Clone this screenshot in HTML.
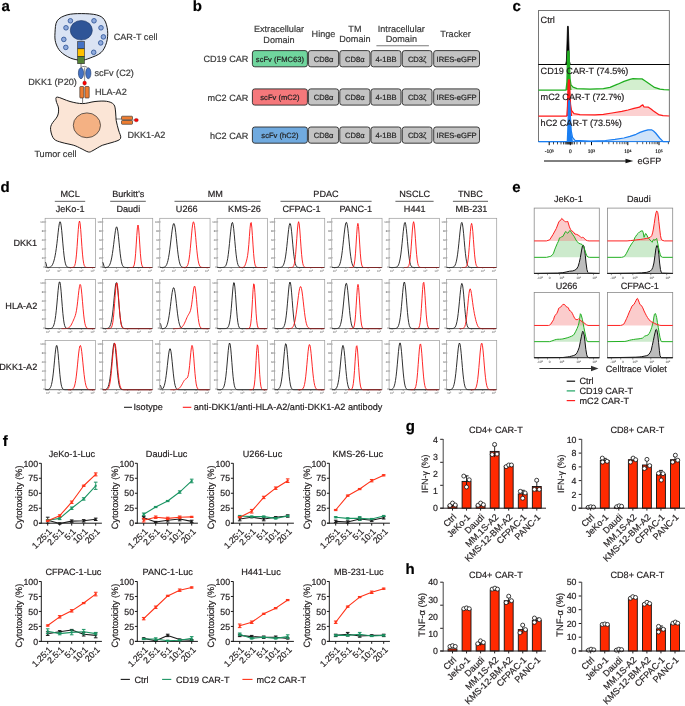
<!DOCTYPE html>
<html><head><meta charset="utf-8"><style>
html,body{margin:0;padding:0;background:#fff;}
svg{display:block;font-family:"Liberation Sans",sans-serif;text-rendering:geometricPrecision;filter:blur(0.3px);}
text{stroke-width:0.2px;}
</style></head><body>
<svg width="685" height="706" viewBox="0 0 685 706">
<rect width="685" height="706" fill="#fff"/>
<text x="1.45" y="10.75" font-size="15" text-anchor="start" fill="#000" stroke="#000" font-weight="bold">a</text>
<text x="192.8" y="10.8" font-size="15" text-anchor="start" fill="#000" stroke="#000" font-weight="bold">b</text>
<text x="512.6" y="10.9" font-size="15" text-anchor="start" fill="#000" stroke="#000" font-weight="bold">c</text>
<text x="0.6" y="192.1" font-size="15" text-anchor="start" fill="#000" stroke="#000" font-weight="bold">d</text>
<text x="512.3" y="192.4" font-size="15" text-anchor="start" fill="#000" stroke="#000" font-weight="bold">e</text>
<text x="2.65" y="446.2" font-size="15" text-anchor="start" fill="#000" stroke="#000" font-weight="bold">f</text>
<text x="405.8" y="431" font-size="15" text-anchor="start" fill="#000" stroke="#000" font-weight="bold">g</text>
<text x="405.6" y="574.4" font-size="15" text-anchor="start" fill="#000" stroke="#000" font-weight="bold">h</text>
<path d="M55,32.8 C55.25,29.15 55.18,23.78 57.2,20.8 C59.22,17.82 63.08,16.1 67.1,14.9 C71.12,13.7 76.38,13.6 81.3,13.6 C86.22,13.6 92.77,13.88 96.6,14.9 C100.43,15.92 102.47,17.07 104.3,19.7 C106.13,22.33 107.23,26.87 107.6,30.7 C107.97,34.53 107.6,39.05 106.5,42.7 C105.4,46.35 103.73,50.05 101,52.6 C98.27,55.15 93.38,56.73 90.1,58 C86.82,59.27 84.58,60.2 81.3,60.2 C78.02,60.2 73.87,59.45 70.4,58 C66.93,56.55 62.95,54.05 60.5,51.5 C58.05,48.95 56.62,45.82 55.7,42.7 C54.78,39.58 54.75,36.45 55,32.8Z" fill="#dae3f3" stroke="#1a1a1a" stroke-width="1"/>
<ellipse cx="81.3" cy="30.3" rx="11" ry="9.8" fill="#2f5597" stroke="#1f3864" stroke-width="0.6"/>
<circle cx="70.4" cy="20.8" r="2.3" fill="#8faadc" stroke="#2f5597" stroke-width="0.85"/>
<circle cx="66" cy="27.8" r="2.3" fill="#8faadc" stroke="#2f5597" stroke-width="0.85"/>
<circle cx="63.8" cy="39.4" r="2.3" fill="#8faadc" stroke="#2f5597" stroke-width="0.85"/>
<circle cx="65.8" cy="47.4" r="2.3" fill="#8faadc" stroke="#2f5597" stroke-width="0.85"/>
<circle cx="94" cy="20.8" r="2.3" fill="#8faadc" stroke="#2f5597" stroke-width="0.85"/>
<circle cx="101" cy="27.8" r="2.3" fill="#8faadc" stroke="#2f5597" stroke-width="0.85"/>
<circle cx="103.4" cy="36.9" r="2.3" fill="#8faadc" stroke="#2f5597" stroke-width="0.85"/>
<circle cx="100.7" cy="42.9" r="2.3" fill="#8faadc" stroke="#2f5597" stroke-width="0.85"/>
<circle cx="93.7" cy="52.3" r="2.3" fill="#8faadc" stroke="#2f5597" stroke-width="0.85"/>
<rect x="77.7" y="41.6" width="6.6" height="7.2" fill="#4472c4" stroke="#262626" stroke-width="0.6"/>
<rect x="77.7" y="48.8" width="6.6" height="7.5" fill="#ffc000" stroke="#262626" stroke-width="0.6"/>
<rect x="77.7" y="56.3" width="6.6" height="7.4" fill="#548235" stroke="#262626" stroke-width="0.6"/>
<path d="M81,63.7 L81,67.5" stroke="#262626" stroke-width="0.6" fill="none"/>
<path d="M81,67.5 C83,66 86,66 87.5,67.8" stroke="#262626" stroke-width="0.6" fill="none"/>
<ellipse cx="81" cy="73.2" rx="2.6" ry="5.5" fill="#4472c4" stroke="#1f3864" stroke-width="0.6"/>
<ellipse cx="88.3" cy="73.2" rx="2.6" ry="5.5" fill="#4472c4" stroke="#1f3864" stroke-width="0.6"/>
<path d="M84.6,67.5 L84.6,81" stroke="#262626" stroke-width="0.5" fill="none"/>
<ellipse cx="84.6" cy="83.1" rx="1.8" ry="2.1" fill="#ff0000" stroke="#7f0000" stroke-width="0.4"/>
<rect x="79.8" y="86.5" width="4" height="11.5" rx="0.8" fill="#ed7d31" stroke="#262626" stroke-width="0.6"/>
<rect x="84.9" y="86.5" width="4.3" height="11.5" rx="0.8" fill="#ed7d31" stroke="#262626" stroke-width="0.6"/>
<path d="M82.6,98 L82.6,103.6" stroke="#262626" stroke-width="0.6"/>
<path d="M57.4,97.1 C59.7,97.18 65.8,100.42 70,101.5 C74.2,102.58 78.43,103.6 82.6,103.6 C86.77,103.6 91,101.88 95,101.5 C99,101.12 103.47,100.8 106.6,101.3 C109.73,101.8 112.3,102.72 113.8,104.5 C115.3,106.28 115.2,109.33 115.6,112 C116,114.67 115.72,117.5 116.2,120.5 C116.68,123.5 117.78,126.98 118.5,130 C119.22,133.02 121.58,136.52 120.5,138.6 C119.42,140.68 115.03,141.38 112,142.5 C108.97,143.62 105.47,143.97 102.3,145.3 C99.13,146.63 95.3,149.38 93,150.5 C90.7,151.62 90.5,152.33 88.5,152 C86.5,151.67 83.45,149.62 81,148.5 C78.55,147.38 76.97,146.3 73.8,145.3 C70.63,144.3 65.28,143.53 62,142.5 C58.72,141.47 55.97,141.02 54.1,139.1 C52.23,137.18 51.23,133.43 50.8,131 C50.37,128.57 50.38,127 51.5,124.5 C52.62,122 56.33,118.75 57.5,116 C58.67,113.25 58.72,110.5 58.5,108 C58.28,105.5 56.38,102.82 56.2,101 C56.02,99.18 55.1,97.02 57.4,97.1Z" fill="#fbe5d6" stroke="#1a1a1a" stroke-width="1"/>
<ellipse cx="86.9" cy="125.3" rx="13.6" ry="12.4" fill="#f4b183" stroke="#262626" stroke-width="0.7"/>
<path d="M115.8,119 L121.5,119" stroke="#262626" stroke-width="0.6"/>
<rect x="121.5" y="116.2" width="11" height="3.6" rx="0.8" fill="#ed7d31" stroke="#262626" stroke-width="0.6"/>
<rect x="121.5" y="120.5" width="11" height="3.8" rx="0.8" fill="#ed7d31" stroke="#262626" stroke-width="0.6"/>
<path d="M132.5,120 L134.5,120" stroke="#262626" stroke-width="0.5"/>
<ellipse cx="136.3" cy="120.1" rx="2" ry="1.7" fill="#ff0000" stroke="#7f0000" stroke-width="0.4"/>
<text x="113.7" y="39.9" font-size="9.1" text-anchor="start" fill="#3c3c3c" stroke="#3c3c3c">CAR-T cell</text>
<text x="94.4" y="76.2" font-size="9.1" text-anchor="start" fill="#3c3c3c" stroke="#3c3c3c">scFv (C2)</text>
<text x="28.3" y="85" font-size="9.1" text-anchor="start" fill="#3c3c3c" stroke="#3c3c3c">DKK1 (P20)</text>
<text x="94.9" y="94.6" font-size="9.1" text-anchor="start" fill="#3c3c3c" stroke="#3c3c3c">HLA-A2</text>
<text x="127.4" y="138" font-size="9.1" text-anchor="start" fill="#3c3c3c" stroke="#3c3c3c">DKK1-A2</text>
<text x="34.4" y="157" font-size="9.1" text-anchor="start" fill="#3c3c3c" stroke="#3c3c3c">Tumor cell</text>
<text x="279" y="31.7" font-size="9.1" text-anchor="middle" fill="#3a3a3a" stroke="#3a3a3a">Extracellular</text>
<text x="279" y="42.5" font-size="9.1" text-anchor="middle" fill="#3a3a3a" stroke="#3a3a3a">Domain</text>
<text x="354.9" y="31.5" font-size="9.1" text-anchor="middle" fill="#3a3a3a" stroke="#3a3a3a">TM</text>
<text x="354.9" y="42.4" font-size="9.1" text-anchor="middle" fill="#3a3a3a" stroke="#3a3a3a">Domain</text>
<text x="401.3" y="31.5" font-size="9.1" text-anchor="middle" fill="#3a3a3a" stroke="#3a3a3a">Intracellular</text>
<text x="401.3" y="42.4" font-size="9.1" text-anchor="middle" fill="#3a3a3a" stroke="#3a3a3a">Domain</text>
<text x="323.5" y="37.3" font-size="9.1" text-anchor="middle" fill="#3a3a3a" stroke="#3a3a3a">Hinge</text>
<text x="455.6" y="36.5" font-size="9.1" text-anchor="middle" fill="#3a3a3a" stroke="#3a3a3a">Tracker</text>
<line x1="376.4" y1="45.8" x2="428.9" y2="45.8" stroke="#7a7a7a" stroke-width="1.1"/>
<text x="248.4" y="62.2" font-size="9.1" text-anchor="end" fill="#3a3a3a" stroke="#3a3a3a">CD19 CAR</text>
<rect x="252.4" y="50.6" width="55" height="16.2" rx="2.4" fill="#70d69e" stroke="#2a2a2a" stroke-width="0.9"/>
<text x="279.9" y="61.5" font-size="7.6" text-anchor="middle" fill="#222" stroke="#222">scFv (FMC63)</text>
<rect x="308.4" y="50.6" width="30.2" height="16.2" rx="2.4" fill="#c3c3c3" stroke="#2a2a2a" stroke-width="0.9"/>
<text x="323.5" y="61.5" font-size="7.6" text-anchor="middle" fill="#222" stroke="#222">CD8&#945;</text>
<rect x="339.8" y="50.6" width="30.2" height="16.2" rx="2.4" fill="#c3c3c3" stroke="#2a2a2a" stroke-width="0.9"/>
<text x="354.9" y="61.5" font-size="7.6" text-anchor="middle" fill="#222" stroke="#222">CD8&#945;</text>
<rect x="371" y="50.6" width="30" height="16.2" rx="2.4" fill="#c3c3c3" stroke="#2a2a2a" stroke-width="0.9"/>
<text x="386" y="61.5" font-size="7.6" text-anchor="middle" fill="#222" stroke="#222">4-1BB</text>
<rect x="402.3" y="50.6" width="29.7" height="16.2" rx="2.4" fill="#c3c3c3" stroke="#2a2a2a" stroke-width="0.9"/>
<text x="417.15" y="61.5" font-size="7.6" text-anchor="middle" fill="#222" stroke="#222">CD3&#950;</text>
<rect x="433.7" y="50.6" width="45.8" height="16.2" rx="2.4" fill="#c3c3c3" stroke="#2a2a2a" stroke-width="0.9"/>
<text x="456.6" y="61.5" font-size="7.6" text-anchor="middle" fill="#222" stroke="#222">IRES-eGFP</text>
<text x="248.4" y="100.5" font-size="9.1" text-anchor="end" fill="#3a3a3a" stroke="#3a3a3a">mC2 CAR</text>
<rect x="252.4" y="88.9" width="55" height="16.2" rx="2.4" fill="#f5787b" stroke="#2a2a2a" stroke-width="0.9"/>
<text x="279.9" y="99.8" font-size="7.6" text-anchor="middle" fill="#222" stroke="#222">scFv (mC2)</text>
<rect x="308.4" y="88.9" width="30.2" height="16.2" rx="2.4" fill="#c3c3c3" stroke="#2a2a2a" stroke-width="0.9"/>
<text x="323.5" y="99.8" font-size="7.6" text-anchor="middle" fill="#222" stroke="#222">CD8&#945;</text>
<rect x="339.8" y="88.9" width="30.2" height="16.2" rx="2.4" fill="#c3c3c3" stroke="#2a2a2a" stroke-width="0.9"/>
<text x="354.9" y="99.8" font-size="7.6" text-anchor="middle" fill="#222" stroke="#222">CD8&#945;</text>
<rect x="371" y="88.9" width="30" height="16.2" rx="2.4" fill="#c3c3c3" stroke="#2a2a2a" stroke-width="0.9"/>
<text x="386" y="99.8" font-size="7.6" text-anchor="middle" fill="#222" stroke="#222">4-1BB</text>
<rect x="402.3" y="88.9" width="29.7" height="16.2" rx="2.4" fill="#c3c3c3" stroke="#2a2a2a" stroke-width="0.9"/>
<text x="417.15" y="99.8" font-size="7.6" text-anchor="middle" fill="#222" stroke="#222">CD3&#950;</text>
<rect x="433.7" y="88.9" width="45.8" height="16.2" rx="2.4" fill="#c3c3c3" stroke="#2a2a2a" stroke-width="0.9"/>
<text x="456.6" y="99.8" font-size="7.6" text-anchor="middle" fill="#222" stroke="#222">IRES-eGFP</text>
<text x="248.4" y="138.6" font-size="9.1" text-anchor="end" fill="#3a3a3a" stroke="#3a3a3a">hC2 CAR</text>
<rect x="252.4" y="127" width="55" height="16.2" rx="2.4" fill="#70aadf" stroke="#2a2a2a" stroke-width="0.9"/>
<text x="279.9" y="137.9" font-size="7.6" text-anchor="middle" fill="#222" stroke="#222">scFv (hC2)</text>
<rect x="308.4" y="127" width="30.2" height="16.2" rx="2.4" fill="#c3c3c3" stroke="#2a2a2a" stroke-width="0.9"/>
<text x="323.5" y="137.9" font-size="7.6" text-anchor="middle" fill="#222" stroke="#222">CD8&#945;</text>
<rect x="339.8" y="127" width="30.2" height="16.2" rx="2.4" fill="#c3c3c3" stroke="#2a2a2a" stroke-width="0.9"/>
<text x="354.9" y="137.9" font-size="7.6" text-anchor="middle" fill="#222" stroke="#222">CD8&#945;</text>
<rect x="371" y="127" width="30" height="16.2" rx="2.4" fill="#c3c3c3" stroke="#2a2a2a" stroke-width="0.9"/>
<text x="386" y="137.9" font-size="7.6" text-anchor="middle" fill="#222" stroke="#222">4-1BB</text>
<rect x="402.3" y="127" width="29.7" height="16.2" rx="2.4" fill="#c3c3c3" stroke="#2a2a2a" stroke-width="0.9"/>
<text x="417.15" y="137.9" font-size="7.6" text-anchor="middle" fill="#222" stroke="#222">CD3&#950;</text>
<rect x="433.7" y="127" width="45.8" height="16.2" rx="2.4" fill="#c3c3c3" stroke="#2a2a2a" stroke-width="0.9"/>
<text x="456.6" y="137.9" font-size="7.6" text-anchor="middle" fill="#222" stroke="#222">IRES-eGFP</text>
<rect x="538.5" y="10.6" width="130.8" height="131" fill="none" stroke="#555" stroke-width="0.8"/>
<line x1="538.5" y1="64.5" x2="669.3" y2="64.5" stroke="#444" stroke-width="0.9"/>
<polygon points="538.5,64.5 538.5,64.5 565.6,64.5 566.4,61 567.1,40 567.5,26.3 568.3,26.3 568.8,42 569.4,61 570.3,64.5 669.3,64.5 669.3,64.5" stroke="#000" stroke-width="0.8" fill="#000" stroke-linejoin="round"/>
<polygon points="538.5,90.1 538.5,90.1 566,90.1 566.9,82 567.5,58 567.9,51 568.9,51 569.4,62 570.1,79 571,84.8 573,87.2 577,88.6 590,89.1 603.4,88.6 610,87.3 617.7,84.2 624,81.4 630,79.4 633,78.7 638,78.8 642,78.9 644.5,80.5 647.4,82.4 651,85 654.5,87.4 660,89.2 664,89.7 669.3,89.9 669.3,90.1" stroke="none" stroke-width="0" fill="#d3efcf" stroke-linejoin="round"/>
<polygon points="566.2,90.1 566.2,90.1 566.9,82 567.5,58 567.9,51 568.9,51 569.4,62 570.1,79 571,86 571.5,90.1 571.5,90.1" stroke="none" stroke-width="0" fill="#1fae1f" stroke-linejoin="round"/>
<polyline points="538.5,90.1 566,90.1 566.9,82 567.5,58 567.9,51 568.9,51 569.4,62 570.1,79 571,84.8 573,87.2 577,88.6 590,89.1 603.4,88.6 610,87.3 617.7,84.2 624,81.4 630,79.4 633,78.7 638,78.8 642,78.9 644.5,80.5 647.4,82.4 651,85 654.5,87.4 660,89.2 664,89.7 669.3,89.9" stroke="#1fae1f" stroke-width="1.25" fill="none" stroke-linejoin="round"/>
<polygon points="538.5,116 538.5,116 566.8,116 567.5,106 568.1,84 568.5,79.8 569.4,79.8 569.9,90 570.5,104 571.5,110.5 574,113.6 580,114.7 595,114.9 603.4,114.3 612,113 621.8,111.4 628,110 634,108.4 639.5,107.2 641.5,105.6 642.8,104.8 644,107 648.4,107.2 651,109 653.5,111 658.6,114.6 663,115.7 669.3,116 669.3,116" stroke="none" stroke-width="0" fill="#fcd0d0" stroke-linejoin="round"/>
<polygon points="567,116 567,116 567.5,106 568.1,84 568.5,79.8 569.4,79.8 569.9,90 570.5,104 571.5,110.5 572.2,116 572.2,116" stroke="none" stroke-width="0" fill="#ff1a1a" stroke-linejoin="round"/>
<polyline points="538.5,116 566.8,116 567.5,106 568.1,84 568.5,79.8 569.4,79.8 569.9,90 570.5,104 571.5,110.5 574,113.6 580,114.7 595,114.9 603.4,114.3 612,113 621.8,111.4 628,110 634,108.4 639.5,107.2 641.5,105.6 642.8,104.8 644,107 648.4,107.2 651,109 653.5,111 658.6,114.6 663,115.7 669.3,116" stroke="#ff1a1a" stroke-width="1.25" fill="none" stroke-linejoin="round"/>
<polygon points="538.5,141.6 538.5,141.6 567.3,141.6 567.9,128 568.6,103 569.1,100.2 569.8,102.5 570.4,117 571.2,130.5 572.5,137.3 575,140.4 590,141.2 605.5,140.5 615,139.4 623.9,138 630,136.4 636.1,134.3 640,132.4 644.3,130.9 648,129.8 651.5,129.8 653.5,131 655.6,133 659.6,138 663.2,141.6 669.3,141.6 669.3,141.6" stroke="none" stroke-width="0" fill="#cfe3f9" stroke-linejoin="round"/>
<polygon points="567.5,141.6 567.5,141.6 567.9,128 568.6,103 569.1,100.2 569.8,102.5 570.4,117 571.2,130.5 572,137 573,141.6 573,141.6" stroke="none" stroke-width="0" fill="#1a7ef2" stroke-linejoin="round"/>
<polyline points="538.5,141.6 567.3,141.6 567.9,128 568.6,103 569.1,100.2 569.8,102.5 570.4,117 571.2,130.5 572.5,137.3 575,140.4 590,141.2 605.5,140.5 615,139.4 623.9,138 630,136.4 636.1,134.3 640,132.4 644.3,130.9 648,129.8 651.5,129.8 653.5,131 655.6,133 659.6,138 663.2,141.6 669.3,141.6" stroke="#1a7ef2" stroke-width="1.25" fill="none" stroke-linejoin="round"/>
<line x1="538.5" y1="141.6" x2="669.3" y2="141.6" stroke="#1a7ef2" stroke-width="1.0"/>
<line x1="549.2" y1="142" x2="549.2" y2="145.2" stroke="#000" stroke-width="1.0"/>
<line x1="570.3" y1="142" x2="570.3" y2="145.2" stroke="#000" stroke-width="1.0"/>
<line x1="591.5" y1="142" x2="591.5" y2="145.2" stroke="#000" stroke-width="1.0"/>
<line x1="627.8" y1="142" x2="627.8" y2="145.2" stroke="#000" stroke-width="1.0"/>
<line x1="659" y1="142" x2="659" y2="145.2" stroke="#000" stroke-width="1.0"/>
<line x1="602.43" y1="142" x2="602.43" y2="144.2" stroke="#111" stroke-width="0.7"/>
<line x1="637.19" y1="142" x2="637.19" y2="144.2" stroke="#111" stroke-width="0.7"/>
<line x1="608.82" y1="142" x2="608.82" y2="144.2" stroke="#111" stroke-width="0.7"/>
<line x1="642.69" y1="142" x2="642.69" y2="144.2" stroke="#111" stroke-width="0.7"/>
<line x1="613.35" y1="142" x2="613.35" y2="144.2" stroke="#111" stroke-width="0.7"/>
<line x1="646.58" y1="142" x2="646.58" y2="144.2" stroke="#111" stroke-width="0.7"/>
<line x1="616.87" y1="142" x2="616.87" y2="144.2" stroke="#111" stroke-width="0.7"/>
<line x1="649.61" y1="142" x2="649.61" y2="144.2" stroke="#111" stroke-width="0.7"/>
<line x1="619.75" y1="142" x2="619.75" y2="144.2" stroke="#111" stroke-width="0.7"/>
<line x1="652.08" y1="142" x2="652.08" y2="144.2" stroke="#111" stroke-width="0.7"/>
<line x1="622.18" y1="142" x2="622.18" y2="144.2" stroke="#111" stroke-width="0.7"/>
<line x1="654.17" y1="142" x2="654.17" y2="144.2" stroke="#111" stroke-width="0.7"/>
<line x1="624.28" y1="142" x2="624.28" y2="144.2" stroke="#111" stroke-width="0.7"/>
<line x1="655.98" y1="142" x2="655.98" y2="144.2" stroke="#111" stroke-width="0.7"/>
<line x1="626.14" y1="142" x2="626.14" y2="144.2" stroke="#111" stroke-width="0.7"/>
<line x1="657.57" y1="142" x2="657.57" y2="144.2" stroke="#111" stroke-width="0.7"/>
<line x1="668.39" y1="142" x2="668.39" y2="144.2" stroke="#111" stroke-width="0.7"/>
<line x1="553.5" y1="142" x2="553.5" y2="144.4" stroke="#000" stroke-width="0.7"/>
<line x1="557.5" y1="142" x2="557.5" y2="144.4" stroke="#000" stroke-width="0.7"/>
<line x1="561" y1="142" x2="561" y2="144.4" stroke="#000" stroke-width="0.7"/>
<line x1="563.5" y1="142" x2="563.5" y2="144.4" stroke="#000" stroke-width="0.7"/>
<line x1="565.2" y1="142" x2="565.2" y2="144.4" stroke="#000" stroke-width="0.7"/>
<line x1="566.2" y1="142" x2="566.2" y2="144.4" stroke="#000" stroke-width="0.7"/>
<line x1="567" y1="142" x2="567" y2="144.4" stroke="#000" stroke-width="0.7"/>
<line x1="567.7" y1="142" x2="567.7" y2="144.4" stroke="#000" stroke-width="0.7"/>
<line x1="568.4" y1="142" x2="568.4" y2="144.4" stroke="#000" stroke-width="0.7"/>
<line x1="569.1" y1="142" x2="569.1" y2="144.4" stroke="#000" stroke-width="0.7"/>
<line x1="569.7" y1="142" x2="569.7" y2="144.4" stroke="#000" stroke-width="0.7"/>
<line x1="571" y1="142" x2="571" y2="144.4" stroke="#000" stroke-width="0.7"/>
<line x1="571.8" y1="142" x2="571.8" y2="144.4" stroke="#000" stroke-width="0.7"/>
<line x1="572.8" y1="142" x2="572.8" y2="144.4" stroke="#000" stroke-width="0.7"/>
<line x1="574.5" y1="142" x2="574.5" y2="144.4" stroke="#000" stroke-width="0.7"/>
<line x1="577" y1="142" x2="577" y2="144.4" stroke="#000" stroke-width="0.7"/>
<line x1="580.5" y1="142" x2="580.5" y2="144.4" stroke="#000" stroke-width="0.7"/>
<line x1="585" y1="142" x2="585" y2="144.4" stroke="#000" stroke-width="0.7"/>
<text x="549.2" y="153.4" font-size="5.4" text-anchor="middle" fill="#222" stroke="#222" font-family="Liberation Serif, serif">-10<tspan dy="-1.5" font-size="3.8">3</tspan></text>
<text x="570.3" y="153.4" font-size="5.4" text-anchor="middle" fill="#222" stroke="#222" font-family="Liberation Serif, serif">0</text>
<text x="591.5" y="153.4" font-size="5.4" text-anchor="middle" fill="#222" stroke="#222" font-family="Liberation Serif, serif">10<tspan dy="-1.5" font-size="3.8">3</tspan></text>
<text x="627.8" y="153.4" font-size="5.4" text-anchor="middle" fill="#222" stroke="#222" font-family="Liberation Serif, serif">10<tspan dy="-1.5" font-size="3.8">4</tspan></text>
<text x="659" y="153.4" font-size="5.4" text-anchor="middle" fill="#222" stroke="#222" font-family="Liberation Serif, serif">10<tspan dy="-1.5" font-size="3.8">5</tspan></text>
<text x="540.6" y="22.6" font-size="9.1" text-anchor="start" fill="#231f20" stroke="#231f20">Ctrl</text>
<text x="540.6" y="74.2" font-size="9.1" text-anchor="start" fill="#231f20" stroke="#231f20">CD19 CAR-T (74.5%)</text>
<text x="540.6" y="100.4" font-size="9.1" text-anchor="start" fill="#231f20" stroke="#231f20">mC2 CAR-T (72.7%)</text>
<text x="540.6" y="126.4" font-size="9.1" text-anchor="start" fill="#231f20" stroke="#231f20">hC2 CAR-T (73.5%)</text>
<line x1="544" y1="161" x2="627.5" y2="161" stroke="#000" stroke-width="1.0"/>
<path d="M625.5,158.8 L633.3,161 L625.5,163.2 Z" fill="#111"/>
<text x="637.5" y="164" font-size="9.1" text-anchor="start" fill="#231f20" stroke="#231f20">eGFP</text>
<text x="70.1" y="197.2" font-size="9.1" text-anchor="middle" fill="#231f20" stroke="#231f20">MCL</text>
<line x1="54.8" y1="201.4" x2="85.2" y2="201.4" stroke="#7d7d7d" stroke-width="1.2"/>
<text x="128.3" y="197.2" font-size="9.1" text-anchor="middle" fill="#231f20" stroke="#231f20">Burkitt&#8217;s</text>
<line x1="110.2" y1="201.4" x2="145.8" y2="201.4" stroke="#7d7d7d" stroke-width="1.2"/>
<text x="215.3" y="197.2" font-size="9.1" text-anchor="middle" fill="#231f20" stroke="#231f20">MM</text>
<line x1="174.5" y1="201.4" x2="260.6" y2="201.4" stroke="#7d7d7d" stroke-width="1.2"/>
<text x="326" y="197.2" font-size="9.1" text-anchor="middle" fill="#231f20" stroke="#231f20">PDAC</text>
<line x1="280.5" y1="201.4" x2="371.6" y2="201.4" stroke="#7d7d7d" stroke-width="1.2"/>
<text x="414.7" y="197.2" font-size="9.1" text-anchor="middle" fill="#231f20" stroke="#231f20">NSCLC</text>
<line x1="395.4" y1="201.4" x2="433.6" y2="201.4" stroke="#7d7d7d" stroke-width="1.2"/>
<text x="470.4" y="197.2" font-size="9.1" text-anchor="middle" fill="#231f20" stroke="#231f20">TNBC</text>
<line x1="452.9" y1="201.4" x2="488" y2="201.4" stroke="#7d7d7d" stroke-width="1.2"/>
<text x="70.1" y="211.7" font-size="9.1" text-anchor="middle" fill="#231f20" stroke="#231f20">JeKo-1</text>
<text x="128.3" y="211.7" font-size="9.1" text-anchor="middle" fill="#231f20" stroke="#231f20">Daudi</text>
<text x="186.7" y="211.7" font-size="9.1" text-anchor="middle" fill="#231f20" stroke="#231f20">U266</text>
<text x="244.5" y="211.7" font-size="9.1" text-anchor="middle" fill="#231f20" stroke="#231f20">KMS-26</text>
<text x="301.5" y="211.7" font-size="9.1" text-anchor="middle" fill="#231f20" stroke="#231f20">CFPAC-1</text>
<text x="355.8" y="211.7" font-size="9.1" text-anchor="middle" fill="#231f20" stroke="#231f20">PANC-1</text>
<text x="414.7" y="211.7" font-size="9.1" text-anchor="middle" fill="#231f20" stroke="#231f20">H441</text>
<text x="471.5" y="211.7" font-size="9.1" text-anchor="middle" fill="#231f20" stroke="#231f20">MB-231</text>
<text x="37.2" y="245.9" font-size="9.1" text-anchor="end" fill="#231f20" stroke="#231f20">DKK1</text>
<text x="37.2" y="308.6" font-size="9.1" text-anchor="end" fill="#231f20" stroke="#231f20">HLA-A2</text>
<text x="37.2" y="369.6" font-size="9.1" text-anchor="end" fill="#231f20" stroke="#231f20">DKK1-A2</text>
<rect x="45.1" y="218.3" width="50.3" height="49.2" fill="none" stroke="#9a9a9a" stroke-width="0.7"/>
<line x1="45.1" y1="266.7" x2="46.2" y2="266.7" stroke="#666" stroke-width="0.45"/>
<text x="44.7" y="267.6" font-size="2.7" text-anchor="end" fill="#777" stroke="#777" style="stroke-width:0.05px">0</text>
<line x1="45.1" y1="257.75" x2="46.2" y2="257.75" stroke="#666" stroke-width="0.45"/>
<text x="44.7" y="258.65" font-size="2.7" text-anchor="end" fill="#777" stroke="#777" style="stroke-width:0.05px">20</text>
<line x1="45.1" y1="248.8" x2="46.2" y2="248.8" stroke="#666" stroke-width="0.45"/>
<text x="44.7" y="249.7" font-size="2.7" text-anchor="end" fill="#777" stroke="#777" style="stroke-width:0.05px">40</text>
<line x1="45.1" y1="239.85" x2="46.2" y2="239.85" stroke="#666" stroke-width="0.45"/>
<text x="44.7" y="240.75" font-size="2.7" text-anchor="end" fill="#777" stroke="#777" style="stroke-width:0.05px">60</text>
<line x1="45.1" y1="230.9" x2="46.2" y2="230.9" stroke="#666" stroke-width="0.45"/>
<text x="44.7" y="231.8" font-size="2.7" text-anchor="end" fill="#777" stroke="#777" style="stroke-width:0.05px">80</text>
<line x1="45.1" y1="221.95" x2="46.2" y2="221.95" stroke="#666" stroke-width="0.45"/>
<text x="44.7" y="222.85" font-size="2.7" text-anchor="end" fill="#777" stroke="#777" style="stroke-width:0.05px">100</text>
<line x1="48.1" y1="267.5" x2="48.1" y2="268.8" stroke="#666" stroke-width="0.45"/>
<text x="48.1" y="272.1" font-size="2.7" text-anchor="middle" fill="#777" stroke="#777" style="stroke-width:0.05px">10<tspan dy="-1" font-size="2">1</tspan></text>
<line x1="59.2" y1="267.5" x2="59.2" y2="268.8" stroke="#666" stroke-width="0.45"/>
<text x="59.2" y="272.1" font-size="2.7" text-anchor="middle" fill="#777" stroke="#777" style="stroke-width:0.05px">10<tspan dy="-1" font-size="2">2</tspan></text>
<line x1="70.3" y1="267.5" x2="70.3" y2="268.8" stroke="#666" stroke-width="0.45"/>
<text x="70.3" y="272.1" font-size="2.7" text-anchor="middle" fill="#777" stroke="#777" style="stroke-width:0.05px">10<tspan dy="-1" font-size="2">3</tspan></text>
<line x1="81.4" y1="267.5" x2="81.4" y2="268.8" stroke="#666" stroke-width="0.45"/>
<text x="81.4" y="272.1" font-size="2.7" text-anchor="middle" fill="#777" stroke="#777" style="stroke-width:0.05px">10<tspan dy="-1" font-size="2">4</tspan></text>
<line x1="92.5" y1="267.5" x2="92.5" y2="268.8" stroke="#666" stroke-width="0.45"/>
<text x="92.5" y="272.1" font-size="2.7" text-anchor="middle" fill="#777" stroke="#777" style="stroke-width:0.05px">10<tspan dy="-1" font-size="2">5</tspan></text>
<polyline points="45.5,262.15 46.1,263.66 46.7,266.48 47.3,267.39 47.9,267.47 48.5,267.43 49.1,267.36 49.7,267.24 50.3,267.02 50.9,266.66 51.5,266.12 52.1,265.32 52.7,264.22 53.3,262.76 53.9,260.91 54.5,258.62 55.1,255.82 55.7,252.44 56.3,248.38 56.9,243.63 57.5,238.32 58.1,232.79 58.7,227.66 59.3,223.71 59.9,221.7 60.5,222.16 61.1,225.18 61.7,230.34 62.3,236.89 62.9,243.86 63.5,250.4 64.1,255.93 64.7,260.18 65.3,263.16 65.9,265.1 66.5,266.26 67.1,266.9 67.7,267.23 68.3,267.39 68.9,267.45 69.5,267.48 70.1,267.49 70.7,267.5 71.3,267.5 71.9,267.5 72.5,267.5 73.1,267.5 73.7,267.5 74.3,267.5 74.9,267.5 75.5,267.5 76.1,267.5 76.7,267.5 77.3,267.5 77.9,267.5 78.5,267.5 79.1,267.5 79.7,267.5 80.3,267.5 80.9,267.5 81.5,267.5 82.1,267.5 82.7,267.5 83.3,267.5 83.9,267.5 84.5,267.5 85.1,267.5 85.7,267.5 86.3,267.5 86.9,267.5 87.5,267.5 88.1,267.5 88.7,267.5 89.3,267.5 89.9,267.5 90.5,267.5 91.1,267.5 91.7,267.5 92.3,267.5 92.9,267.5 93.5,267.5 94.1,267.5 94.7,267.5" stroke="#1a1a1a" stroke-width="0.9" fill="none" stroke-linejoin="round"/>
<polyline points="69.9,267.5 70.5,267.5 71.1,267.5 71.7,267.49 72.3,267.46 72.9,267.39 73.5,267.18 74.1,266.68 74.7,265.59 75.3,263.46 75.9,259.78 76.5,254.13 77.1,246.56 77.7,237.81 78.3,229.41 78.9,223.26 79.5,221 80.1,223.26 80.7,229.41 81.3,237.81 81.9,246.56 82.5,254.13 83.1,259.78 83.7,263.46 84.3,265.59 84.9,266.68 85.5,267.18 86.1,267.39 86.7,267.46 87.3,267.49 87.9,267.5 88.5,267.5 89.1,267.5 89.7,267.5 90.3,267.5 90.9,267.5 91.5,267.5 92.1,267.5 92.7,267.5 93.3,267.5 93.9,267.5 94.5,267.5" stroke="#ff1010" stroke-width="0.9" fill="none" stroke-linejoin="round"/>
<line x1="45.1" y1="267.5" x2="95.4" y2="267.5" stroke="#333" stroke-width="0.5"/>
<rect x="102.43" y="218.3" width="50.3" height="49.2" fill="none" stroke="#9a9a9a" stroke-width="0.7"/>
<line x1="102.43" y1="266.7" x2="103.53" y2="266.7" stroke="#666" stroke-width="0.45"/>
<text x="102.03" y="267.6" font-size="2.7" text-anchor="end" fill="#777" stroke="#777" style="stroke-width:0.05px">0</text>
<line x1="102.43" y1="257.75" x2="103.53" y2="257.75" stroke="#666" stroke-width="0.45"/>
<text x="102.03" y="258.65" font-size="2.7" text-anchor="end" fill="#777" stroke="#777" style="stroke-width:0.05px">20</text>
<line x1="102.43" y1="248.8" x2="103.53" y2="248.8" stroke="#666" stroke-width="0.45"/>
<text x="102.03" y="249.7" font-size="2.7" text-anchor="end" fill="#777" stroke="#777" style="stroke-width:0.05px">40</text>
<line x1="102.43" y1="239.85" x2="103.53" y2="239.85" stroke="#666" stroke-width="0.45"/>
<text x="102.03" y="240.75" font-size="2.7" text-anchor="end" fill="#777" stroke="#777" style="stroke-width:0.05px">60</text>
<line x1="102.43" y1="230.9" x2="103.53" y2="230.9" stroke="#666" stroke-width="0.45"/>
<text x="102.03" y="231.8" font-size="2.7" text-anchor="end" fill="#777" stroke="#777" style="stroke-width:0.05px">80</text>
<line x1="102.43" y1="221.95" x2="103.53" y2="221.95" stroke="#666" stroke-width="0.45"/>
<text x="102.03" y="222.85" font-size="2.7" text-anchor="end" fill="#777" stroke="#777" style="stroke-width:0.05px">100</text>
<line x1="105.43" y1="267.5" x2="105.43" y2="268.8" stroke="#666" stroke-width="0.45"/>
<text x="105.43" y="272.1" font-size="2.7" text-anchor="middle" fill="#777" stroke="#777" style="stroke-width:0.05px">10<tspan dy="-1" font-size="2">1</tspan></text>
<line x1="116.53" y1="267.5" x2="116.53" y2="268.8" stroke="#666" stroke-width="0.45"/>
<text x="116.53" y="272.1" font-size="2.7" text-anchor="middle" fill="#777" stroke="#777" style="stroke-width:0.05px">10<tspan dy="-1" font-size="2">2</tspan></text>
<line x1="127.63" y1="267.5" x2="127.63" y2="268.8" stroke="#666" stroke-width="0.45"/>
<text x="127.63" y="272.1" font-size="2.7" text-anchor="middle" fill="#777" stroke="#777" style="stroke-width:0.05px">10<tspan dy="-1" font-size="2">3</tspan></text>
<line x1="138.73" y1="267.5" x2="138.73" y2="268.8" stroke="#666" stroke-width="0.45"/>
<text x="138.73" y="272.1" font-size="2.7" text-anchor="middle" fill="#777" stroke="#777" style="stroke-width:0.05px">10<tspan dy="-1" font-size="2">4</tspan></text>
<line x1="149.83" y1="267.5" x2="149.83" y2="268.8" stroke="#666" stroke-width="0.45"/>
<text x="149.83" y="272.1" font-size="2.7" text-anchor="middle" fill="#777" stroke="#777" style="stroke-width:0.05px">10<tspan dy="-1" font-size="2">5</tspan></text>
<polyline points="102.83,262.21 103.43,263.97 104.03,266.37 104.63,267.32 105.23,267.47 105.83,267.46 106.43,267.4 107.03,267.3 107.63,267.1 108.23,266.76 108.83,266.2 109.43,265.32 110.03,264.06 110.63,262.3 111.23,259.99 111.83,257.08 112.43,253.53 113.03,249.36 113.63,244.68 114.23,239.71 114.83,234.86 115.43,230.67 116.03,227.8 116.63,226.8 117.23,227.99 117.83,231.3 118.43,236.28 119.03,242.21 119.63,248.28 120.23,253.82 120.83,258.39 121.43,261.82 122.03,264.19 122.63,265.69 123.23,266.58 123.83,267.06 124.43,267.3 125.03,267.42 125.63,267.47 126.23,267.49 126.83,267.5 127.43,267.5 128.03,267.5 128.63,267.5 129.23,267.5 129.83,267.5 130.43,267.5 131.03,267.5 131.63,267.5 132.23,267.5 132.83,267.5 133.43,267.5 134.03,267.5 134.63,267.5 135.23,267.5 135.83,267.5 136.43,267.5 137.03,267.5 137.63,267.5 138.23,267.5 138.83,267.5 139.43,267.5 140.03,267.5 140.63,267.5 141.23,267.5 141.83,267.5 142.43,267.5 143.03,267.5 143.63,267.5 144.23,267.5 144.83,267.5 145.43,267.5 146.03,267.5 146.63,267.5 147.23,267.5 147.83,267.5 148.43,267.5 149.03,267.5 149.63,267.5 150.23,267.5 150.83,267.5 151.43,267.5 152.03,267.5" stroke="#1a1a1a" stroke-width="0.9" fill="none" stroke-linejoin="round"/>
<polyline points="129.6,267.5 130.2,267.5 130.8,267.5 131.4,267.49 132,267.46 132.6,267.36 133.2,267.03 133.8,266.14 134.4,264.12 135,260.17 135.6,253.7 136.2,244.93 136.8,235.42 137.4,227.89 138,225 138.6,227.89 139.2,235.42 139.8,244.93 140.4,253.7 141,260.17 141.6,264.12 142.2,266.14 142.8,267.03 143.4,267.36 144,267.46 144.6,267.49 145.2,267.5 145.8,267.5 146.4,267.5 147,267.5 147.6,267.5 148.2,267.5 148.8,267.5 149.4,267.5 150,267.5 150.6,267.5 151.2,267.5 151.8,267.5" stroke="#ff1010" stroke-width="0.9" fill="none" stroke-linejoin="round"/>
<line x1="102.43" y1="267.5" x2="152.73" y2="267.5" stroke="#333" stroke-width="0.5"/>
<rect x="159.76" y="218.3" width="50.3" height="49.2" fill="none" stroke="#9a9a9a" stroke-width="0.7"/>
<line x1="159.76" y1="266.7" x2="160.86" y2="266.7" stroke="#666" stroke-width="0.45"/>
<text x="159.36" y="267.6" font-size="2.7" text-anchor="end" fill="#777" stroke="#777" style="stroke-width:0.05px">0</text>
<line x1="159.76" y1="257.75" x2="160.86" y2="257.75" stroke="#666" stroke-width="0.45"/>
<text x="159.36" y="258.65" font-size="2.7" text-anchor="end" fill="#777" stroke="#777" style="stroke-width:0.05px">20</text>
<line x1="159.76" y1="248.8" x2="160.86" y2="248.8" stroke="#666" stroke-width="0.45"/>
<text x="159.36" y="249.7" font-size="2.7" text-anchor="end" fill="#777" stroke="#777" style="stroke-width:0.05px">40</text>
<line x1="159.76" y1="239.85" x2="160.86" y2="239.85" stroke="#666" stroke-width="0.45"/>
<text x="159.36" y="240.75" font-size="2.7" text-anchor="end" fill="#777" stroke="#777" style="stroke-width:0.05px">60</text>
<line x1="159.76" y1="230.9" x2="160.86" y2="230.9" stroke="#666" stroke-width="0.45"/>
<text x="159.36" y="231.8" font-size="2.7" text-anchor="end" fill="#777" stroke="#777" style="stroke-width:0.05px">80</text>
<line x1="159.76" y1="221.95" x2="160.86" y2="221.95" stroke="#666" stroke-width="0.45"/>
<text x="159.36" y="222.85" font-size="2.7" text-anchor="end" fill="#777" stroke="#777" style="stroke-width:0.05px">100</text>
<line x1="162.76" y1="267.5" x2="162.76" y2="268.8" stroke="#666" stroke-width="0.45"/>
<text x="162.76" y="272.1" font-size="2.7" text-anchor="middle" fill="#777" stroke="#777" style="stroke-width:0.05px">10<tspan dy="-1" font-size="2">1</tspan></text>
<line x1="173.86" y1="267.5" x2="173.86" y2="268.8" stroke="#666" stroke-width="0.45"/>
<text x="173.86" y="272.1" font-size="2.7" text-anchor="middle" fill="#777" stroke="#777" style="stroke-width:0.05px">10<tspan dy="-1" font-size="2">2</tspan></text>
<line x1="184.96" y1="267.5" x2="184.96" y2="268.8" stroke="#666" stroke-width="0.45"/>
<text x="184.96" y="272.1" font-size="2.7" text-anchor="middle" fill="#777" stroke="#777" style="stroke-width:0.05px">10<tspan dy="-1" font-size="2">3</tspan></text>
<line x1="196.06" y1="267.5" x2="196.06" y2="268.8" stroke="#666" stroke-width="0.45"/>
<text x="196.06" y="272.1" font-size="2.7" text-anchor="middle" fill="#777" stroke="#777" style="stroke-width:0.05px">10<tspan dy="-1" font-size="2">4</tspan></text>
<line x1="207.16" y1="267.5" x2="207.16" y2="268.8" stroke="#666" stroke-width="0.45"/>
<text x="207.16" y="272.1" font-size="2.7" text-anchor="middle" fill="#777" stroke="#777" style="stroke-width:0.05px">10<tspan dy="-1" font-size="2">5</tspan></text>
<polyline points="160.16,267.5 160.76,267.5 161.36,267.49 161.96,267.48 162.56,267.46 163.16,267.41 163.76,267.31 164.36,267.14 164.96,266.83 165.56,266.33 166.16,265.54 166.76,264.36 167.36,262.7 167.96,260.47 168.56,257.58 169.16,254.02 169.76,249.8 170.36,245.03 170.96,239.93 171.56,234.81 172.16,230.11 172.76,226.34 173.36,223.98 173.96,223.4 174.56,224.77 175.16,227.98 175.76,232.67 176.36,238.28 176.96,244.19 177.56,249.84 178.16,254.79 178.76,258.81 179.36,261.87 179.96,264.04 180.56,265.48 181.16,266.38 181.76,266.91 182.36,267.21 182.96,267.36 183.56,267.44 184.16,267.47 184.76,267.49 185.36,267.5 185.96,267.5 186.56,267.5 187.16,267.5 187.76,267.5 188.36,267.5 188.96,267.5 189.56,267.5 190.16,267.5 190.76,267.5 191.36,267.5 191.96,267.5 192.56,267.5 193.16,267.5 193.76,267.5 194.36,267.5 194.96,267.5 195.56,267.5 196.16,267.5 196.76,267.5 197.36,267.5 197.96,267.5 198.56,267.5 199.16,267.5 199.76,267.5 200.36,267.5 200.96,267.5 201.56,267.5 202.16,267.5 202.76,267.5 203.36,267.5 203.96,267.5 204.56,267.5 205.16,267.5 205.76,267.5 206.36,267.5 206.96,267.5 207.56,267.5 208.16,267.5 208.76,267.5 209.36,267.5" stroke="#1a1a1a" stroke-width="0.9" fill="none" stroke-linejoin="round"/>
<polyline points="181.9,267.5 182.5,267.5 183.1,267.5 183.7,267.49 184.3,267.47 184.9,267.43 185.5,267.32 186.1,267.11 186.7,266.67 187.3,265.87 187.9,264.49 188.5,262.27 189.1,258.97 189.7,254.42 190.3,248.67 190.9,242.03 191.5,235.14 192.1,228.87 192.7,224.18 193.3,221.86 193.9,222.33 194.5,225.51 195.1,230.83 195.7,237.41 196.3,244.31 196.9,250.71 197.5,256.08 198.1,260.2 198.7,263.12 199.3,265.03 199.9,266.19 200.5,266.85 201.1,267.2 201.7,267.37 202.3,267.44 202.9,267.48 203.5,267.49 204.1,267.5 204.7,267.5 205.3,267.5 205.9,267.5 206.5,267.5 207.1,267.5 207.7,267.5 208.3,267.5 208.9,267.5 209.5,267.5" stroke="#ff1010" stroke-width="0.9" fill="none" stroke-linejoin="round"/>
<line x1="159.76" y1="267.5" x2="210.06" y2="267.5" stroke="#333" stroke-width="0.5"/>
<rect x="217.09" y="218.3" width="50.3" height="49.2" fill="none" stroke="#9a9a9a" stroke-width="0.7"/>
<line x1="217.09" y1="266.7" x2="218.19" y2="266.7" stroke="#666" stroke-width="0.45"/>
<text x="216.69" y="267.6" font-size="2.7" text-anchor="end" fill="#777" stroke="#777" style="stroke-width:0.05px">0</text>
<line x1="217.09" y1="257.75" x2="218.19" y2="257.75" stroke="#666" stroke-width="0.45"/>
<text x="216.69" y="258.65" font-size="2.7" text-anchor="end" fill="#777" stroke="#777" style="stroke-width:0.05px">20</text>
<line x1="217.09" y1="248.8" x2="218.19" y2="248.8" stroke="#666" stroke-width="0.45"/>
<text x="216.69" y="249.7" font-size="2.7" text-anchor="end" fill="#777" stroke="#777" style="stroke-width:0.05px">40</text>
<line x1="217.09" y1="239.85" x2="218.19" y2="239.85" stroke="#666" stroke-width="0.45"/>
<text x="216.69" y="240.75" font-size="2.7" text-anchor="end" fill="#777" stroke="#777" style="stroke-width:0.05px">60</text>
<line x1="217.09" y1="230.9" x2="218.19" y2="230.9" stroke="#666" stroke-width="0.45"/>
<text x="216.69" y="231.8" font-size="2.7" text-anchor="end" fill="#777" stroke="#777" style="stroke-width:0.05px">80</text>
<line x1="217.09" y1="221.95" x2="218.19" y2="221.95" stroke="#666" stroke-width="0.45"/>
<text x="216.69" y="222.85" font-size="2.7" text-anchor="end" fill="#777" stroke="#777" style="stroke-width:0.05px">100</text>
<line x1="220.09" y1="267.5" x2="220.09" y2="268.8" stroke="#666" stroke-width="0.45"/>
<text x="220.09" y="272.1" font-size="2.7" text-anchor="middle" fill="#777" stroke="#777" style="stroke-width:0.05px">10<tspan dy="-1" font-size="2">1</tspan></text>
<line x1="231.19" y1="267.5" x2="231.19" y2="268.8" stroke="#666" stroke-width="0.45"/>
<text x="231.19" y="272.1" font-size="2.7" text-anchor="middle" fill="#777" stroke="#777" style="stroke-width:0.05px">10<tspan dy="-1" font-size="2">2</tspan></text>
<line x1="242.29" y1="267.5" x2="242.29" y2="268.8" stroke="#666" stroke-width="0.45"/>
<text x="242.29" y="272.1" font-size="2.7" text-anchor="middle" fill="#777" stroke="#777" style="stroke-width:0.05px">10<tspan dy="-1" font-size="2">3</tspan></text>
<line x1="253.39" y1="267.5" x2="253.39" y2="268.8" stroke="#666" stroke-width="0.45"/>
<text x="253.39" y="272.1" font-size="2.7" text-anchor="middle" fill="#777" stroke="#777" style="stroke-width:0.05px">10<tspan dy="-1" font-size="2">4</tspan></text>
<line x1="264.49" y1="267.5" x2="264.49" y2="268.8" stroke="#666" stroke-width="0.45"/>
<text x="264.49" y="272.1" font-size="2.7" text-anchor="middle" fill="#777" stroke="#777" style="stroke-width:0.05px">10<tspan dy="-1" font-size="2">5</tspan></text>
<polyline points="217.49,267.5 218.09,267.5 218.69,267.5 219.29,267.5 219.89,267.5 220.49,267.5 221.09,267.5 221.69,267.49 222.29,267.48 222.89,267.44 223.49,267.36 224.09,267.2 224.69,266.89 225.29,266.33 225.89,265.39 226.49,263.9 227.09,261.68 227.69,258.57 228.29,254.47 228.89,249.38 229.49,243.49 230.09,237.21 230.69,231.19 231.29,226.21 231.89,223.08 232.49,222.4 233.09,224.37 233.69,228.73 234.29,234.78 234.89,241.62 235.49,248.33 236.09,254.2 236.69,258.88 237.29,262.27 237.89,264.53 238.49,265.93 239.09,266.72 239.69,267.14 240.29,267.34 240.89,267.44 241.49,267.48 242.09,267.49 242.69,267.5 243.29,267.5 243.89,267.5 244.49,267.5 245.09,267.5 245.69,267.5 246.29,267.5 246.89,267.5 247.49,267.5 248.09,267.5 248.69,267.5 249.29,267.5 249.89,267.5 250.49,267.5 251.09,267.5 251.69,267.5 252.29,267.5 252.89,267.5 253.49,267.5 254.09,267.5 254.69,267.5 255.29,267.5 255.89,267.5 256.49,267.5 257.09,267.5 257.69,267.5 258.29,267.5 258.89,267.5 259.49,267.5 260.09,267.5 260.69,267.5 261.29,267.5 261.89,267.5 262.49,267.5 263.09,267.5 263.69,267.5 264.29,267.5 264.89,267.5 265.49,267.5 266.09,267.5 266.69,267.5" stroke="#1a1a1a" stroke-width="0.9" fill="none" stroke-linejoin="round"/>
<polyline points="239.2,267.5 239.8,267.5 240.4,267.5 241,267.5 241.6,267.49 242.2,267.48 242.8,267.42 243.4,267.26 244,266.87 244.6,266.13 245.2,264.9 245.8,263.2 246.4,261.14 247,258.72 247.6,255.61 248.2,251.08 248.8,244.58 249.4,236.49 250,228.51 250.6,223.17 251.2,222.54 251.8,227.07 252.4,235.36 253,244.92 253.6,253.5 254.2,259.83 254.8,263.79 255.4,265.92 256,266.9 256.6,267.3 257.2,267.44 257.8,267.48 258.4,267.5 259,267.5 259.6,267.5 260.2,267.5 260.8,267.5 261.4,267.5 262,267.5 262.6,267.5 263.2,267.5 263.8,267.5 264.4,267.5 265,267.5 265.6,267.5 266.2,267.5 266.8,267.5" stroke="#ff1010" stroke-width="0.9" fill="none" stroke-linejoin="round"/>
<line x1="217.09" y1="267.5" x2="267.39" y2="267.5" stroke="#333" stroke-width="0.5"/>
<rect x="274.42" y="218.3" width="50.3" height="49.2" fill="none" stroke="#9a9a9a" stroke-width="0.7"/>
<line x1="274.42" y1="266.7" x2="275.52" y2="266.7" stroke="#666" stroke-width="0.45"/>
<text x="274.02" y="267.6" font-size="2.7" text-anchor="end" fill="#777" stroke="#777" style="stroke-width:0.05px">0</text>
<line x1="274.42" y1="257.75" x2="275.52" y2="257.75" stroke="#666" stroke-width="0.45"/>
<text x="274.02" y="258.65" font-size="2.7" text-anchor="end" fill="#777" stroke="#777" style="stroke-width:0.05px">20</text>
<line x1="274.42" y1="248.8" x2="275.52" y2="248.8" stroke="#666" stroke-width="0.45"/>
<text x="274.02" y="249.7" font-size="2.7" text-anchor="end" fill="#777" stroke="#777" style="stroke-width:0.05px">40</text>
<line x1="274.42" y1="239.85" x2="275.52" y2="239.85" stroke="#666" stroke-width="0.45"/>
<text x="274.02" y="240.75" font-size="2.7" text-anchor="end" fill="#777" stroke="#777" style="stroke-width:0.05px">60</text>
<line x1="274.42" y1="230.9" x2="275.52" y2="230.9" stroke="#666" stroke-width="0.45"/>
<text x="274.02" y="231.8" font-size="2.7" text-anchor="end" fill="#777" stroke="#777" style="stroke-width:0.05px">80</text>
<line x1="274.42" y1="221.95" x2="275.52" y2="221.95" stroke="#666" stroke-width="0.45"/>
<text x="274.02" y="222.85" font-size="2.7" text-anchor="end" fill="#777" stroke="#777" style="stroke-width:0.05px">100</text>
<line x1="277.42" y1="267.5" x2="277.42" y2="268.8" stroke="#666" stroke-width="0.45"/>
<text x="277.42" y="272.1" font-size="2.7" text-anchor="middle" fill="#777" stroke="#777" style="stroke-width:0.05px">10<tspan dy="-1" font-size="2">1</tspan></text>
<line x1="288.52" y1="267.5" x2="288.52" y2="268.8" stroke="#666" stroke-width="0.45"/>
<text x="288.52" y="272.1" font-size="2.7" text-anchor="middle" fill="#777" stroke="#777" style="stroke-width:0.05px">10<tspan dy="-1" font-size="2">2</tspan></text>
<line x1="299.62" y1="267.5" x2="299.62" y2="268.8" stroke="#666" stroke-width="0.45"/>
<text x="299.62" y="272.1" font-size="2.7" text-anchor="middle" fill="#777" stroke="#777" style="stroke-width:0.05px">10<tspan dy="-1" font-size="2">3</tspan></text>
<line x1="310.72" y1="267.5" x2="310.72" y2="268.8" stroke="#666" stroke-width="0.45"/>
<text x="310.72" y="272.1" font-size="2.7" text-anchor="middle" fill="#777" stroke="#777" style="stroke-width:0.05px">10<tspan dy="-1" font-size="2">4</tspan></text>
<line x1="321.82" y1="267.5" x2="321.82" y2="268.8" stroke="#666" stroke-width="0.45"/>
<text x="321.82" y="272.1" font-size="2.7" text-anchor="middle" fill="#777" stroke="#777" style="stroke-width:0.05px">10<tspan dy="-1" font-size="2">5</tspan></text>
<polyline points="274.82,267.5 275.42,267.5 276.02,267.5 276.62,267.5 277.22,267.5 277.82,267.5 278.42,267.5 279.02,267.49 279.62,267.47 280.22,267.42 280.82,267.34 281.42,267.16 282.02,266.85 282.62,266.31 283.22,265.43 283.82,264.11 284.42,262.19 285.02,259.55 285.62,256.08 286.22,251.72 286.82,246.55 287.42,240.79 288.02,234.9 288.62,229.53 289.22,225.45 289.82,223.4 290.42,223.82 291.02,226.76 291.62,231.78 292.22,238.12 292.82,244.85 293.42,251.14 294.02,256.45 294.62,260.52 295.22,263.37 295.82,265.22 296.42,266.32 297.02,266.93 297.62,267.24 298.22,267.39 298.82,267.46 299.42,267.48 300.02,267.49 300.62,267.5 301.22,267.5 301.82,267.5 302.42,267.5 303.02,267.5 303.62,267.5 304.22,267.5 304.82,267.5 305.42,267.5 306.02,267.5 306.62,267.5 307.22,267.5 307.82,267.5 308.42,267.5 309.02,267.5 309.62,267.5 310.22,267.5 310.82,267.5 311.42,267.5 312.02,267.5 312.62,267.5 313.22,267.5 313.82,267.5 314.42,267.5 315.02,267.5 315.62,267.5 316.22,267.5 316.82,267.5 317.42,267.5 318.02,267.5 318.62,267.5 319.22,267.5 319.82,267.5 320.42,267.5 321.02,267.5 321.62,267.5 322.22,267.5 322.82,267.5 323.42,267.5 324.02,267.5" stroke="#1a1a1a" stroke-width="0.9" fill="none" stroke-linejoin="round"/>
<polyline points="289,267.5 289.6,267.5 290.2,267.5 290.8,267.49 291.4,267.47 292,267.39 292.6,267.19 293.2,266.69 293.8,265.62 294.4,263.52 295,259.89 295.6,254.33 296.2,246.88 296.8,238.26 297.4,229.98 298,223.93 298.6,221.7 299.2,223.93 299.8,229.98 300.4,238.26 301,246.88 301.6,254.33 302.2,259.89 302.8,263.52 303.4,265.62 304,266.69 304.6,267.19 305.2,267.39 305.8,267.47 306.4,267.49 307,267.5 307.6,267.5 308.2,267.5 308.8,267.5 309.4,267.5 310,267.5 310.6,267.5 311.2,267.5 311.8,267.5 312.4,267.5 313,267.5 313.6,267.5 314.2,267.5 314.8,267.5 315.4,267.5 316,267.5 316.6,267.5 317.2,267.5 317.8,267.5 318.4,267.5 319,267.5 319.6,267.5 320.2,267.5 320.8,267.5 321.4,267.5 322,267.5 322.6,267.5 323.2,267.5 323.8,267.5" stroke="#ff1010" stroke-width="0.9" fill="none" stroke-linejoin="round"/>
<line x1="274.42" y1="267.5" x2="324.72" y2="267.5" stroke="#333" stroke-width="0.5"/>
<rect x="331.75" y="218.3" width="50.3" height="49.2" fill="none" stroke="#9a9a9a" stroke-width="0.7"/>
<line x1="331.75" y1="266.7" x2="332.85" y2="266.7" stroke="#666" stroke-width="0.45"/>
<text x="331.35" y="267.6" font-size="2.7" text-anchor="end" fill="#777" stroke="#777" style="stroke-width:0.05px">0</text>
<line x1="331.75" y1="257.75" x2="332.85" y2="257.75" stroke="#666" stroke-width="0.45"/>
<text x="331.35" y="258.65" font-size="2.7" text-anchor="end" fill="#777" stroke="#777" style="stroke-width:0.05px">20</text>
<line x1="331.75" y1="248.8" x2="332.85" y2="248.8" stroke="#666" stroke-width="0.45"/>
<text x="331.35" y="249.7" font-size="2.7" text-anchor="end" fill="#777" stroke="#777" style="stroke-width:0.05px">40</text>
<line x1="331.75" y1="239.85" x2="332.85" y2="239.85" stroke="#666" stroke-width="0.45"/>
<text x="331.35" y="240.75" font-size="2.7" text-anchor="end" fill="#777" stroke="#777" style="stroke-width:0.05px">60</text>
<line x1="331.75" y1="230.9" x2="332.85" y2="230.9" stroke="#666" stroke-width="0.45"/>
<text x="331.35" y="231.8" font-size="2.7" text-anchor="end" fill="#777" stroke="#777" style="stroke-width:0.05px">80</text>
<line x1="331.75" y1="221.95" x2="332.85" y2="221.95" stroke="#666" stroke-width="0.45"/>
<text x="331.35" y="222.85" font-size="2.7" text-anchor="end" fill="#777" stroke="#777" style="stroke-width:0.05px">100</text>
<line x1="334.75" y1="267.5" x2="334.75" y2="268.8" stroke="#666" stroke-width="0.45"/>
<text x="334.75" y="272.1" font-size="2.7" text-anchor="middle" fill="#777" stroke="#777" style="stroke-width:0.05px">10<tspan dy="-1" font-size="2">1</tspan></text>
<line x1="345.85" y1="267.5" x2="345.85" y2="268.8" stroke="#666" stroke-width="0.45"/>
<text x="345.85" y="272.1" font-size="2.7" text-anchor="middle" fill="#777" stroke="#777" style="stroke-width:0.05px">10<tspan dy="-1" font-size="2">2</tspan></text>
<line x1="356.95" y1="267.5" x2="356.95" y2="268.8" stroke="#666" stroke-width="0.45"/>
<text x="356.95" y="272.1" font-size="2.7" text-anchor="middle" fill="#777" stroke="#777" style="stroke-width:0.05px">10<tspan dy="-1" font-size="2">3</tspan></text>
<line x1="368.05" y1="267.5" x2="368.05" y2="268.8" stroke="#666" stroke-width="0.45"/>
<text x="368.05" y="272.1" font-size="2.7" text-anchor="middle" fill="#777" stroke="#777" style="stroke-width:0.05px">10<tspan dy="-1" font-size="2">4</tspan></text>
<line x1="379.15" y1="267.5" x2="379.15" y2="268.8" stroke="#666" stroke-width="0.45"/>
<text x="379.15" y="272.1" font-size="2.7" text-anchor="middle" fill="#777" stroke="#777" style="stroke-width:0.05px">10<tspan dy="-1" font-size="2">5</tspan></text>
<polyline points="332.15,267.5 332.75,267.5 333.35,267.5 333.95,267.5 334.55,267.5 335.15,267.49 335.75,267.48 336.35,267.44 336.95,267.36 337.55,267.19 338.15,266.87 338.75,266.3 339.35,265.36 339.95,263.89 340.55,261.77 341.15,258.86 341.75,255.12 342.35,250.58 342.95,245.38 343.55,239.77 344.15,234.15 344.75,229.05 345.35,225.04 345.95,222.69 346.55,222.4 347.15,224.31 347.75,228.23 348.35,233.64 348.95,239.85 349.55,246.15 350.15,251.91 350.75,256.74 351.35,260.49 351.95,263.18 352.55,264.99 353.15,266.12 353.75,266.79 354.35,267.15 354.95,267.34 355.55,267.43 356.15,267.47 356.75,267.49 357.35,267.5 357.95,267.5 358.55,267.5 359.15,267.5 359.75,267.5 360.35,267.5 360.95,267.5 361.55,267.5 362.15,267.5 362.75,267.5 363.35,267.5 363.95,267.5 364.55,267.5 365.15,267.5 365.75,267.5 366.35,267.5 366.95,267.5 367.55,267.5 368.15,267.5 368.75,267.5 369.35,267.5 369.95,267.5 370.55,267.5 371.15,267.5 371.75,267.5 372.35,267.5 372.95,267.5 373.55,267.5 374.15,267.5 374.75,267.5 375.35,267.5 375.95,267.5 376.55,267.5 377.15,267.5 377.75,267.5 378.35,267.5 378.95,267.5 379.55,267.5 380.15,267.5 380.75,267.5 381.35,267.5" stroke="#1a1a1a" stroke-width="0.9" fill="none" stroke-linejoin="round"/>
<polyline points="349.5,267.5 350.1,267.5 350.7,267.5 351.3,267.49 351.9,267.46 352.5,267.35 353.1,267.01 353.7,266.09 354.3,263.99 354.9,259.9 355.5,253.18 356.1,244.08 356.7,234.21 357.3,226.39 357.9,223.4 358.5,226.39 359.1,234.21 359.7,244.08 360.3,253.18 360.9,259.9 361.5,263.99 362.1,266.09 362.7,267.01 363.3,267.35 363.9,267.46 364.5,267.49 365.1,267.5 365.7,267.5 366.3,267.5 366.9,267.5 367.5,267.5 368.1,267.5 368.7,267.5 369.3,267.5 369.9,267.5 370.5,267.5 371.1,267.5 371.7,267.5 372.3,267.5 372.9,267.5 373.5,267.5 374.1,267.5 374.7,267.5 375.3,267.5 375.9,267.5 376.5,267.5 377.1,267.5 377.7,267.5 378.3,267.5 378.9,267.5 379.5,267.5 380.1,267.5 380.7,267.5 381.3,267.5" stroke="#ff1010" stroke-width="0.9" fill="none" stroke-linejoin="round"/>
<line x1="331.75" y1="267.5" x2="382.05" y2="267.5" stroke="#333" stroke-width="0.5"/>
<rect x="389.08" y="218.3" width="50.3" height="49.2" fill="none" stroke="#9a9a9a" stroke-width="0.7"/>
<line x1="389.08" y1="266.7" x2="390.18" y2="266.7" stroke="#666" stroke-width="0.45"/>
<text x="388.68" y="267.6" font-size="2.7" text-anchor="end" fill="#777" stroke="#777" style="stroke-width:0.05px">0</text>
<line x1="389.08" y1="257.75" x2="390.18" y2="257.75" stroke="#666" stroke-width="0.45"/>
<text x="388.68" y="258.65" font-size="2.7" text-anchor="end" fill="#777" stroke="#777" style="stroke-width:0.05px">20</text>
<line x1="389.08" y1="248.8" x2="390.18" y2="248.8" stroke="#666" stroke-width="0.45"/>
<text x="388.68" y="249.7" font-size="2.7" text-anchor="end" fill="#777" stroke="#777" style="stroke-width:0.05px">40</text>
<line x1="389.08" y1="239.85" x2="390.18" y2="239.85" stroke="#666" stroke-width="0.45"/>
<text x="388.68" y="240.75" font-size="2.7" text-anchor="end" fill="#777" stroke="#777" style="stroke-width:0.05px">60</text>
<line x1="389.08" y1="230.9" x2="390.18" y2="230.9" stroke="#666" stroke-width="0.45"/>
<text x="388.68" y="231.8" font-size="2.7" text-anchor="end" fill="#777" stroke="#777" style="stroke-width:0.05px">80</text>
<line x1="389.08" y1="221.95" x2="390.18" y2="221.95" stroke="#666" stroke-width="0.45"/>
<text x="388.68" y="222.85" font-size="2.7" text-anchor="end" fill="#777" stroke="#777" style="stroke-width:0.05px">100</text>
<line x1="392.08" y1="267.5" x2="392.08" y2="268.8" stroke="#666" stroke-width="0.45"/>
<text x="392.08" y="272.1" font-size="2.7" text-anchor="middle" fill="#777" stroke="#777" style="stroke-width:0.05px">10<tspan dy="-1" font-size="2">1</tspan></text>
<line x1="403.18" y1="267.5" x2="403.18" y2="268.8" stroke="#666" stroke-width="0.45"/>
<text x="403.18" y="272.1" font-size="2.7" text-anchor="middle" fill="#777" stroke="#777" style="stroke-width:0.05px">10<tspan dy="-1" font-size="2">2</tspan></text>
<line x1="414.28" y1="267.5" x2="414.28" y2="268.8" stroke="#666" stroke-width="0.45"/>
<text x="414.28" y="272.1" font-size="2.7" text-anchor="middle" fill="#777" stroke="#777" style="stroke-width:0.05px">10<tspan dy="-1" font-size="2">3</tspan></text>
<line x1="425.38" y1="267.5" x2="425.38" y2="268.8" stroke="#666" stroke-width="0.45"/>
<text x="425.38" y="272.1" font-size="2.7" text-anchor="middle" fill="#777" stroke="#777" style="stroke-width:0.05px">10<tspan dy="-1" font-size="2">4</tspan></text>
<line x1="436.48" y1="267.5" x2="436.48" y2="268.8" stroke="#666" stroke-width="0.45"/>
<text x="436.48" y="272.1" font-size="2.7" text-anchor="middle" fill="#777" stroke="#777" style="stroke-width:0.05px">10<tspan dy="-1" font-size="2">5</tspan></text>
<polyline points="389.48,267.5 390.08,267.5 390.68,267.5 391.28,267.5 391.88,267.5 392.48,267.5 393.08,267.5 393.68,267.49 394.28,267.48 394.88,267.45 395.48,267.39 396.08,267.27 396.68,267.04 397.28,266.64 397.88,265.97 398.48,264.91 399.08,263.34 399.68,261.09 400.28,258.03 400.88,254.06 401.48,249.15 402.08,243.45 402.68,237.33 403.28,231.38 403.88,226.39 404.48,223.19 405.08,222.4 405.68,224.27 406.28,228.55 406.88,234.57 407.48,241.41 408.08,248.14 408.68,254.06 409.28,258.77 409.88,262.2 410.48,264.49 411.08,265.9 411.68,266.71 412.28,267.13 412.88,267.34 413.48,267.44 414.08,267.48 414.68,267.49 415.28,267.5 415.88,267.5 416.48,267.5 417.08,267.5 417.68,267.5 418.28,267.5 418.88,267.5 419.48,267.5 420.08,267.5 420.68,267.5 421.28,267.5 421.88,267.5 422.48,267.5 423.08,267.5 423.68,267.5 424.28,267.5 424.88,267.5 425.48,267.5 426.08,267.5 426.68,267.5 427.28,267.5 427.88,267.5 428.48,267.5 429.08,267.5 429.68,267.5 430.28,267.5 430.88,267.5 431.48,267.5 432.08,267.5 432.68,267.5 433.28,267.5 433.88,267.5 434.48,267.5 435.08,267.5 435.68,267.5 436.28,267.5 436.88,267.5 437.48,267.5 438.08,267.5 438.68,267.5" stroke="#1a1a1a" stroke-width="0.9" fill="none" stroke-linejoin="round"/>
<polyline points="404,267.5 404.6,267.5 405.2,267.5 405.8,267.49 406.4,267.47 407,267.39 407.6,267.19 408.2,266.69 408.8,265.62 409.4,263.52 410,259.89 410.6,254.33 411.2,246.88 411.8,238.26 412.4,229.98 413,223.93 413.6,221.7 414.2,223.93 414.8,229.98 415.4,238.26 416,246.88 416.6,254.33 417.2,259.89 417.8,263.52 418.4,265.62 419,266.69 419.6,267.19 420.2,267.39 420.8,267.47 421.4,267.49 422,267.5 422.6,267.5 423.2,267.5 423.8,267.5 424.4,267.5 425,267.5 425.6,267.5 426.2,267.5 426.8,267.5 427.4,267.5 428,267.5 428.6,267.5 429.2,267.5 429.8,267.5 430.4,267.5 431,267.5 431.6,267.5 432.2,267.5 432.8,267.5 433.4,267.5 434,267.5 434.6,267.5 435.2,267.5 435.8,267.5 436.4,267.5 437,267.5 437.6,267.5 438.2,267.5 438.8,267.5" stroke="#ff1010" stroke-width="0.9" fill="none" stroke-linejoin="round"/>
<line x1="389.08" y1="267.5" x2="439.38" y2="267.5" stroke="#333" stroke-width="0.5"/>
<rect x="446.41" y="218.3" width="50.3" height="49.2" fill="none" stroke="#9a9a9a" stroke-width="0.7"/>
<line x1="446.41" y1="266.7" x2="447.51" y2="266.7" stroke="#666" stroke-width="0.45"/>
<text x="446.01" y="267.6" font-size="2.7" text-anchor="end" fill="#777" stroke="#777" style="stroke-width:0.05px">0</text>
<line x1="446.41" y1="257.75" x2="447.51" y2="257.75" stroke="#666" stroke-width="0.45"/>
<text x="446.01" y="258.65" font-size="2.7" text-anchor="end" fill="#777" stroke="#777" style="stroke-width:0.05px">20</text>
<line x1="446.41" y1="248.8" x2="447.51" y2="248.8" stroke="#666" stroke-width="0.45"/>
<text x="446.01" y="249.7" font-size="2.7" text-anchor="end" fill="#777" stroke="#777" style="stroke-width:0.05px">40</text>
<line x1="446.41" y1="239.85" x2="447.51" y2="239.85" stroke="#666" stroke-width="0.45"/>
<text x="446.01" y="240.75" font-size="2.7" text-anchor="end" fill="#777" stroke="#777" style="stroke-width:0.05px">60</text>
<line x1="446.41" y1="230.9" x2="447.51" y2="230.9" stroke="#666" stroke-width="0.45"/>
<text x="446.01" y="231.8" font-size="2.7" text-anchor="end" fill="#777" stroke="#777" style="stroke-width:0.05px">80</text>
<line x1="446.41" y1="221.95" x2="447.51" y2="221.95" stroke="#666" stroke-width="0.45"/>
<text x="446.01" y="222.85" font-size="2.7" text-anchor="end" fill="#777" stroke="#777" style="stroke-width:0.05px">100</text>
<line x1="449.41" y1="267.5" x2="449.41" y2="268.8" stroke="#666" stroke-width="0.45"/>
<text x="449.41" y="272.1" font-size="2.7" text-anchor="middle" fill="#777" stroke="#777" style="stroke-width:0.05px">10<tspan dy="-1" font-size="2">1</tspan></text>
<line x1="460.51" y1="267.5" x2="460.51" y2="268.8" stroke="#666" stroke-width="0.45"/>
<text x="460.51" y="272.1" font-size="2.7" text-anchor="middle" fill="#777" stroke="#777" style="stroke-width:0.05px">10<tspan dy="-1" font-size="2">2</tspan></text>
<line x1="471.61" y1="267.5" x2="471.61" y2="268.8" stroke="#666" stroke-width="0.45"/>
<text x="471.61" y="272.1" font-size="2.7" text-anchor="middle" fill="#777" stroke="#777" style="stroke-width:0.05px">10<tspan dy="-1" font-size="2">3</tspan></text>
<line x1="482.71" y1="267.5" x2="482.71" y2="268.8" stroke="#666" stroke-width="0.45"/>
<text x="482.71" y="272.1" font-size="2.7" text-anchor="middle" fill="#777" stroke="#777" style="stroke-width:0.05px">10<tspan dy="-1" font-size="2">4</tspan></text>
<line x1="493.81" y1="267.5" x2="493.81" y2="268.8" stroke="#666" stroke-width="0.45"/>
<text x="493.81" y="272.1" font-size="2.7" text-anchor="middle" fill="#777" stroke="#777" style="stroke-width:0.05px">10<tspan dy="-1" font-size="2">5</tspan></text>
<polyline points="446.81,267.5 447.41,267.5 448.01,267.5 448.61,267.5 449.21,267.5 449.81,267.5 450.41,267.49 451.01,267.49 451.61,267.46 452.21,267.41 452.81,267.3 453.41,267.09 454.01,266.7 454.61,266.03 455.21,264.98 455.81,263.39 456.41,261.13 457.01,258.09 457.61,254.17 458.21,249.38 458.81,243.83 459.41,237.84 460.01,231.96 460.61,226.91 461.21,223.5 461.81,222.4 462.41,223.91 463.01,227.88 463.61,233.7 464.21,240.47 464.81,247.26 465.41,253.32 466.01,258.21 466.61,261.81 467.21,264.24 467.81,265.76 468.41,266.63 469.01,267.09 469.61,267.32 470.21,267.43 470.81,267.47 471.41,267.49 472.01,267.5 472.61,267.5 473.21,267.5 473.81,267.5 474.41,267.5 475.01,267.5 475.61,267.5 476.21,267.5 476.81,267.5 477.41,267.5 478.01,267.5 478.61,267.5 479.21,267.5 479.81,267.5 480.41,267.5 481.01,267.5 481.61,267.5 482.21,267.5 482.81,267.5 483.41,267.5 484.01,267.5 484.61,267.5 485.21,267.5 485.81,267.5 486.41,267.5 487.01,267.5 487.61,267.5 488.21,267.5 488.81,267.5 489.41,267.5 490.01,267.5 490.61,267.5 491.21,267.5 491.81,267.5 492.41,267.5 493.01,267.5 493.61,267.5 494.21,267.5 494.81,267.5 495.41,267.5 496.01,267.5" stroke="#1a1a1a" stroke-width="0.9" fill="none" stroke-linejoin="round"/>
<polyline points="462,267.5 462.6,267.5 463.2,267.5 463.8,267.49 464.4,267.47 465,267.39 465.6,267.2 466.2,266.72 466.8,265.69 467.4,263.67 468,260.17 468.6,254.82 469.2,247.64 469.8,239.35 470.4,231.37 471,225.54 471.6,223.4 472.2,225.54 472.8,231.37 473.4,239.35 474,247.64 474.6,254.82 475.2,260.17 475.8,263.67 476.4,265.69 477,266.72 477.6,267.2 478.2,267.39 478.8,267.47 479.4,267.49 480,267.5 480.6,267.5 481.2,267.5 481.8,267.5 482.4,267.5 483,267.5 483.6,267.5 484.2,267.5 484.8,267.5 485.4,267.5 486,267.5 486.6,267.5 487.2,267.5 487.8,267.5 488.4,267.5 489,267.5 489.6,267.5 490.2,267.5 490.8,267.5 491.4,267.5 492,267.5 492.6,267.5 493.2,267.5 493.8,267.5 494.4,267.5 495,267.5 495.6,267.5 496.2,267.5" stroke="#ff1010" stroke-width="0.9" fill="none" stroke-linejoin="round"/>
<line x1="446.41" y1="267.5" x2="496.71" y2="267.5" stroke="#333" stroke-width="0.5"/>
<rect x="45.1" y="279.4" width="50.3" height="49.2" fill="none" stroke="#9a9a9a" stroke-width="0.7"/>
<line x1="45.1" y1="327.8" x2="46.2" y2="327.8" stroke="#666" stroke-width="0.45"/>
<text x="44.7" y="328.7" font-size="2.7" text-anchor="end" fill="#777" stroke="#777" style="stroke-width:0.05px">0</text>
<line x1="45.1" y1="318.85" x2="46.2" y2="318.85" stroke="#666" stroke-width="0.45"/>
<text x="44.7" y="319.75" font-size="2.7" text-anchor="end" fill="#777" stroke="#777" style="stroke-width:0.05px">20</text>
<line x1="45.1" y1="309.9" x2="46.2" y2="309.9" stroke="#666" stroke-width="0.45"/>
<text x="44.7" y="310.8" font-size="2.7" text-anchor="end" fill="#777" stroke="#777" style="stroke-width:0.05px">40</text>
<line x1="45.1" y1="300.95" x2="46.2" y2="300.95" stroke="#666" stroke-width="0.45"/>
<text x="44.7" y="301.85" font-size="2.7" text-anchor="end" fill="#777" stroke="#777" style="stroke-width:0.05px">60</text>
<line x1="45.1" y1="292" x2="46.2" y2="292" stroke="#666" stroke-width="0.45"/>
<text x="44.7" y="292.9" font-size="2.7" text-anchor="end" fill="#777" stroke="#777" style="stroke-width:0.05px">80</text>
<line x1="45.1" y1="283.05" x2="46.2" y2="283.05" stroke="#666" stroke-width="0.45"/>
<text x="44.7" y="283.95" font-size="2.7" text-anchor="end" fill="#777" stroke="#777" style="stroke-width:0.05px">100</text>
<line x1="48.1" y1="328.6" x2="48.1" y2="329.9" stroke="#666" stroke-width="0.45"/>
<text x="48.1" y="333.2" font-size="2.7" text-anchor="middle" fill="#777" stroke="#777" style="stroke-width:0.05px">10<tspan dy="-1" font-size="2">1</tspan></text>
<line x1="59.2" y1="328.6" x2="59.2" y2="329.9" stroke="#666" stroke-width="0.45"/>
<text x="59.2" y="333.2" font-size="2.7" text-anchor="middle" fill="#777" stroke="#777" style="stroke-width:0.05px">10<tspan dy="-1" font-size="2">2</tspan></text>
<line x1="70.3" y1="328.6" x2="70.3" y2="329.9" stroke="#666" stroke-width="0.45"/>
<text x="70.3" y="333.2" font-size="2.7" text-anchor="middle" fill="#777" stroke="#777" style="stroke-width:0.05px">10<tspan dy="-1" font-size="2">3</tspan></text>
<line x1="81.4" y1="328.6" x2="81.4" y2="329.9" stroke="#666" stroke-width="0.45"/>
<text x="81.4" y="333.2" font-size="2.7" text-anchor="middle" fill="#777" stroke="#777" style="stroke-width:0.05px">10<tspan dy="-1" font-size="2">4</tspan></text>
<line x1="92.5" y1="328.6" x2="92.5" y2="329.9" stroke="#666" stroke-width="0.45"/>
<text x="92.5" y="333.2" font-size="2.7" text-anchor="middle" fill="#777" stroke="#777" style="stroke-width:0.05px">10<tspan dy="-1" font-size="2">5</tspan></text>
<polyline points="45.5,328.6 46.1,328.6 46.7,328.6 47.3,328.6 47.9,328.6 48.5,328.6 49.1,328.59 49.7,328.57 50.3,328.54 50.9,328.45 51.5,328.27 52.1,327.93 52.7,327.33 53.3,326.35 53.9,324.83 54.5,322.62 55.1,319.54 55.7,315.44 56.3,310.24 56.9,304.04 57.5,297.23 58.1,290.57 58.7,285.12 59.3,282 59.9,282 60.5,285.28 61.1,291.26 61.7,298.81 62.3,306.64 62.9,313.65 63.5,319.21 64.1,323.16 64.7,325.69 65.3,327.17 65.9,327.95 66.5,328.33 67.1,328.5 67.7,328.56 68.3,328.59 68.9,328.6 69.5,328.6 70.1,328.6 70.7,328.6 71.3,328.6 71.9,328.6 72.5,328.6 73.1,328.6 73.7,328.6 74.3,328.6 74.9,328.6 75.5,328.6 76.1,328.6 76.7,328.6 77.3,328.6 77.9,328.6 78.5,328.6 79.1,328.6 79.7,328.6 80.3,328.6 80.9,328.6 81.5,328.6 82.1,328.6 82.7,328.6 83.3,328.6 83.9,328.6 84.5,328.6 85.1,328.6 85.7,328.6 86.3,328.6 86.9,328.6 87.5,328.6 88.1,328.6 88.7,328.6 89.3,328.6 89.9,328.6 90.5,328.6 91.1,328.6 91.7,328.6 92.3,328.6 92.9,328.6 93.5,328.6 94.1,328.6 94.7,328.6" stroke="#1a1a1a" stroke-width="0.9" fill="none" stroke-linejoin="round"/>
<polyline points="61.5,328.6 62.1,328.6 62.7,328.6 63.3,328.6 63.9,328.59 64.5,328.59 65.1,328.57 65.7,328.55 66.3,328.51 66.9,328.43 67.5,328.31 68.1,328.11 68.7,327.81 69.3,327.38 69.9,326.8 70.5,326.03 71.1,325.08 71.7,323.96 72.3,322.72 72.9,321.4 73.5,320.05 74.1,318.67 74.7,317.21 75.3,315.5 75.9,313.28 76.5,310.25 77.1,306.22 77.7,301.23 78.3,295.68 78.9,290.36 79.5,286.28 80.1,284.4 80.7,285.29 81.3,288.93 81.9,294.73 82.5,301.67 83.1,308.69 83.7,314.91 84.3,319.86 84.9,323.41 85.5,325.74 86.1,327.14 86.7,327.9 87.3,328.29 87.9,328.47 88.5,328.55 89.1,328.58 89.7,328.59 90.3,328.6 90.9,328.6 91.5,328.6 92.1,328.6 92.7,328.6 93.3,328.6 93.9,328.6 94.5,328.6" stroke="#ff1010" stroke-width="0.9" fill="none" stroke-linejoin="round"/>
<line x1="45.1" y1="328.6" x2="95.4" y2="328.6" stroke="#333" stroke-width="0.5"/>
<rect x="102.43" y="279.4" width="50.3" height="49.2" fill="none" stroke="#9a9a9a" stroke-width="0.7"/>
<line x1="102.43" y1="327.8" x2="103.53" y2="327.8" stroke="#666" stroke-width="0.45"/>
<text x="102.03" y="328.7" font-size="2.7" text-anchor="end" fill="#777" stroke="#777" style="stroke-width:0.05px">0</text>
<line x1="102.43" y1="318.85" x2="103.53" y2="318.85" stroke="#666" stroke-width="0.45"/>
<text x="102.03" y="319.75" font-size="2.7" text-anchor="end" fill="#777" stroke="#777" style="stroke-width:0.05px">20</text>
<line x1="102.43" y1="309.9" x2="103.53" y2="309.9" stroke="#666" stroke-width="0.45"/>
<text x="102.03" y="310.8" font-size="2.7" text-anchor="end" fill="#777" stroke="#777" style="stroke-width:0.05px">40</text>
<line x1="102.43" y1="300.95" x2="103.53" y2="300.95" stroke="#666" stroke-width="0.45"/>
<text x="102.03" y="301.85" font-size="2.7" text-anchor="end" fill="#777" stroke="#777" style="stroke-width:0.05px">60</text>
<line x1="102.43" y1="292" x2="103.53" y2="292" stroke="#666" stroke-width="0.45"/>
<text x="102.03" y="292.9" font-size="2.7" text-anchor="end" fill="#777" stroke="#777" style="stroke-width:0.05px">80</text>
<line x1="102.43" y1="283.05" x2="103.53" y2="283.05" stroke="#666" stroke-width="0.45"/>
<text x="102.03" y="283.95" font-size="2.7" text-anchor="end" fill="#777" stroke="#777" style="stroke-width:0.05px">100</text>
<line x1="105.43" y1="328.6" x2="105.43" y2="329.9" stroke="#666" stroke-width="0.45"/>
<text x="105.43" y="333.2" font-size="2.7" text-anchor="middle" fill="#777" stroke="#777" style="stroke-width:0.05px">10<tspan dy="-1" font-size="2">1</tspan></text>
<line x1="116.53" y1="328.6" x2="116.53" y2="329.9" stroke="#666" stroke-width="0.45"/>
<text x="116.53" y="333.2" font-size="2.7" text-anchor="middle" fill="#777" stroke="#777" style="stroke-width:0.05px">10<tspan dy="-1" font-size="2">2</tspan></text>
<line x1="127.63" y1="328.6" x2="127.63" y2="329.9" stroke="#666" stroke-width="0.45"/>
<text x="127.63" y="333.2" font-size="2.7" text-anchor="middle" fill="#777" stroke="#777" style="stroke-width:0.05px">10<tspan dy="-1" font-size="2">3</tspan></text>
<line x1="138.73" y1="328.6" x2="138.73" y2="329.9" stroke="#666" stroke-width="0.45"/>
<text x="138.73" y="333.2" font-size="2.7" text-anchor="middle" fill="#777" stroke="#777" style="stroke-width:0.05px">10<tspan dy="-1" font-size="2">4</tspan></text>
<line x1="149.83" y1="328.6" x2="149.83" y2="329.9" stroke="#666" stroke-width="0.45"/>
<text x="149.83" y="333.2" font-size="2.7" text-anchor="middle" fill="#777" stroke="#777" style="stroke-width:0.05px">10<tspan dy="-1" font-size="2">5</tspan></text>
<polyline points="102.83,328.6 103.43,328.6 104.03,328.6 104.63,328.6 105.23,328.59 105.83,328.59 106.43,328.56 107.03,328.51 107.63,328.4 108.23,328.19 108.83,327.8 109.43,327.14 110.03,326.09 110.63,324.5 111.23,322.22 111.83,319.08 112.43,314.96 113.03,309.83 113.63,303.82 114.23,297.34 114.83,291.08 115.43,285.97 116.03,282.95 116.63,282.7 117.23,285.41 117.83,290.64 118.43,297.5 119.03,304.88 119.63,311.77 120.23,317.5 120.83,321.79 121.43,324.72 122.03,326.55 122.63,327.59 123.23,328.14 123.83,328.41 124.43,328.52 125.03,328.57 125.63,328.59 126.23,328.6 126.83,328.6 127.43,328.6 128.03,328.6 128.63,328.6 129.23,328.6 129.83,328.6 130.43,328.6 131.03,328.6 131.63,328.6 132.23,328.6 132.83,328.6 133.43,328.6 134.03,328.6 134.63,328.6 135.23,328.6 135.83,328.6 136.43,328.6 137.03,328.6 137.63,328.6 138.23,328.6 138.83,328.6 139.43,328.6 140.03,328.6 140.63,328.6 141.23,328.6 141.83,328.6 142.43,328.6 143.03,328.6 143.63,328.6 144.23,328.6 144.83,328.6 145.43,328.6 146.03,328.6 146.63,328.6 147.23,328.6 147.83,328.6 148.43,328.6 149.03,328.6 149.63,328.6 150.23,328.6 150.83,328.6 151.43,328.6 152.03,328.6" stroke="#1a1a1a" stroke-width="0.9" fill="none" stroke-linejoin="round"/>
<polyline points="106.8,328.6 107.4,328.6 108,328.6 108.6,328.59 109.2,328.57 109.8,328.5 110.4,328.33 111,327.92 111.6,327.04 112.2,325.34 112.8,322.39 113.4,317.78 114,311.37 114.6,303.54 115.2,295.27 115.8,288.09 116.4,283.61 117,282.93 117.6,286.23 118.2,292.67 118.8,300.76 119.4,308.88 120,315.84 120.6,321.05 121.2,324.52 121.8,326.58 122.4,327.69 123,328.22 123.6,328.46 124.2,328.55 124.8,328.58 125.4,328.6 126,328.6 126.6,328.6 127.2,328.6 127.8,328.6 128.4,328.6 129,328.6 129.6,328.6 130.2,328.6 130.8,328.6 131.4,328.6 132,328.6 132.6,328.6 133.2,328.6 133.8,328.6 134.4,328.6 135,328.6 135.6,328.6 136.2,328.6 136.8,328.6 137.4,328.6 138,328.6 138.6,328.6 139.2,328.6 139.8,328.6 140.4,328.6 141,328.6 141.6,328.6 142.2,328.6 142.8,328.6 143.4,328.6 144,328.6 144.6,328.6 145.2,328.6 145.8,328.6 146.4,328.6 147,328.6 147.6,328.6 148.2,328.6 148.8,328.6 149.4,328.6 150,328.6 150.6,328.6 151.2,328.6 151.8,328.6" stroke="#ff1010" stroke-width="0.9" fill="none" stroke-linejoin="round"/>
<line x1="102.43" y1="328.6" x2="152.73" y2="328.6" stroke="#333" stroke-width="0.5"/>
<rect x="159.76" y="279.4" width="50.3" height="49.2" fill="none" stroke="#9a9a9a" stroke-width="0.7"/>
<line x1="159.76" y1="327.8" x2="160.86" y2="327.8" stroke="#666" stroke-width="0.45"/>
<text x="159.36" y="328.7" font-size="2.7" text-anchor="end" fill="#777" stroke="#777" style="stroke-width:0.05px">0</text>
<line x1="159.76" y1="318.85" x2="160.86" y2="318.85" stroke="#666" stroke-width="0.45"/>
<text x="159.36" y="319.75" font-size="2.7" text-anchor="end" fill="#777" stroke="#777" style="stroke-width:0.05px">20</text>
<line x1="159.76" y1="309.9" x2="160.86" y2="309.9" stroke="#666" stroke-width="0.45"/>
<text x="159.36" y="310.8" font-size="2.7" text-anchor="end" fill="#777" stroke="#777" style="stroke-width:0.05px">40</text>
<line x1="159.76" y1="300.95" x2="160.86" y2="300.95" stroke="#666" stroke-width="0.45"/>
<text x="159.36" y="301.85" font-size="2.7" text-anchor="end" fill="#777" stroke="#777" style="stroke-width:0.05px">60</text>
<line x1="159.76" y1="292" x2="160.86" y2="292" stroke="#666" stroke-width="0.45"/>
<text x="159.36" y="292.9" font-size="2.7" text-anchor="end" fill="#777" stroke="#777" style="stroke-width:0.05px">80</text>
<line x1="159.76" y1="283.05" x2="160.86" y2="283.05" stroke="#666" stroke-width="0.45"/>
<text x="159.36" y="283.95" font-size="2.7" text-anchor="end" fill="#777" stroke="#777" style="stroke-width:0.05px">100</text>
<line x1="162.76" y1="328.6" x2="162.76" y2="329.9" stroke="#666" stroke-width="0.45"/>
<text x="162.76" y="333.2" font-size="2.7" text-anchor="middle" fill="#777" stroke="#777" style="stroke-width:0.05px">10<tspan dy="-1" font-size="2">1</tspan></text>
<line x1="173.86" y1="328.6" x2="173.86" y2="329.9" stroke="#666" stroke-width="0.45"/>
<text x="173.86" y="333.2" font-size="2.7" text-anchor="middle" fill="#777" stroke="#777" style="stroke-width:0.05px">10<tspan dy="-1" font-size="2">2</tspan></text>
<line x1="184.96" y1="328.6" x2="184.96" y2="329.9" stroke="#666" stroke-width="0.45"/>
<text x="184.96" y="333.2" font-size="2.7" text-anchor="middle" fill="#777" stroke="#777" style="stroke-width:0.05px">10<tspan dy="-1" font-size="2">3</tspan></text>
<line x1="196.06" y1="328.6" x2="196.06" y2="329.9" stroke="#666" stroke-width="0.45"/>
<text x="196.06" y="333.2" font-size="2.7" text-anchor="middle" fill="#777" stroke="#777" style="stroke-width:0.05px">10<tspan dy="-1" font-size="2">4</tspan></text>
<line x1="207.16" y1="328.6" x2="207.16" y2="329.9" stroke="#666" stroke-width="0.45"/>
<text x="207.16" y="333.2" font-size="2.7" text-anchor="middle" fill="#777" stroke="#777" style="stroke-width:0.05px">10<tspan dy="-1" font-size="2">5</tspan></text>
<polyline points="160.16,323.27 160.76,324.51 161.36,327.45 161.96,328.47 162.56,328.57 163.16,328.54 163.76,328.47 164.36,328.34 164.96,328.09 165.56,327.65 166.16,326.94 166.76,325.84 167.36,324.23 167.96,322.01 168.56,319.11 169.16,315.5 169.76,311.26 170.36,306.53 170.96,301.59 171.56,296.8 172.16,292.6 172.76,289.46 173.36,287.8 173.96,287.89 174.56,289.79 175.16,293.29 175.76,298 176.36,303.36 176.96,308.81 177.56,313.85 178.16,318.17 178.76,321.59 179.36,324.14 179.96,325.9 180.56,327.05 181.16,327.76 181.76,328.17 182.36,328.39 182.96,328.5 183.56,328.56 184.16,328.58 184.76,328.59 185.36,328.6 185.96,328.6 186.56,328.6 187.16,328.6 187.76,328.6 188.36,328.6 188.96,328.6 189.56,328.6 190.16,328.6 190.76,328.6 191.36,328.6 191.96,328.6 192.56,328.6 193.16,328.6 193.76,328.6 194.36,328.6 194.96,328.6 195.56,328.6 196.16,328.6 196.76,328.6 197.36,328.6 197.96,328.6 198.56,328.6 199.16,328.6 199.76,328.6 200.36,328.6 200.96,328.6 201.56,328.6 202.16,328.6 202.76,328.6 203.36,328.6 203.96,328.6 204.56,328.6 205.16,328.6 205.76,328.6 206.36,328.6 206.96,328.6 207.56,328.6 208.16,328.6 208.76,328.6 209.36,328.6" stroke="#1a1a1a" stroke-width="0.9" fill="none" stroke-linejoin="round"/>
<polyline points="173.1,328.6 173.7,328.6 174.3,328.6 174.9,328.6 175.5,328.59 176.1,328.59 176.7,328.57 177.3,328.55 177.9,328.52 178.5,328.47 179.1,328.38 179.7,328.25 180.3,328.06 180.9,327.78 181.5,327.4 182.1,326.89 182.7,326.22 183.3,325.39 183.9,324.38 184.5,323.21 185.1,321.9 185.7,320.5 186.3,319.06 186.9,317.67 187.5,316.39 188.1,315.26 188.7,314.25 189.3,313.26 189.9,312.08 190.5,310.38 191.1,307.83 191.7,304.23 192.3,299.66 192.9,294.6 193.5,289.96 194.1,286.82 194.7,286.1 195.3,288.23 195.9,292.94 196.5,299.4 197.1,306.46 197.7,313.07 198.3,318.52 198.9,322.55 199.5,325.23 200.1,326.86 200.7,327.76 201.3,328.22 201.9,328.44 202.5,328.53 203.1,328.57 203.7,328.59 204.3,328.6 204.9,328.6 205.5,328.6 206.1,328.6 206.7,328.6 207.3,328.6 207.9,328.6 208.5,328.6 209.1,328.6" stroke="#ff1010" stroke-width="0.9" fill="none" stroke-linejoin="round"/>
<line x1="159.76" y1="328.6" x2="210.06" y2="328.6" stroke="#333" stroke-width="0.5"/>
<rect x="217.09" y="279.4" width="50.3" height="49.2" fill="none" stroke="#9a9a9a" stroke-width="0.7"/>
<line x1="217.09" y1="327.8" x2="218.19" y2="327.8" stroke="#666" stroke-width="0.45"/>
<text x="216.69" y="328.7" font-size="2.7" text-anchor="end" fill="#777" stroke="#777" style="stroke-width:0.05px">0</text>
<line x1="217.09" y1="318.85" x2="218.19" y2="318.85" stroke="#666" stroke-width="0.45"/>
<text x="216.69" y="319.75" font-size="2.7" text-anchor="end" fill="#777" stroke="#777" style="stroke-width:0.05px">20</text>
<line x1="217.09" y1="309.9" x2="218.19" y2="309.9" stroke="#666" stroke-width="0.45"/>
<text x="216.69" y="310.8" font-size="2.7" text-anchor="end" fill="#777" stroke="#777" style="stroke-width:0.05px">40</text>
<line x1="217.09" y1="300.95" x2="218.19" y2="300.95" stroke="#666" stroke-width="0.45"/>
<text x="216.69" y="301.85" font-size="2.7" text-anchor="end" fill="#777" stroke="#777" style="stroke-width:0.05px">60</text>
<line x1="217.09" y1="292" x2="218.19" y2="292" stroke="#666" stroke-width="0.45"/>
<text x="216.69" y="292.9" font-size="2.7" text-anchor="end" fill="#777" stroke="#777" style="stroke-width:0.05px">80</text>
<line x1="217.09" y1="283.05" x2="218.19" y2="283.05" stroke="#666" stroke-width="0.45"/>
<text x="216.69" y="283.95" font-size="2.7" text-anchor="end" fill="#777" stroke="#777" style="stroke-width:0.05px">100</text>
<line x1="220.09" y1="328.6" x2="220.09" y2="329.9" stroke="#666" stroke-width="0.45"/>
<text x="220.09" y="333.2" font-size="2.7" text-anchor="middle" fill="#777" stroke="#777" style="stroke-width:0.05px">10<tspan dy="-1" font-size="2">1</tspan></text>
<line x1="231.19" y1="328.6" x2="231.19" y2="329.9" stroke="#666" stroke-width="0.45"/>
<text x="231.19" y="333.2" font-size="2.7" text-anchor="middle" fill="#777" stroke="#777" style="stroke-width:0.05px">10<tspan dy="-1" font-size="2">2</tspan></text>
<line x1="242.29" y1="328.6" x2="242.29" y2="329.9" stroke="#666" stroke-width="0.45"/>
<text x="242.29" y="333.2" font-size="2.7" text-anchor="middle" fill="#777" stroke="#777" style="stroke-width:0.05px">10<tspan dy="-1" font-size="2">3</tspan></text>
<line x1="253.39" y1="328.6" x2="253.39" y2="329.9" stroke="#666" stroke-width="0.45"/>
<text x="253.39" y="333.2" font-size="2.7" text-anchor="middle" fill="#777" stroke="#777" style="stroke-width:0.05px">10<tspan dy="-1" font-size="2">4</tspan></text>
<line x1="264.49" y1="328.6" x2="264.49" y2="329.9" stroke="#666" stroke-width="0.45"/>
<text x="264.49" y="333.2" font-size="2.7" text-anchor="middle" fill="#777" stroke="#777" style="stroke-width:0.05px">10<tspan dy="-1" font-size="2">5</tspan></text>
<polyline points="217.49,328.6 218.09,328.6 218.69,328.6 219.29,328.6 219.89,328.6 220.49,328.6 221.09,328.6 221.69,328.6 222.29,328.6 222.89,328.6 223.49,328.6 224.09,328.6 224.69,328.59 225.29,328.56 225.89,328.5 226.49,328.37 227.09,328.1 227.69,327.61 228.29,326.74 228.89,325.31 229.49,323.04 230.09,319.61 230.69,314.75 231.29,308.36 231.89,300.79 232.49,292.99 233.09,286.42 233.69,282.7 234.29,282.91 234.89,287.14 235.49,294.38 236.09,302.95 236.69,311.16 237.29,317.85 237.89,322.6 238.49,325.56 239.09,327.21 239.69,328.02 240.29,328.38 240.89,328.53 241.49,328.58 242.09,328.59 242.69,328.6 243.29,328.6 243.89,328.6 244.49,328.6 245.09,328.6 245.69,328.6 246.29,328.6 246.89,328.6 247.49,328.6 248.09,328.6 248.69,328.6 249.29,328.6 249.89,328.6 250.49,328.6 251.09,328.6 251.69,328.6 252.29,328.6 252.89,328.6 253.49,328.6 254.09,328.6 254.69,328.6 255.29,328.6 255.89,328.6 256.49,328.6 257.09,328.6 257.69,328.6 258.29,328.6 258.89,328.6 259.49,328.6 260.09,328.6 260.69,328.6 261.29,328.6 261.89,328.6 262.49,328.6 263.09,328.6 263.69,328.6 264.29,328.6 264.89,328.6 265.49,328.6 266.09,328.6 266.69,328.6" stroke="#1a1a1a" stroke-width="0.9" fill="none" stroke-linejoin="round"/>
<polyline points="245.9,328.6 246.5,328.6 247.1,328.6 247.7,328.59 248.3,328.56 248.9,328.43 249.5,327.99 250.1,326.77 250.7,323.96 251.3,318.54 251.9,310.02 252.5,299.36 253.1,289.39 253.7,283.8 254.3,284.98 254.9,292.41 255.5,303.01 256.1,313.18 256.7,320.68 257.3,325.14 257.9,327.31 258.5,328.19 259.1,328.49 259.7,328.57 260.3,328.59 260.9,328.6 261.5,328.6 262.1,328.6 262.7,328.6 263.3,328.6 263.9,328.6 264.5,328.6 265.1,328.6 265.7,328.6 266.3,328.6 266.9,328.6" stroke="#ff1010" stroke-width="0.9" fill="none" stroke-linejoin="round"/>
<line x1="217.09" y1="328.6" x2="267.39" y2="328.6" stroke="#333" stroke-width="0.5"/>
<rect x="274.42" y="279.4" width="50.3" height="49.2" fill="none" stroke="#9a9a9a" stroke-width="0.7"/>
<line x1="274.42" y1="327.8" x2="275.52" y2="327.8" stroke="#666" stroke-width="0.45"/>
<text x="274.02" y="328.7" font-size="2.7" text-anchor="end" fill="#777" stroke="#777" style="stroke-width:0.05px">0</text>
<line x1="274.42" y1="318.85" x2="275.52" y2="318.85" stroke="#666" stroke-width="0.45"/>
<text x="274.02" y="319.75" font-size="2.7" text-anchor="end" fill="#777" stroke="#777" style="stroke-width:0.05px">20</text>
<line x1="274.42" y1="309.9" x2="275.52" y2="309.9" stroke="#666" stroke-width="0.45"/>
<text x="274.02" y="310.8" font-size="2.7" text-anchor="end" fill="#777" stroke="#777" style="stroke-width:0.05px">40</text>
<line x1="274.42" y1="300.95" x2="275.52" y2="300.95" stroke="#666" stroke-width="0.45"/>
<text x="274.02" y="301.85" font-size="2.7" text-anchor="end" fill="#777" stroke="#777" style="stroke-width:0.05px">60</text>
<line x1="274.42" y1="292" x2="275.52" y2="292" stroke="#666" stroke-width="0.45"/>
<text x="274.02" y="292.9" font-size="2.7" text-anchor="end" fill="#777" stroke="#777" style="stroke-width:0.05px">80</text>
<line x1="274.42" y1="283.05" x2="275.52" y2="283.05" stroke="#666" stroke-width="0.45"/>
<text x="274.02" y="283.95" font-size="2.7" text-anchor="end" fill="#777" stroke="#777" style="stroke-width:0.05px">100</text>
<line x1="277.42" y1="328.6" x2="277.42" y2="329.9" stroke="#666" stroke-width="0.45"/>
<text x="277.42" y="333.2" font-size="2.7" text-anchor="middle" fill="#777" stroke="#777" style="stroke-width:0.05px">10<tspan dy="-1" font-size="2">1</tspan></text>
<line x1="288.52" y1="328.6" x2="288.52" y2="329.9" stroke="#666" stroke-width="0.45"/>
<text x="288.52" y="333.2" font-size="2.7" text-anchor="middle" fill="#777" stroke="#777" style="stroke-width:0.05px">10<tspan dy="-1" font-size="2">2</tspan></text>
<line x1="299.62" y1="328.6" x2="299.62" y2="329.9" stroke="#666" stroke-width="0.45"/>
<text x="299.62" y="333.2" font-size="2.7" text-anchor="middle" fill="#777" stroke="#777" style="stroke-width:0.05px">10<tspan dy="-1" font-size="2">3</tspan></text>
<line x1="310.72" y1="328.6" x2="310.72" y2="329.9" stroke="#666" stroke-width="0.45"/>
<text x="310.72" y="333.2" font-size="2.7" text-anchor="middle" fill="#777" stroke="#777" style="stroke-width:0.05px">10<tspan dy="-1" font-size="2">4</tspan></text>
<line x1="321.82" y1="328.6" x2="321.82" y2="329.9" stroke="#666" stroke-width="0.45"/>
<text x="321.82" y="333.2" font-size="2.7" text-anchor="middle" fill="#777" stroke="#777" style="stroke-width:0.05px">10<tspan dy="-1" font-size="2">5</tspan></text>
<polyline points="274.82,328.6 275.42,328.6 276.02,328.6 276.62,328.6 277.22,328.6 277.82,328.6 278.42,328.6 279.02,328.6 279.62,328.59 280.22,328.58 280.82,328.56 281.42,328.49 282.02,328.36 282.62,328.09 283.22,327.6 283.82,326.75 284.42,325.37 285.02,323.24 285.62,320.14 286.22,315.88 286.82,310.39 287.42,303.82 288.02,296.71 288.62,289.94 289.22,284.67 289.82,282 290.42,282.6 291.02,286.46 291.62,292.84 292.22,300.53 292.82,308.25 293.42,314.98 294.02,320.18 294.62,323.8 295.22,326.08 295.82,327.38 296.42,328.05 297.02,328.38 297.62,328.51 298.22,328.57 298.82,328.59 299.42,328.6 300.02,328.6 300.62,328.6 301.22,328.6 301.82,328.6 302.42,328.6 303.02,328.6 303.62,328.6 304.22,328.6 304.82,328.6 305.42,328.6 306.02,328.6 306.62,328.6 307.22,328.6 307.82,328.6 308.42,328.6 309.02,328.6 309.62,328.6 310.22,328.6 310.82,328.6 311.42,328.6 312.02,328.6 312.62,328.6 313.22,328.6 313.82,328.6 314.42,328.6 315.02,328.6 315.62,328.6 316.22,328.6 316.82,328.6 317.42,328.6 318.02,328.6 318.62,328.6 319.22,328.6 319.82,328.6 320.42,328.6 321.02,328.6 321.62,328.6 322.22,328.6 322.82,328.6 323.42,328.6 324.02,328.6" stroke="#1a1a1a" stroke-width="0.9" fill="none" stroke-linejoin="round"/>
<polyline points="285.9,328.6 286.5,328.6 287.1,328.6 287.7,328.6 288.3,328.59 288.9,328.59 289.5,328.57 290.1,328.52 290.7,328.43 291.3,328.26 291.9,327.96 292.5,327.44 293.1,326.61 293.7,325.35 294.3,323.56 294.9,321.14 295.5,318.04 296.1,314.26 296.7,309.89 297.3,305.1 297.9,300.16 298.5,295.44 299.1,291.34 299.7,288.3 300.3,286.7 300.9,286.79 301.5,288.62 302.1,292.01 302.7,296.6 303.3,301.87 303.9,307.31 304.5,312.43 305.1,316.9 305.7,320.53 306.3,323.3 306.9,325.29 307.5,326.63 308.1,327.48 308.7,328 309.3,328.29 309.9,328.45 310.5,328.53 311.1,328.57 311.7,328.59 312.3,328.59 312.9,328.6 313.5,328.6 314.1,328.6 314.7,328.6 315.3,328.6 315.9,328.6 316.5,328.6 317.1,328.6 317.7,328.6 318.3,328.6 318.9,328.6 319.5,328.6 320.1,328.6 320.7,328.6 321.3,328.6 321.9,328.6 322.5,328.6 323.1,328.6 323.7,328.6 324.3,328.6" stroke="#ff1010" stroke-width="0.9" fill="none" stroke-linejoin="round"/>
<line x1="274.42" y1="328.6" x2="324.72" y2="328.6" stroke="#333" stroke-width="0.5"/>
<rect x="331.75" y="279.4" width="50.3" height="49.2" fill="none" stroke="#9a9a9a" stroke-width="0.7"/>
<line x1="331.75" y1="327.8" x2="332.85" y2="327.8" stroke="#666" stroke-width="0.45"/>
<text x="331.35" y="328.7" font-size="2.7" text-anchor="end" fill="#777" stroke="#777" style="stroke-width:0.05px">0</text>
<line x1="331.75" y1="318.85" x2="332.85" y2="318.85" stroke="#666" stroke-width="0.45"/>
<text x="331.35" y="319.75" font-size="2.7" text-anchor="end" fill="#777" stroke="#777" style="stroke-width:0.05px">20</text>
<line x1="331.75" y1="309.9" x2="332.85" y2="309.9" stroke="#666" stroke-width="0.45"/>
<text x="331.35" y="310.8" font-size="2.7" text-anchor="end" fill="#777" stroke="#777" style="stroke-width:0.05px">40</text>
<line x1="331.75" y1="300.95" x2="332.85" y2="300.95" stroke="#666" stroke-width="0.45"/>
<text x="331.35" y="301.85" font-size="2.7" text-anchor="end" fill="#777" stroke="#777" style="stroke-width:0.05px">60</text>
<line x1="331.75" y1="292" x2="332.85" y2="292" stroke="#666" stroke-width="0.45"/>
<text x="331.35" y="292.9" font-size="2.7" text-anchor="end" fill="#777" stroke="#777" style="stroke-width:0.05px">80</text>
<line x1="331.75" y1="283.05" x2="332.85" y2="283.05" stroke="#666" stroke-width="0.45"/>
<text x="331.35" y="283.95" font-size="2.7" text-anchor="end" fill="#777" stroke="#777" style="stroke-width:0.05px">100</text>
<line x1="334.75" y1="328.6" x2="334.75" y2="329.9" stroke="#666" stroke-width="0.45"/>
<text x="334.75" y="333.2" font-size="2.7" text-anchor="middle" fill="#777" stroke="#777" style="stroke-width:0.05px">10<tspan dy="-1" font-size="2">1</tspan></text>
<line x1="345.85" y1="328.6" x2="345.85" y2="329.9" stroke="#666" stroke-width="0.45"/>
<text x="345.85" y="333.2" font-size="2.7" text-anchor="middle" fill="#777" stroke="#777" style="stroke-width:0.05px">10<tspan dy="-1" font-size="2">2</tspan></text>
<line x1="356.95" y1="328.6" x2="356.95" y2="329.9" stroke="#666" stroke-width="0.45"/>
<text x="356.95" y="333.2" font-size="2.7" text-anchor="middle" fill="#777" stroke="#777" style="stroke-width:0.05px">10<tspan dy="-1" font-size="2">3</tspan></text>
<line x1="368.05" y1="328.6" x2="368.05" y2="329.9" stroke="#666" stroke-width="0.45"/>
<text x="368.05" y="333.2" font-size="2.7" text-anchor="middle" fill="#777" stroke="#777" style="stroke-width:0.05px">10<tspan dy="-1" font-size="2">4</tspan></text>
<line x1="379.15" y1="328.6" x2="379.15" y2="329.9" stroke="#666" stroke-width="0.45"/>
<text x="379.15" y="333.2" font-size="2.7" text-anchor="middle" fill="#777" stroke="#777" style="stroke-width:0.05px">10<tspan dy="-1" font-size="2">5</tspan></text>
<polyline points="332.15,328.6 332.75,328.6 333.35,328.6 333.95,328.6 334.55,328.6 335.15,328.6 335.75,328.59 336.35,328.57 336.95,328.53 337.55,328.44 338.15,328.25 338.75,327.88 339.35,327.22 339.95,326.12 340.55,324.43 341.15,321.97 341.75,318.6 342.35,314.26 342.95,309 343.55,303.04 344.15,296.8 344.75,290.95 345.35,286.28 345.95,283.58 346.55,283.4 347.15,285.89 347.75,290.68 348.35,297.04 348.95,303.99 349.55,310.64 350.15,316.34 350.75,320.78 351.35,323.94 351.95,326 352.55,327.25 353.15,327.94 353.75,328.3 354.35,328.47 354.95,328.55 355.55,328.58 356.15,328.59 356.75,328.6 357.35,328.6 357.95,328.6 358.55,328.6 359.15,328.6 359.75,328.6 360.35,328.6 360.95,328.6 361.55,328.6 362.15,328.6 362.75,328.6 363.35,328.6 363.95,328.6 364.55,328.6 365.15,328.6 365.75,328.6 366.35,328.6 366.95,328.6 367.55,328.6 368.15,328.6 368.75,328.6 369.35,328.6 369.95,328.6 370.55,328.6 371.15,328.6 371.75,328.6 372.35,328.6 372.95,328.6 373.55,328.6 374.15,328.6 374.75,328.6 375.35,328.6 375.95,328.6 376.55,328.6 377.15,328.6 377.75,328.6 378.35,328.6 378.95,328.6 379.55,328.6 380.15,328.6 380.75,328.6 381.35,328.6" stroke="#1a1a1a" stroke-width="0.9" fill="none" stroke-linejoin="round"/>
<polyline points="349.6,328.6 350.2,328.6 350.8,328.6 351.4,328.59 352,328.56 352.6,328.45 353.2,328.11 353.8,327.19 354.4,325.08 355,320.98 355.6,314.25 356.2,305.13 356.8,295.24 357.4,287.4 358,284.4 358.6,287.4 359.2,295.24 359.8,305.13 360.4,314.25 361,320.98 361.6,325.08 362.2,327.19 362.8,328.11 363.4,328.45 364,328.56 364.6,328.59 365.2,328.6 365.8,328.6 366.4,328.6 367,328.6 367.6,328.6 368.2,328.6 368.8,328.6 369.4,328.6 370,328.6 370.6,328.6 371.2,328.6 371.8,328.6 372.4,328.6 373,328.6 373.6,328.6 374.2,328.6 374.8,328.6 375.4,328.6 376,328.6 376.6,328.6 377.2,328.6 377.8,328.6 378.4,328.6 379,328.6 379.6,328.6 380.2,328.6 380.8,328.6 381.4,328.6" stroke="#ff1010" stroke-width="0.9" fill="none" stroke-linejoin="round"/>
<line x1="331.75" y1="328.6" x2="382.05" y2="328.6" stroke="#333" stroke-width="0.5"/>
<rect x="389.08" y="279.4" width="50.3" height="49.2" fill="none" stroke="#9a9a9a" stroke-width="0.7"/>
<line x1="389.08" y1="327.8" x2="390.18" y2="327.8" stroke="#666" stroke-width="0.45"/>
<text x="388.68" y="328.7" font-size="2.7" text-anchor="end" fill="#777" stroke="#777" style="stroke-width:0.05px">0</text>
<line x1="389.08" y1="318.85" x2="390.18" y2="318.85" stroke="#666" stroke-width="0.45"/>
<text x="388.68" y="319.75" font-size="2.7" text-anchor="end" fill="#777" stroke="#777" style="stroke-width:0.05px">20</text>
<line x1="389.08" y1="309.9" x2="390.18" y2="309.9" stroke="#666" stroke-width="0.45"/>
<text x="388.68" y="310.8" font-size="2.7" text-anchor="end" fill="#777" stroke="#777" style="stroke-width:0.05px">40</text>
<line x1="389.08" y1="300.95" x2="390.18" y2="300.95" stroke="#666" stroke-width="0.45"/>
<text x="388.68" y="301.85" font-size="2.7" text-anchor="end" fill="#777" stroke="#777" style="stroke-width:0.05px">60</text>
<line x1="389.08" y1="292" x2="390.18" y2="292" stroke="#666" stroke-width="0.45"/>
<text x="388.68" y="292.9" font-size="2.7" text-anchor="end" fill="#777" stroke="#777" style="stroke-width:0.05px">80</text>
<line x1="389.08" y1="283.05" x2="390.18" y2="283.05" stroke="#666" stroke-width="0.45"/>
<text x="388.68" y="283.95" font-size="2.7" text-anchor="end" fill="#777" stroke="#777" style="stroke-width:0.05px">100</text>
<line x1="392.08" y1="328.6" x2="392.08" y2="329.9" stroke="#666" stroke-width="0.45"/>
<text x="392.08" y="333.2" font-size="2.7" text-anchor="middle" fill="#777" stroke="#777" style="stroke-width:0.05px">10<tspan dy="-1" font-size="2">1</tspan></text>
<line x1="403.18" y1="328.6" x2="403.18" y2="329.9" stroke="#666" stroke-width="0.45"/>
<text x="403.18" y="333.2" font-size="2.7" text-anchor="middle" fill="#777" stroke="#777" style="stroke-width:0.05px">10<tspan dy="-1" font-size="2">2</tspan></text>
<line x1="414.28" y1="328.6" x2="414.28" y2="329.9" stroke="#666" stroke-width="0.45"/>
<text x="414.28" y="333.2" font-size="2.7" text-anchor="middle" fill="#777" stroke="#777" style="stroke-width:0.05px">10<tspan dy="-1" font-size="2">3</tspan></text>
<line x1="425.38" y1="328.6" x2="425.38" y2="329.9" stroke="#666" stroke-width="0.45"/>
<text x="425.38" y="333.2" font-size="2.7" text-anchor="middle" fill="#777" stroke="#777" style="stroke-width:0.05px">10<tspan dy="-1" font-size="2">4</tspan></text>
<line x1="436.48" y1="328.6" x2="436.48" y2="329.9" stroke="#666" stroke-width="0.45"/>
<text x="436.48" y="333.2" font-size="2.7" text-anchor="middle" fill="#777" stroke="#777" style="stroke-width:0.05px">10<tspan dy="-1" font-size="2">5</tspan></text>
<polyline points="389.48,328.6 390.08,328.6 390.68,328.6 391.28,328.6 391.88,328.6 392.48,328.6 393.08,328.6 393.68,328.59 394.28,328.58 394.88,328.56 395.48,328.5 396.08,328.38 396.68,328.13 397.28,327.68 397.88,326.92 398.48,325.68 399.08,323.81 399.68,321.09 400.28,317.33 400.88,312.4 401.48,306.35 402.08,299.5 402.68,292.57 403.28,286.61 403.88,282.79 404.48,282 405.08,284.55 405.68,290.01 406.28,297.31 406.88,305.16 407.48,312.39 408.08,318.25 408.68,322.51 409.28,325.29 409.88,326.94 410.48,327.84 411.08,328.27 411.68,328.47 412.28,328.55 412.88,328.58 413.48,328.6 414.08,328.6 414.68,328.6 415.28,328.6 415.88,328.6 416.48,328.6 417.08,328.6 417.68,328.6 418.28,328.6 418.88,328.6 419.48,328.6 420.08,328.6 420.68,328.6 421.28,328.6 421.88,328.6 422.48,328.6 423.08,328.6 423.68,328.6 424.28,328.6 424.88,328.6 425.48,328.6 426.08,328.6 426.68,328.6 427.28,328.6 427.88,328.6 428.48,328.6 429.08,328.6 429.68,328.6 430.28,328.6 430.88,328.6 431.48,328.6 432.08,328.6 432.68,328.6 433.28,328.6 433.88,328.6 434.48,328.6 435.08,328.6 435.68,328.6 436.28,328.6 436.88,328.6 437.48,328.6 438.08,328.6 438.68,328.6" stroke="#1a1a1a" stroke-width="0.9" fill="none" stroke-linejoin="round"/>
<polyline points="414.8,328.6 415.4,328.6 416,328.6 416.6,328.59 417.2,328.56 417.8,328.46 418.4,328.17 419,327.4 419.6,325.67 420.2,322.29 420.8,316.6 421.4,308.43 422,298.68 422.6,289.4 423.2,283.27 423.8,282.32 424.4,286.88 425,295.4 425.6,305.27 426.2,314.13 426.8,320.68 427.4,324.77 428,326.96 428.6,327.98 429.2,328.39 429.8,328.54 430.4,328.58 431,328.6 431.6,328.6 432.2,328.6 432.8,328.6 433.4,328.6 434,328.6 434.6,328.6 435.2,328.6 435.8,328.6 436.4,328.6 437,328.6 437.6,328.6 438.2,328.6 438.8,328.6" stroke="#ff1010" stroke-width="0.9" fill="none" stroke-linejoin="round"/>
<line x1="389.08" y1="328.6" x2="439.38" y2="328.6" stroke="#333" stroke-width="0.5"/>
<rect x="446.41" y="279.4" width="50.3" height="49.2" fill="none" stroke="#9a9a9a" stroke-width="0.7"/>
<line x1="446.41" y1="327.8" x2="447.51" y2="327.8" stroke="#666" stroke-width="0.45"/>
<text x="446.01" y="328.7" font-size="2.7" text-anchor="end" fill="#777" stroke="#777" style="stroke-width:0.05px">0</text>
<line x1="446.41" y1="318.85" x2="447.51" y2="318.85" stroke="#666" stroke-width="0.45"/>
<text x="446.01" y="319.75" font-size="2.7" text-anchor="end" fill="#777" stroke="#777" style="stroke-width:0.05px">20</text>
<line x1="446.41" y1="309.9" x2="447.51" y2="309.9" stroke="#666" stroke-width="0.45"/>
<text x="446.01" y="310.8" font-size="2.7" text-anchor="end" fill="#777" stroke="#777" style="stroke-width:0.05px">40</text>
<line x1="446.41" y1="300.95" x2="447.51" y2="300.95" stroke="#666" stroke-width="0.45"/>
<text x="446.01" y="301.85" font-size="2.7" text-anchor="end" fill="#777" stroke="#777" style="stroke-width:0.05px">60</text>
<line x1="446.41" y1="292" x2="447.51" y2="292" stroke="#666" stroke-width="0.45"/>
<text x="446.01" y="292.9" font-size="2.7" text-anchor="end" fill="#777" stroke="#777" style="stroke-width:0.05px">80</text>
<line x1="446.41" y1="283.05" x2="447.51" y2="283.05" stroke="#666" stroke-width="0.45"/>
<text x="446.01" y="283.95" font-size="2.7" text-anchor="end" fill="#777" stroke="#777" style="stroke-width:0.05px">100</text>
<line x1="449.41" y1="328.6" x2="449.41" y2="329.9" stroke="#666" stroke-width="0.45"/>
<text x="449.41" y="333.2" font-size="2.7" text-anchor="middle" fill="#777" stroke="#777" style="stroke-width:0.05px">10<tspan dy="-1" font-size="2">1</tspan></text>
<line x1="460.51" y1="328.6" x2="460.51" y2="329.9" stroke="#666" stroke-width="0.45"/>
<text x="460.51" y="333.2" font-size="2.7" text-anchor="middle" fill="#777" stroke="#777" style="stroke-width:0.05px">10<tspan dy="-1" font-size="2">2</tspan></text>
<line x1="471.61" y1="328.6" x2="471.61" y2="329.9" stroke="#666" stroke-width="0.45"/>
<text x="471.61" y="333.2" font-size="2.7" text-anchor="middle" fill="#777" stroke="#777" style="stroke-width:0.05px">10<tspan dy="-1" font-size="2">3</tspan></text>
<line x1="482.71" y1="328.6" x2="482.71" y2="329.9" stroke="#666" stroke-width="0.45"/>
<text x="482.71" y="333.2" font-size="2.7" text-anchor="middle" fill="#777" stroke="#777" style="stroke-width:0.05px">10<tspan dy="-1" font-size="2">4</tspan></text>
<line x1="493.81" y1="328.6" x2="493.81" y2="329.9" stroke="#666" stroke-width="0.45"/>
<text x="493.81" y="333.2" font-size="2.7" text-anchor="middle" fill="#777" stroke="#777" style="stroke-width:0.05px">10<tspan dy="-1" font-size="2">5</tspan></text>
<polyline points="446.81,328.6 447.41,328.6 448.01,328.6 448.61,328.6 449.21,328.6 449.81,328.6 450.41,328.6 451.01,328.6 451.61,328.59 452.21,328.56 452.81,328.51 453.41,328.39 454.01,328.16 454.61,327.72 455.21,326.98 455.81,325.79 456.41,323.99 457.01,321.41 457.61,317.93 458.21,313.44 458.81,307.98 459.41,301.79 460.01,295.39 460.61,289.58 461.21,285.29 461.81,283.4 462.41,284.39 463.01,288.18 463.61,294.14 464.21,301.24 464.81,308.39 465.41,314.72 466.01,319.74 466.61,323.35 467.21,325.71 467.81,327.12 468.41,327.9 469.01,328.29 469.61,328.47 470.21,328.55 470.81,328.58 471.41,328.59 472.01,328.6 472.61,328.6 473.21,328.6 473.81,328.6 474.41,328.6 475.01,328.6 475.61,328.6 476.21,328.6 476.81,328.6 477.41,328.6 478.01,328.6 478.61,328.6 479.21,328.6 479.81,328.6 480.41,328.6 481.01,328.6 481.61,328.6 482.21,328.6 482.81,328.6 483.41,328.6 484.01,328.6 484.61,328.6 485.21,328.6 485.81,328.6 486.41,328.6 487.01,328.6 487.61,328.6 488.21,328.6 488.81,328.6 489.41,328.6 490.01,328.6 490.61,328.6 491.21,328.6 491.81,328.6 492.41,328.6 493.01,328.6 493.61,328.6 494.21,328.6 494.81,328.6 495.41,328.6 496.01,328.6" stroke="#1a1a1a" stroke-width="0.9" fill="none" stroke-linejoin="round"/>
<polyline points="459.4,328.6 460,328.6 460.6,328.6 461.2,328.59 461.8,328.57 462.4,328.53 463,328.41 463.6,328.14 464.2,327.58 464.8,326.49 465.4,324.6 466,321.58 466.6,317.26 467.2,311.67 467.8,305.25 468.4,298.8 469,293.36 469.6,289.84 470.2,288.8 470.8,290.19 471.4,293.45 472,297.75 472.6,302.31 473.2,306.59 473.8,310.38 474.4,313.7 475,316.65 475.6,319.28 476.2,321.61 476.8,323.6 477.4,325.21 478,326.42 478.6,327.29 479.2,327.85 479.8,328.2 480.4,328.4 481,328.51 481.6,328.56 482.2,328.58 482.8,328.59 483.4,328.6 484,328.6 484.6,328.6 485.2,328.6 485.8,328.6 486.4,328.6 487,328.6 487.6,328.6 488.2,328.6 488.8,328.6 489.4,328.6 490,328.6 490.6,328.6 491.2,328.6 491.8,328.6 492.4,328.6 493,328.6 493.6,328.6 494.2,328.6 494.8,328.6 495.4,328.6 496,328.6" stroke="#ff1010" stroke-width="0.9" fill="none" stroke-linejoin="round"/>
<line x1="446.41" y1="328.6" x2="496.71" y2="328.6" stroke="#333" stroke-width="0.5"/>
<rect x="45.1" y="340.5" width="50.3" height="49.2" fill="none" stroke="#9a9a9a" stroke-width="0.7"/>
<line x1="45.1" y1="388.9" x2="46.2" y2="388.9" stroke="#666" stroke-width="0.45"/>
<text x="44.7" y="389.8" font-size="2.7" text-anchor="end" fill="#777" stroke="#777" style="stroke-width:0.05px">0</text>
<line x1="45.1" y1="379.95" x2="46.2" y2="379.95" stroke="#666" stroke-width="0.45"/>
<text x="44.7" y="380.85" font-size="2.7" text-anchor="end" fill="#777" stroke="#777" style="stroke-width:0.05px">20</text>
<line x1="45.1" y1="371" x2="46.2" y2="371" stroke="#666" stroke-width="0.45"/>
<text x="44.7" y="371.9" font-size="2.7" text-anchor="end" fill="#777" stroke="#777" style="stroke-width:0.05px">40</text>
<line x1="45.1" y1="362.05" x2="46.2" y2="362.05" stroke="#666" stroke-width="0.45"/>
<text x="44.7" y="362.95" font-size="2.7" text-anchor="end" fill="#777" stroke="#777" style="stroke-width:0.05px">60</text>
<line x1="45.1" y1="353.1" x2="46.2" y2="353.1" stroke="#666" stroke-width="0.45"/>
<text x="44.7" y="354" font-size="2.7" text-anchor="end" fill="#777" stroke="#777" style="stroke-width:0.05px">80</text>
<line x1="45.1" y1="344.15" x2="46.2" y2="344.15" stroke="#666" stroke-width="0.45"/>
<text x="44.7" y="345.05" font-size="2.7" text-anchor="end" fill="#777" stroke="#777" style="stroke-width:0.05px">100</text>
<line x1="48.1" y1="389.7" x2="48.1" y2="391" stroke="#666" stroke-width="0.45"/>
<text x="48.1" y="394.3" font-size="2.7" text-anchor="middle" fill="#777" stroke="#777" style="stroke-width:0.05px">10<tspan dy="-1" font-size="2">1</tspan></text>
<line x1="59.2" y1="389.7" x2="59.2" y2="391" stroke="#666" stroke-width="0.45"/>
<text x="59.2" y="394.3" font-size="2.7" text-anchor="middle" fill="#777" stroke="#777" style="stroke-width:0.05px">10<tspan dy="-1" font-size="2">2</tspan></text>
<line x1="70.3" y1="389.7" x2="70.3" y2="391" stroke="#666" stroke-width="0.45"/>
<text x="70.3" y="394.3" font-size="2.7" text-anchor="middle" fill="#777" stroke="#777" style="stroke-width:0.05px">10<tspan dy="-1" font-size="2">3</tspan></text>
<line x1="81.4" y1="389.7" x2="81.4" y2="391" stroke="#666" stroke-width="0.45"/>
<text x="81.4" y="394.3" font-size="2.7" text-anchor="middle" fill="#777" stroke="#777" style="stroke-width:0.05px">10<tspan dy="-1" font-size="2">4</tspan></text>
<line x1="92.5" y1="389.7" x2="92.5" y2="391" stroke="#666" stroke-width="0.45"/>
<text x="92.5" y="394.3" font-size="2.7" text-anchor="middle" fill="#777" stroke="#777" style="stroke-width:0.05px">10<tspan dy="-1" font-size="2">5</tspan></text>
<polyline points="45.5,389.7 46.1,389.69 46.7,389.68 47.3,389.65 47.9,389.59 48.5,389.44 49.1,389.17 49.7,388.66 50.3,387.82 50.9,386.49 51.5,384.5 52.1,381.69 52.7,377.92 53.3,373.1 53.9,367.3 54.5,360.87 55.1,354.49 55.7,349.13 56.3,345.83 56.9,345.4 57.5,348.07 58.1,353.41 58.7,360.4 59.3,367.83 59.9,374.63 60.5,380.11 61.1,384.07 61.7,386.65 62.3,388.18 62.9,389 63.5,389.4 64.1,389.58 64.7,389.66 65.3,389.69 65.9,389.7 66.5,389.7 67.1,389.7 67.7,389.7 68.3,389.7 68.9,389.7 69.5,389.7 70.1,389.7 70.7,389.7 71.3,389.7 71.9,389.7 72.5,389.7 73.1,389.7 73.7,389.7 74.3,389.7 74.9,389.7 75.5,389.7 76.1,389.7 76.7,389.7 77.3,389.7 77.9,389.7 78.5,389.7 79.1,389.7 79.7,389.7 80.3,389.7 80.9,389.7 81.5,389.7 82.1,389.7 82.7,389.7 83.3,389.7 83.9,389.7 84.5,389.7 85.1,389.7 85.7,389.7 86.3,389.7 86.9,389.7 87.5,389.7 88.1,389.7 88.7,389.7 89.3,389.7 89.9,389.7 90.5,389.7 91.1,389.7 91.7,389.7 92.3,389.7 92.9,389.7 93.5,389.7 94.1,389.7 94.7,389.7" stroke="#1a1a1a" stroke-width="0.9" fill="none" stroke-linejoin="round"/>
<polyline points="67.9,389.7 68.5,389.7 69.1,389.7 69.7,389.69 70.3,389.67 70.9,389.64 71.5,389.56 72.1,389.39 72.7,389.08 73.3,388.52 73.9,387.56 74.5,386.02 75.1,383.7 75.7,380.44 76.3,376.13 76.9,370.86 77.5,364.89 78.1,358.73 78.7,353.04 79.3,348.56 79.9,345.92 80.5,345.53 81.1,347.45 81.7,351.38 82.3,356.75 82.9,362.83 83.5,368.93 84.1,374.48 84.7,379.12 85.3,382.73 85.9,385.34 86.5,387.12 87.1,388.25 87.7,388.93 88.3,389.31 88.9,389.51 89.5,389.62 90.1,389.66 90.7,389.69 91.3,389.69 91.9,389.7 92.5,389.7 93.1,389.7 93.7,389.7 94.3,389.7 94.9,389.7" stroke="#ff1010" stroke-width="0.9" fill="none" stroke-linejoin="round"/>
<line x1="45.1" y1="389.7" x2="95.4" y2="389.7" stroke="#333" stroke-width="0.5"/>
<rect x="102.43" y="340.5" width="50.3" height="49.2" fill="none" stroke="#9a9a9a" stroke-width="0.7"/>
<line x1="102.43" y1="388.9" x2="103.53" y2="388.9" stroke="#666" stroke-width="0.45"/>
<text x="102.03" y="389.8" font-size="2.7" text-anchor="end" fill="#777" stroke="#777" style="stroke-width:0.05px">0</text>
<line x1="102.43" y1="379.95" x2="103.53" y2="379.95" stroke="#666" stroke-width="0.45"/>
<text x="102.03" y="380.85" font-size="2.7" text-anchor="end" fill="#777" stroke="#777" style="stroke-width:0.05px">20</text>
<line x1="102.43" y1="371" x2="103.53" y2="371" stroke="#666" stroke-width="0.45"/>
<text x="102.03" y="371.9" font-size="2.7" text-anchor="end" fill="#777" stroke="#777" style="stroke-width:0.05px">40</text>
<line x1="102.43" y1="362.05" x2="103.53" y2="362.05" stroke="#666" stroke-width="0.45"/>
<text x="102.03" y="362.95" font-size="2.7" text-anchor="end" fill="#777" stroke="#777" style="stroke-width:0.05px">60</text>
<line x1="102.43" y1="353.1" x2="103.53" y2="353.1" stroke="#666" stroke-width="0.45"/>
<text x="102.03" y="354" font-size="2.7" text-anchor="end" fill="#777" stroke="#777" style="stroke-width:0.05px">80</text>
<line x1="102.43" y1="344.15" x2="103.53" y2="344.15" stroke="#666" stroke-width="0.45"/>
<text x="102.03" y="345.05" font-size="2.7" text-anchor="end" fill="#777" stroke="#777" style="stroke-width:0.05px">100</text>
<line x1="105.43" y1="389.7" x2="105.43" y2="391" stroke="#666" stroke-width="0.45"/>
<text x="105.43" y="394.3" font-size="2.7" text-anchor="middle" fill="#777" stroke="#777" style="stroke-width:0.05px">10<tspan dy="-1" font-size="2">1</tspan></text>
<line x1="116.53" y1="389.7" x2="116.53" y2="391" stroke="#666" stroke-width="0.45"/>
<text x="116.53" y="394.3" font-size="2.7" text-anchor="middle" fill="#777" stroke="#777" style="stroke-width:0.05px">10<tspan dy="-1" font-size="2">2</tspan></text>
<line x1="127.63" y1="389.7" x2="127.63" y2="391" stroke="#666" stroke-width="0.45"/>
<text x="127.63" y="394.3" font-size="2.7" text-anchor="middle" fill="#777" stroke="#777" style="stroke-width:0.05px">10<tspan dy="-1" font-size="2">3</tspan></text>
<line x1="138.73" y1="389.7" x2="138.73" y2="391" stroke="#666" stroke-width="0.45"/>
<text x="138.73" y="394.3" font-size="2.7" text-anchor="middle" fill="#777" stroke="#777" style="stroke-width:0.05px">10<tspan dy="-1" font-size="2">4</tspan></text>
<line x1="149.83" y1="389.7" x2="149.83" y2="391" stroke="#666" stroke-width="0.45"/>
<text x="149.83" y="394.3" font-size="2.7" text-anchor="middle" fill="#777" stroke="#777" style="stroke-width:0.05px">10<tspan dy="-1" font-size="2">5</tspan></text>
<polyline points="102.83,389.7 103.43,389.69 104.03,389.68 104.63,389.64 105.23,389.57 105.83,389.41 106.43,389.12 107.03,388.62 107.63,387.78 108.23,386.48 108.83,384.55 109.43,381.84 110.03,378.2 110.63,373.52 111.23,367.86 111.83,361.46 112.43,354.89 113.03,348.99 113.63,344.74 114.23,343 114.83,344.24 115.43,348.34 116.03,354.59 116.63,361.94 117.23,369.27 117.83,375.72 118.43,380.81 119.03,384.45 119.63,386.82 120.23,388.23 120.83,389 121.43,389.39 122.03,389.58 122.63,389.65 123.23,389.68 123.83,389.69 124.43,389.7 125.03,389.7 125.63,389.7 126.23,389.7 126.83,389.7 127.43,389.7 128.03,389.7 128.63,389.7 129.23,389.7 129.83,389.7 130.43,389.7 131.03,389.7 131.63,389.7 132.23,389.7 132.83,389.7 133.43,389.7 134.03,389.7 134.63,389.7 135.23,389.7 135.83,389.7 136.43,389.7 137.03,389.7 137.63,389.7 138.23,389.7 138.83,389.7 139.43,389.7 140.03,389.7 140.63,389.7 141.23,389.7 141.83,389.7 142.43,389.7 143.03,389.7 143.63,389.7 144.23,389.7 144.83,389.7 145.43,389.7 146.03,389.7 146.63,389.7 147.23,389.7 147.83,389.7 148.43,389.7 149.03,389.7 149.63,389.7 150.23,389.7 150.83,389.7 151.43,389.7 152.03,389.7" stroke="#1a1a1a" stroke-width="0.9" fill="none" stroke-linejoin="round"/>
<polyline points="103.1,389.7 103.7,389.7 104.3,389.7 104.9,389.69 105.5,389.67 106.1,389.62 106.7,389.52 107.3,389.3 107.9,388.86 108.5,388.04 109.1,386.63 109.7,384.37 110.3,381 110.9,376.37 111.5,370.5 112.1,363.73 112.7,356.7 113.3,350.31 113.9,345.52 114.5,343.16 115.1,343.64 115.7,346.88 116.3,352.31 116.9,359.02 117.5,366.05 118.1,372.58 118.7,378.06 119.3,382.26 119.9,385.23 120.5,387.18 121.1,388.37 121.7,389.04 122.3,389.39 122.9,389.56 123.5,389.64 124.1,389.68 124.7,389.69 125.3,389.7 125.9,389.7 126.5,389.7 127.1,389.7 127.7,389.7 128.3,389.7 128.9,389.7 129.5,389.7 130.1,389.7 130.7,389.7 131.3,389.7 131.9,389.7 132.5,389.7 133.1,389.7 133.7,389.7 134.3,389.7 134.9,389.7 135.5,389.7 136.1,389.7 136.7,389.7 137.3,389.7 137.9,389.7 138.5,389.7 139.1,389.7 139.7,389.7 140.3,389.7 140.9,389.7 141.5,389.7 142.1,389.7 142.7,389.7 143.3,389.7 143.9,389.7 144.5,389.7 145.1,389.7 145.7,389.7 146.3,389.7 146.9,389.7 147.5,389.7 148.1,389.7 148.7,389.7 149.3,389.7 149.9,389.7 150.5,389.7 151.1,389.7 151.7,389.7 152.3,389.7" stroke="#ff1010" stroke-width="0.9" fill="none" stroke-linejoin="round"/>
<line x1="102.43" y1="389.7" x2="152.73" y2="389.7" stroke="#333" stroke-width="0.5"/>
<rect x="159.76" y="340.5" width="50.3" height="49.2" fill="none" stroke="#9a9a9a" stroke-width="0.7"/>
<line x1="159.76" y1="388.9" x2="160.86" y2="388.9" stroke="#666" stroke-width="0.45"/>
<text x="159.36" y="389.8" font-size="2.7" text-anchor="end" fill="#777" stroke="#777" style="stroke-width:0.05px">0</text>
<line x1="159.76" y1="379.95" x2="160.86" y2="379.95" stroke="#666" stroke-width="0.45"/>
<text x="159.36" y="380.85" font-size="2.7" text-anchor="end" fill="#777" stroke="#777" style="stroke-width:0.05px">20</text>
<line x1="159.76" y1="371" x2="160.86" y2="371" stroke="#666" stroke-width="0.45"/>
<text x="159.36" y="371.9" font-size="2.7" text-anchor="end" fill="#777" stroke="#777" style="stroke-width:0.05px">40</text>
<line x1="159.76" y1="362.05" x2="160.86" y2="362.05" stroke="#666" stroke-width="0.45"/>
<text x="159.36" y="362.95" font-size="2.7" text-anchor="end" fill="#777" stroke="#777" style="stroke-width:0.05px">60</text>
<line x1="159.76" y1="353.1" x2="160.86" y2="353.1" stroke="#666" stroke-width="0.45"/>
<text x="159.36" y="354" font-size="2.7" text-anchor="end" fill="#777" stroke="#777" style="stroke-width:0.05px">80</text>
<line x1="159.76" y1="344.15" x2="160.86" y2="344.15" stroke="#666" stroke-width="0.45"/>
<text x="159.36" y="345.05" font-size="2.7" text-anchor="end" fill="#777" stroke="#777" style="stroke-width:0.05px">100</text>
<line x1="162.76" y1="389.7" x2="162.76" y2="391" stroke="#666" stroke-width="0.45"/>
<text x="162.76" y="394.3" font-size="2.7" text-anchor="middle" fill="#777" stroke="#777" style="stroke-width:0.05px">10<tspan dy="-1" font-size="2">1</tspan></text>
<line x1="173.86" y1="389.7" x2="173.86" y2="391" stroke="#666" stroke-width="0.45"/>
<text x="173.86" y="394.3" font-size="2.7" text-anchor="middle" fill="#777" stroke="#777" style="stroke-width:0.05px">10<tspan dy="-1" font-size="2">2</tspan></text>
<line x1="184.96" y1="389.7" x2="184.96" y2="391" stroke="#666" stroke-width="0.45"/>
<text x="184.96" y="394.3" font-size="2.7" text-anchor="middle" fill="#777" stroke="#777" style="stroke-width:0.05px">10<tspan dy="-1" font-size="2">3</tspan></text>
<line x1="196.06" y1="389.7" x2="196.06" y2="391" stroke="#666" stroke-width="0.45"/>
<text x="196.06" y="394.3" font-size="2.7" text-anchor="middle" fill="#777" stroke="#777" style="stroke-width:0.05px">10<tspan dy="-1" font-size="2">4</tspan></text>
<line x1="207.16" y1="389.7" x2="207.16" y2="391" stroke="#666" stroke-width="0.45"/>
<text x="207.16" y="394.3" font-size="2.7" text-anchor="middle" fill="#777" stroke="#777" style="stroke-width:0.05px">10<tspan dy="-1" font-size="2">5</tspan></text>
<polyline points="160.16,385.14 160.76,386.14 161.36,388.51 161.96,389.16 162.56,388.84 163.16,388.13 163.76,387 164.36,385.31 164.96,382.92 165.56,379.73 166.16,375.7 166.76,370.88 167.36,365.51 167.96,359.98 168.56,354.89 169.16,350.94 169.76,348.8 170.36,348.93 170.96,351.41 171.56,355.89 172.16,361.68 172.76,367.93 173.36,373.87 173.96,378.92 174.56,382.84 175.16,385.62 175.76,387.43 176.36,388.52 176.96,389.13 177.56,389.44 178.16,389.59 178.76,389.66 179.36,389.68 179.96,389.69 180.56,389.7 181.16,389.7 181.76,389.7 182.36,389.7 182.96,389.7 183.56,389.7 184.16,389.7 184.76,389.7 185.36,389.7 185.96,389.7 186.56,389.7 187.16,389.7 187.76,389.7 188.36,389.7 188.96,389.7 189.56,389.7 190.16,389.7 190.76,389.7 191.36,389.7 191.96,389.7 192.56,389.7 193.16,389.7 193.76,389.7 194.36,389.7 194.96,389.7 195.56,389.7 196.16,389.7 196.76,389.7 197.36,389.7 197.96,389.7 198.56,389.7 199.16,389.7 199.76,389.7 200.36,389.7 200.96,389.7 201.56,389.7 202.16,389.7 202.76,389.7 203.36,389.7 203.96,389.7 204.56,389.7 205.16,389.7 205.76,389.7 206.36,389.7 206.96,389.7 207.56,389.7 208.16,389.7 208.76,389.7 209.36,389.7" stroke="#1a1a1a" stroke-width="0.9" fill="none" stroke-linejoin="round"/>
<polyline points="170.4,389.7 171,389.7 171.6,389.7 172.2,389.7 172.8,389.69 173.4,389.69 174,389.68 174.6,389.66 175.2,389.63 175.8,389.58 176.4,389.5 177,389.38 177.6,389.2 178.2,388.94 178.8,388.58 179.4,388.1 180,387.49 180.6,386.72 181.2,385.82 181.8,384.8 182.4,383.7 183,382.58 183.6,381.51 184.2,380.56 184.8,379.79 185.4,379.23 186,378.85 186.6,378.52 187.2,377.97 187.8,376.81 188.4,374.56 189,370.82 189.6,365.53 190.2,359.15 190.8,352.72 191.4,347.68 192,345.4 192.6,346.64 193.2,351.26 193.8,358.23 194.4,366.11 195,373.51 195.6,379.53 196.2,383.86 196.8,386.63 197.4,388.22 198,389.05 198.6,389.44 199.2,389.6 199.8,389.67 200.4,389.69 201,389.7 201.6,389.7 202.2,389.7 202.8,389.7 203.4,389.7 204,389.7 204.6,389.7 205.2,389.7 205.8,389.7 206.4,389.7 207,389.7 207.6,389.7 208.2,389.7 208.8,389.7 209.4,389.7" stroke="#ff1010" stroke-width="0.9" fill="none" stroke-linejoin="round"/>
<line x1="159.76" y1="389.7" x2="210.06" y2="389.7" stroke="#333" stroke-width="0.5"/>
<rect x="217.09" y="340.5" width="50.3" height="49.2" fill="none" stroke="#9a9a9a" stroke-width="0.7"/>
<line x1="217.09" y1="388.9" x2="218.19" y2="388.9" stroke="#666" stroke-width="0.45"/>
<text x="216.69" y="389.8" font-size="2.7" text-anchor="end" fill="#777" stroke="#777" style="stroke-width:0.05px">0</text>
<line x1="217.09" y1="379.95" x2="218.19" y2="379.95" stroke="#666" stroke-width="0.45"/>
<text x="216.69" y="380.85" font-size="2.7" text-anchor="end" fill="#777" stroke="#777" style="stroke-width:0.05px">20</text>
<line x1="217.09" y1="371" x2="218.19" y2="371" stroke="#666" stroke-width="0.45"/>
<text x="216.69" y="371.9" font-size="2.7" text-anchor="end" fill="#777" stroke="#777" style="stroke-width:0.05px">40</text>
<line x1="217.09" y1="362.05" x2="218.19" y2="362.05" stroke="#666" stroke-width="0.45"/>
<text x="216.69" y="362.95" font-size="2.7" text-anchor="end" fill="#777" stroke="#777" style="stroke-width:0.05px">60</text>
<line x1="217.09" y1="353.1" x2="218.19" y2="353.1" stroke="#666" stroke-width="0.45"/>
<text x="216.69" y="354" font-size="2.7" text-anchor="end" fill="#777" stroke="#777" style="stroke-width:0.05px">80</text>
<line x1="217.09" y1="344.15" x2="218.19" y2="344.15" stroke="#666" stroke-width="0.45"/>
<text x="216.69" y="345.05" font-size="2.7" text-anchor="end" fill="#777" stroke="#777" style="stroke-width:0.05px">100</text>
<line x1="220.09" y1="389.7" x2="220.09" y2="391" stroke="#666" stroke-width="0.45"/>
<text x="220.09" y="394.3" font-size="2.7" text-anchor="middle" fill="#777" stroke="#777" style="stroke-width:0.05px">10<tspan dy="-1" font-size="2">1</tspan></text>
<line x1="231.19" y1="389.7" x2="231.19" y2="391" stroke="#666" stroke-width="0.45"/>
<text x="231.19" y="394.3" font-size="2.7" text-anchor="middle" fill="#777" stroke="#777" style="stroke-width:0.05px">10<tspan dy="-1" font-size="2">2</tspan></text>
<line x1="242.29" y1="389.7" x2="242.29" y2="391" stroke="#666" stroke-width="0.45"/>
<text x="242.29" y="394.3" font-size="2.7" text-anchor="middle" fill="#777" stroke="#777" style="stroke-width:0.05px">10<tspan dy="-1" font-size="2">3</tspan></text>
<line x1="253.39" y1="389.7" x2="253.39" y2="391" stroke="#666" stroke-width="0.45"/>
<text x="253.39" y="394.3" font-size="2.7" text-anchor="middle" fill="#777" stroke="#777" style="stroke-width:0.05px">10<tspan dy="-1" font-size="2">4</tspan></text>
<line x1="264.49" y1="389.7" x2="264.49" y2="391" stroke="#666" stroke-width="0.45"/>
<text x="264.49" y="394.3" font-size="2.7" text-anchor="middle" fill="#777" stroke="#777" style="stroke-width:0.05px">10<tspan dy="-1" font-size="2">5</tspan></text>
<polyline points="217.49,389.7 218.09,389.7 218.69,389.7 219.29,389.69 219.89,389.68 220.49,389.64 221.09,389.57 221.69,389.41 222.29,389.09 222.89,388.53 223.49,387.59 224.09,386.09 224.69,383.83 225.29,380.6 225.89,376.22 226.49,370.63 227.09,364.02 227.69,356.95 228.29,350.34 228.89,345.33 229.49,343 230.09,343.97 230.69,348.15 231.29,354.74 231.89,362.5 232.49,370.15 233.09,376.73 233.69,381.76 234.29,385.22 234.89,387.37 235.49,388.58 236.09,389.2 236.69,389.5 237.29,389.62 237.89,389.67 238.49,389.69 239.09,389.7 239.69,389.7 240.29,389.7 240.89,389.7 241.49,389.7 242.09,389.7 242.69,389.7 243.29,389.7 243.89,389.7 244.49,389.7 245.09,389.7 245.69,389.7 246.29,389.7 246.89,389.7 247.49,389.7 248.09,389.7 248.69,389.7 249.29,389.7 249.89,389.7 250.49,389.7 251.09,389.7 251.69,389.7 252.29,389.7 252.89,389.7 253.49,389.7 254.09,389.7 254.69,389.7 255.29,389.7 255.89,389.7 256.49,389.7 257.09,389.7 257.69,389.7 258.29,389.7 258.89,389.7 259.49,389.7 260.09,389.7 260.69,389.7 261.29,389.7 261.89,389.7 262.49,389.7 263.09,389.7 263.69,389.7 264.29,389.7 264.89,389.7 265.49,389.7 266.09,389.7 266.69,389.7" stroke="#1a1a1a" stroke-width="0.9" fill="none" stroke-linejoin="round"/>
<polyline points="249.5,389.7 250.1,389.7 250.7,389.7 251.3,389.69 251.9,389.66 252.5,389.52 253.1,389.09 253.7,387.87 254.3,385.05 254.9,379.61 255.5,371.08 256.1,360.4 256.7,350.41 257.3,344.8 257.9,345.98 258.5,353.43 259.1,364.05 259.7,374.25 260.3,381.77 260.9,386.23 261.5,388.41 262.1,389.29 262.7,389.59 263.3,389.67 263.9,389.69 264.5,389.7 265.1,389.7 265.7,389.7 266.3,389.7 266.9,389.7" stroke="#ff1010" stroke-width="0.9" fill="none" stroke-linejoin="round"/>
<line x1="217.09" y1="389.7" x2="267.39" y2="389.7" stroke="#333" stroke-width="0.5"/>
<rect x="274.42" y="340.5" width="50.3" height="49.2" fill="none" stroke="#9a9a9a" stroke-width="0.7"/>
<line x1="274.42" y1="388.9" x2="275.52" y2="388.9" stroke="#666" stroke-width="0.45"/>
<text x="274.02" y="389.8" font-size="2.7" text-anchor="end" fill="#777" stroke="#777" style="stroke-width:0.05px">0</text>
<line x1="274.42" y1="379.95" x2="275.52" y2="379.95" stroke="#666" stroke-width="0.45"/>
<text x="274.02" y="380.85" font-size="2.7" text-anchor="end" fill="#777" stroke="#777" style="stroke-width:0.05px">20</text>
<line x1="274.42" y1="371" x2="275.52" y2="371" stroke="#666" stroke-width="0.45"/>
<text x="274.02" y="371.9" font-size="2.7" text-anchor="end" fill="#777" stroke="#777" style="stroke-width:0.05px">40</text>
<line x1="274.42" y1="362.05" x2="275.52" y2="362.05" stroke="#666" stroke-width="0.45"/>
<text x="274.02" y="362.95" font-size="2.7" text-anchor="end" fill="#777" stroke="#777" style="stroke-width:0.05px">60</text>
<line x1="274.42" y1="353.1" x2="275.52" y2="353.1" stroke="#666" stroke-width="0.45"/>
<text x="274.02" y="354" font-size="2.7" text-anchor="end" fill="#777" stroke="#777" style="stroke-width:0.05px">80</text>
<line x1="274.42" y1="344.15" x2="275.52" y2="344.15" stroke="#666" stroke-width="0.45"/>
<text x="274.02" y="345.05" font-size="2.7" text-anchor="end" fill="#777" stroke="#777" style="stroke-width:0.05px">100</text>
<line x1="277.42" y1="389.7" x2="277.42" y2="391" stroke="#666" stroke-width="0.45"/>
<text x="277.42" y="394.3" font-size="2.7" text-anchor="middle" fill="#777" stroke="#777" style="stroke-width:0.05px">10<tspan dy="-1" font-size="2">1</tspan></text>
<line x1="288.52" y1="389.7" x2="288.52" y2="391" stroke="#666" stroke-width="0.45"/>
<text x="288.52" y="394.3" font-size="2.7" text-anchor="middle" fill="#777" stroke="#777" style="stroke-width:0.05px">10<tspan dy="-1" font-size="2">2</tspan></text>
<line x1="299.62" y1="389.7" x2="299.62" y2="391" stroke="#666" stroke-width="0.45"/>
<text x="299.62" y="394.3" font-size="2.7" text-anchor="middle" fill="#777" stroke="#777" style="stroke-width:0.05px">10<tspan dy="-1" font-size="2">3</tspan></text>
<line x1="310.72" y1="389.7" x2="310.72" y2="391" stroke="#666" stroke-width="0.45"/>
<text x="310.72" y="394.3" font-size="2.7" text-anchor="middle" fill="#777" stroke="#777" style="stroke-width:0.05px">10<tspan dy="-1" font-size="2">4</tspan></text>
<line x1="321.82" y1="389.7" x2="321.82" y2="391" stroke="#666" stroke-width="0.45"/>
<text x="321.82" y="394.3" font-size="2.7" text-anchor="middle" fill="#777" stroke="#777" style="stroke-width:0.05px">10<tspan dy="-1" font-size="2">5</tspan></text>
<polyline points="274.82,389.7 275.42,389.69 276.02,389.68 276.62,389.65 277.22,389.58 277.82,389.43 278.42,389.14 279.02,388.62 279.62,387.73 280.22,386.31 280.82,384.17 281.42,381.08 282.02,376.88 282.62,371.5 283.22,365.08 283.82,358.12 284.42,351.5 285.02,346.33 285.62,343.7 286.22,344.28 286.82,348.08 287.42,354.37 288.02,361.96 288.62,369.58 289.22,376.22 289.82,381.37 290.42,384.95 291.02,387.21 291.62,388.49 292.22,389.16 292.82,389.48 293.42,389.62 294.02,389.67 294.62,389.69 295.22,389.7 295.82,389.7 296.42,389.7 297.02,389.7 297.62,389.7 298.22,389.7 298.82,389.7 299.42,389.7 300.02,389.7 300.62,389.7 301.22,389.7 301.82,389.7 302.42,389.7 303.02,389.7 303.62,389.7 304.22,389.7 304.82,389.7 305.42,389.7 306.02,389.7 306.62,389.7 307.22,389.7 307.82,389.7 308.42,389.7 309.02,389.7 309.62,389.7 310.22,389.7 310.82,389.7 311.42,389.7 312.02,389.7 312.62,389.7 313.22,389.7 313.82,389.7 314.42,389.7 315.02,389.7 315.62,389.7 316.22,389.7 316.82,389.7 317.42,389.7 318.02,389.7 318.62,389.7 319.22,389.7 319.82,389.7 320.42,389.7 321.02,389.7 321.62,389.7 322.22,389.7 322.82,389.7 323.42,389.7 324.02,389.7" stroke="#1a1a1a" stroke-width="0.9" fill="none" stroke-linejoin="round"/>
<polyline points="297.9,389.7 298.5,389.7 299.1,389.7 299.7,389.69 300.3,389.67 300.9,389.63 301.5,389.52 302.1,389.31 302.7,388.88 303.3,388.09 303.9,386.72 304.5,384.53 305.1,381.26 305.7,376.77 306.3,371.08 306.9,364.51 307.5,357.69 308.1,351.49 308.7,346.85 309.3,344.56 309.9,345.02 310.5,348.17 311.1,353.43 311.7,359.94 312.3,366.76 312.9,373.09 313.5,378.4 314.1,382.48 314.7,385.37 315.3,387.26 315.9,388.41 316.5,389.06 317.1,389.4 317.7,389.57 318.3,389.65 318.9,389.68 319.5,389.69 320.1,389.7 320.7,389.7 321.3,389.7 321.9,389.7 322.5,389.7 323.1,389.7 323.7,389.7 324.3,389.7" stroke="#ff1010" stroke-width="0.9" fill="none" stroke-linejoin="round"/>
<line x1="274.42" y1="389.7" x2="324.72" y2="389.7" stroke="#333" stroke-width="0.5"/>
<rect x="331.75" y="340.5" width="50.3" height="49.2" fill="none" stroke="#9a9a9a" stroke-width="0.7"/>
<line x1="331.75" y1="388.9" x2="332.85" y2="388.9" stroke="#666" stroke-width="0.45"/>
<text x="331.35" y="389.8" font-size="2.7" text-anchor="end" fill="#777" stroke="#777" style="stroke-width:0.05px">0</text>
<line x1="331.75" y1="379.95" x2="332.85" y2="379.95" stroke="#666" stroke-width="0.45"/>
<text x="331.35" y="380.85" font-size="2.7" text-anchor="end" fill="#777" stroke="#777" style="stroke-width:0.05px">20</text>
<line x1="331.75" y1="371" x2="332.85" y2="371" stroke="#666" stroke-width="0.45"/>
<text x="331.35" y="371.9" font-size="2.7" text-anchor="end" fill="#777" stroke="#777" style="stroke-width:0.05px">40</text>
<line x1="331.75" y1="362.05" x2="332.85" y2="362.05" stroke="#666" stroke-width="0.45"/>
<text x="331.35" y="362.95" font-size="2.7" text-anchor="end" fill="#777" stroke="#777" style="stroke-width:0.05px">60</text>
<line x1="331.75" y1="353.1" x2="332.85" y2="353.1" stroke="#666" stroke-width="0.45"/>
<text x="331.35" y="354" font-size="2.7" text-anchor="end" fill="#777" stroke="#777" style="stroke-width:0.05px">80</text>
<line x1="331.75" y1="344.15" x2="332.85" y2="344.15" stroke="#666" stroke-width="0.45"/>
<text x="331.35" y="345.05" font-size="2.7" text-anchor="end" fill="#777" stroke="#777" style="stroke-width:0.05px">100</text>
<line x1="334.75" y1="389.7" x2="334.75" y2="391" stroke="#666" stroke-width="0.45"/>
<text x="334.75" y="394.3" font-size="2.7" text-anchor="middle" fill="#777" stroke="#777" style="stroke-width:0.05px">10<tspan dy="-1" font-size="2">1</tspan></text>
<line x1="345.85" y1="389.7" x2="345.85" y2="391" stroke="#666" stroke-width="0.45"/>
<text x="345.85" y="394.3" font-size="2.7" text-anchor="middle" fill="#777" stroke="#777" style="stroke-width:0.05px">10<tspan dy="-1" font-size="2">2</tspan></text>
<line x1="356.95" y1="389.7" x2="356.95" y2="391" stroke="#666" stroke-width="0.45"/>
<text x="356.95" y="394.3" font-size="2.7" text-anchor="middle" fill="#777" stroke="#777" style="stroke-width:0.05px">10<tspan dy="-1" font-size="2">3</tspan></text>
<line x1="368.05" y1="389.7" x2="368.05" y2="391" stroke="#666" stroke-width="0.45"/>
<text x="368.05" y="394.3" font-size="2.7" text-anchor="middle" fill="#777" stroke="#777" style="stroke-width:0.05px">10<tspan dy="-1" font-size="2">4</tspan></text>
<line x1="379.15" y1="389.7" x2="379.15" y2="391" stroke="#666" stroke-width="0.45"/>
<text x="379.15" y="394.3" font-size="2.7" text-anchor="middle" fill="#777" stroke="#777" style="stroke-width:0.05px">10<tspan dy="-1" font-size="2">5</tspan></text>
<polyline points="332.15,389.7 332.75,389.69 333.35,389.67 333.95,389.63 334.55,389.53 335.15,389.32 335.75,388.94 336.35,388.25 336.95,387.12 337.55,385.37 338.15,382.82 338.75,379.31 339.35,374.77 339.95,369.25 340.55,363.03 341.15,356.69 341.75,351.04 342.35,347.01 342.95,345.4 343.55,346.64 344.15,350.58 344.75,356.54 345.35,363.53 345.95,370.48 346.55,376.57 347.15,381.37 347.75,384.79 348.35,387.01 348.95,388.33 349.55,389.05 350.15,389.42 350.75,389.58 351.35,389.66 351.95,389.68 352.55,389.7 353.15,389.7 353.75,389.7 354.35,389.7 354.95,389.7 355.55,389.7 356.15,389.7 356.75,389.7 357.35,389.7 357.95,389.7 358.55,389.7 359.15,389.7 359.75,389.7 360.35,389.7 360.95,389.7 361.55,389.7 362.15,389.7 362.75,389.7 363.35,389.7 363.95,389.7 364.55,389.7 365.15,389.7 365.75,389.7 366.35,389.7 366.95,389.7 367.55,389.7 368.15,389.7 368.75,389.7 369.35,389.7 369.95,389.7 370.55,389.7 371.15,389.7 371.75,389.7 372.35,389.7 372.95,389.7 373.55,389.7 374.15,389.7 374.75,389.7 375.35,389.7 375.95,389.7 376.55,389.7 377.15,389.7 377.75,389.7 378.35,389.7 378.95,389.7 379.55,389.7 380.15,389.7 380.75,389.7 381.35,389.7" stroke="#1a1a1a" stroke-width="0.9" fill="none" stroke-linejoin="round"/>
<polyline points="347.9,389.7 348.5,389.7 349.1,389.7 349.7,389.69 350.3,389.66 350.9,389.57 351.5,389.29 352.1,388.56 352.7,386.92 353.3,383.7 353.9,378.29 354.5,370.52 355.1,361.25 355.7,352.44 356.3,346.61 356.9,345.71 357.5,350.04 358.1,358.14 358.7,367.53 359.3,375.94 359.9,382.17 360.5,386.06 361.1,388.14 361.7,389.11 362.3,389.5 362.9,389.64 363.5,389.69 364.1,389.7 364.7,389.7 365.3,389.7 365.9,389.7 366.5,389.7 367.1,389.7 367.7,389.7 368.3,389.7 368.9,389.7 369.5,389.7 370.1,389.7 370.7,389.7 371.3,389.7 371.9,389.7 372.5,389.7 373.1,389.7 373.7,389.7 374.3,389.7 374.9,389.7 375.5,389.7 376.1,389.7 376.7,389.7 377.3,389.7 377.9,389.7 378.5,389.7 379.1,389.7 379.7,389.7 380.3,389.7 380.9,389.7 381.5,389.7" stroke="#ff1010" stroke-width="0.9" fill="none" stroke-linejoin="round"/>
<line x1="331.75" y1="389.7" x2="382.05" y2="389.7" stroke="#333" stroke-width="0.5"/>
<rect x="389.08" y="340.5" width="50.3" height="49.2" fill="none" stroke="#9a9a9a" stroke-width="0.7"/>
<line x1="389.08" y1="388.9" x2="390.18" y2="388.9" stroke="#666" stroke-width="0.45"/>
<text x="388.68" y="389.8" font-size="2.7" text-anchor="end" fill="#777" stroke="#777" style="stroke-width:0.05px">0</text>
<line x1="389.08" y1="379.95" x2="390.18" y2="379.95" stroke="#666" stroke-width="0.45"/>
<text x="388.68" y="380.85" font-size="2.7" text-anchor="end" fill="#777" stroke="#777" style="stroke-width:0.05px">20</text>
<line x1="389.08" y1="371" x2="390.18" y2="371" stroke="#666" stroke-width="0.45"/>
<text x="388.68" y="371.9" font-size="2.7" text-anchor="end" fill="#777" stroke="#777" style="stroke-width:0.05px">40</text>
<line x1="389.08" y1="362.05" x2="390.18" y2="362.05" stroke="#666" stroke-width="0.45"/>
<text x="388.68" y="362.95" font-size="2.7" text-anchor="end" fill="#777" stroke="#777" style="stroke-width:0.05px">60</text>
<line x1="389.08" y1="353.1" x2="390.18" y2="353.1" stroke="#666" stroke-width="0.45"/>
<text x="388.68" y="354" font-size="2.7" text-anchor="end" fill="#777" stroke="#777" style="stroke-width:0.05px">80</text>
<line x1="389.08" y1="344.15" x2="390.18" y2="344.15" stroke="#666" stroke-width="0.45"/>
<text x="388.68" y="345.05" font-size="2.7" text-anchor="end" fill="#777" stroke="#777" style="stroke-width:0.05px">100</text>
<line x1="392.08" y1="389.7" x2="392.08" y2="391" stroke="#666" stroke-width="0.45"/>
<text x="392.08" y="394.3" font-size="2.7" text-anchor="middle" fill="#777" stroke="#777" style="stroke-width:0.05px">10<tspan dy="-1" font-size="2">1</tspan></text>
<line x1="403.18" y1="389.7" x2="403.18" y2="391" stroke="#666" stroke-width="0.45"/>
<text x="403.18" y="394.3" font-size="2.7" text-anchor="middle" fill="#777" stroke="#777" style="stroke-width:0.05px">10<tspan dy="-1" font-size="2">2</tspan></text>
<line x1="414.28" y1="389.7" x2="414.28" y2="391" stroke="#666" stroke-width="0.45"/>
<text x="414.28" y="394.3" font-size="2.7" text-anchor="middle" fill="#777" stroke="#777" style="stroke-width:0.05px">10<tspan dy="-1" font-size="2">3</tspan></text>
<line x1="425.38" y1="389.7" x2="425.38" y2="391" stroke="#666" stroke-width="0.45"/>
<text x="425.38" y="394.3" font-size="2.7" text-anchor="middle" fill="#777" stroke="#777" style="stroke-width:0.05px">10<tspan dy="-1" font-size="2">4</tspan></text>
<line x1="436.48" y1="389.7" x2="436.48" y2="391" stroke="#666" stroke-width="0.45"/>
<text x="436.48" y="394.3" font-size="2.7" text-anchor="middle" fill="#777" stroke="#777" style="stroke-width:0.05px">10<tspan dy="-1" font-size="2">5</tspan></text>
<polyline points="389.48,389.69 390.08,389.67 390.68,389.62 391.28,389.53 391.88,389.35 392.48,389.01 393.08,388.42 393.68,387.45 394.28,385.94 394.88,383.72 395.48,380.59 396.08,376.4 396.68,371.09 397.28,364.82 397.88,358.03 398.48,351.5 399.08,346.21 399.68,343.14 400.28,343 400.88,345.91 401.48,351.39 402.08,358.47 402.68,366.01 403.28,372.99 403.88,378.74 404.48,383.02 405.08,385.92 405.68,387.71 406.28,388.73 406.88,389.26 407.48,389.52 408.08,389.63 408.68,389.67 409.28,389.69 409.88,389.7 410.48,389.7 411.08,389.7 411.68,389.7 412.28,389.7 412.88,389.7 413.48,389.7 414.08,389.7 414.68,389.7 415.28,389.7 415.88,389.7 416.48,389.7 417.08,389.7 417.68,389.7 418.28,389.7 418.88,389.7 419.48,389.7 420.08,389.7 420.68,389.7 421.28,389.7 421.88,389.7 422.48,389.7 423.08,389.7 423.68,389.7 424.28,389.7 424.88,389.7 425.48,389.7 426.08,389.7 426.68,389.7 427.28,389.7 427.88,389.7 428.48,389.7 429.08,389.7 429.68,389.7 430.28,389.7 430.88,389.7 431.48,389.7 432.08,389.7 432.68,389.7 433.28,389.7 433.88,389.7 434.48,389.7 435.08,389.7 435.68,389.7 436.28,389.7 436.88,389.7 437.48,389.7 438.08,389.7 438.68,389.7" stroke="#1a1a1a" stroke-width="0.9" fill="none" stroke-linejoin="round"/>
<polyline points="410.4,389.7 411,389.7 411.6,389.7 412.2,389.69 412.8,389.67 413.4,389.6 414,389.43 414.6,389.01 415.2,388.13 415.8,386.43 416.4,383.47 417,378.86 417.6,372.44 418.2,364.58 418.8,356.3 419.4,349.11 420,344.61 420.6,343.93 421.2,347.24 421.8,353.7 422.4,361.8 423,369.94 423.6,376.91 424.2,382.13 424.8,385.61 425.4,387.68 426,388.79 426.6,389.32 427.2,389.56 427.8,389.65 428.4,389.68 429,389.7 429.6,389.7 430.2,389.7 430.8,389.7 431.4,389.7 432,389.7 432.6,389.7 433.2,389.7 433.8,389.7 434.4,389.7 435,389.7 435.6,389.7 436.2,389.7 436.8,389.7 437.4,389.7 438,389.7 438.6,389.7" stroke="#ff1010" stroke-width="0.9" fill="none" stroke-linejoin="round"/>
<line x1="389.08" y1="389.7" x2="439.38" y2="389.7" stroke="#333" stroke-width="0.5"/>
<rect x="446.41" y="340.5" width="50.3" height="49.2" fill="none" stroke="#9a9a9a" stroke-width="0.7"/>
<line x1="446.41" y1="388.9" x2="447.51" y2="388.9" stroke="#666" stroke-width="0.45"/>
<text x="446.01" y="389.8" font-size="2.7" text-anchor="end" fill="#777" stroke="#777" style="stroke-width:0.05px">0</text>
<line x1="446.41" y1="379.95" x2="447.51" y2="379.95" stroke="#666" stroke-width="0.45"/>
<text x="446.01" y="380.85" font-size="2.7" text-anchor="end" fill="#777" stroke="#777" style="stroke-width:0.05px">20</text>
<line x1="446.41" y1="371" x2="447.51" y2="371" stroke="#666" stroke-width="0.45"/>
<text x="446.01" y="371.9" font-size="2.7" text-anchor="end" fill="#777" stroke="#777" style="stroke-width:0.05px">40</text>
<line x1="446.41" y1="362.05" x2="447.51" y2="362.05" stroke="#666" stroke-width="0.45"/>
<text x="446.01" y="362.95" font-size="2.7" text-anchor="end" fill="#777" stroke="#777" style="stroke-width:0.05px">60</text>
<line x1="446.41" y1="353.1" x2="447.51" y2="353.1" stroke="#666" stroke-width="0.45"/>
<text x="446.01" y="354" font-size="2.7" text-anchor="end" fill="#777" stroke="#777" style="stroke-width:0.05px">80</text>
<line x1="446.41" y1="344.15" x2="447.51" y2="344.15" stroke="#666" stroke-width="0.45"/>
<text x="446.01" y="345.05" font-size="2.7" text-anchor="end" fill="#777" stroke="#777" style="stroke-width:0.05px">100</text>
<line x1="449.41" y1="389.7" x2="449.41" y2="391" stroke="#666" stroke-width="0.45"/>
<text x="449.41" y="394.3" font-size="2.7" text-anchor="middle" fill="#777" stroke="#777" style="stroke-width:0.05px">10<tspan dy="-1" font-size="2">1</tspan></text>
<line x1="460.51" y1="389.7" x2="460.51" y2="391" stroke="#666" stroke-width="0.45"/>
<text x="460.51" y="394.3" font-size="2.7" text-anchor="middle" fill="#777" stroke="#777" style="stroke-width:0.05px">10<tspan dy="-1" font-size="2">2</tspan></text>
<line x1="471.61" y1="389.7" x2="471.61" y2="391" stroke="#666" stroke-width="0.45"/>
<text x="471.61" y="394.3" font-size="2.7" text-anchor="middle" fill="#777" stroke="#777" style="stroke-width:0.05px">10<tspan dy="-1" font-size="2">3</tspan></text>
<line x1="482.71" y1="389.7" x2="482.71" y2="391" stroke="#666" stroke-width="0.45"/>
<text x="482.71" y="394.3" font-size="2.7" text-anchor="middle" fill="#777" stroke="#777" style="stroke-width:0.05px">10<tspan dy="-1" font-size="2">4</tspan></text>
<line x1="493.81" y1="389.7" x2="493.81" y2="391" stroke="#666" stroke-width="0.45"/>
<text x="493.81" y="394.3" font-size="2.7" text-anchor="middle" fill="#777" stroke="#777" style="stroke-width:0.05px">10<tspan dy="-1" font-size="2">5</tspan></text>
<polyline points="446.81,389.7 447.41,389.7 448.01,389.7 448.61,389.69 449.21,389.68 449.81,389.65 450.41,389.59 451.01,389.46 451.61,389.2 452.21,388.74 452.81,387.94 453.41,386.66 454.01,384.71 454.61,381.92 455.21,378.13 455.81,373.29 456.41,367.49 457.01,361.06 457.61,354.58 458.21,348.85 458.81,344.74 459.41,343 460.01,344.03 460.61,347.73 461.21,353.51 461.81,360.45 462.41,367.57 463.01,374.03 463.61,379.32 464.21,383.27 464.81,385.98 465.41,387.69 466.01,388.68 466.61,389.22 467.21,389.49 467.81,389.61 468.41,389.67 469.01,389.69 469.61,389.7 470.21,389.7 470.81,389.7 471.41,389.7 472.01,389.7 472.61,389.7 473.21,389.7 473.81,389.7 474.41,389.7 475.01,389.7 475.61,389.7 476.21,389.7 476.81,389.7 477.41,389.7 478.01,389.7 478.61,389.7 479.21,389.7 479.81,389.7 480.41,389.7 481.01,389.7 481.61,389.7 482.21,389.7 482.81,389.7 483.41,389.7 484.01,389.7 484.61,389.7 485.21,389.7 485.81,389.7 486.41,389.7 487.01,389.7 487.61,389.7 488.21,389.7 488.81,389.7 489.41,389.7 490.01,389.7 490.61,389.7 491.21,389.7 491.81,389.7 492.41,389.7 493.01,389.7 493.61,389.7 494.21,389.7 494.81,389.7 495.41,389.7 496.01,389.7" stroke="#1a1a1a" stroke-width="0.9" fill="none" stroke-linejoin="round"/>
<polyline points="470.5,389.7 471.1,389.7 471.7,389.7 472.3,389.69 472.9,389.67 473.5,389.62 474.1,389.5 474.7,389.25 475.3,388.73 475.9,387.76 476.5,386.07 477.1,383.38 477.7,379.41 478.3,374.04 478.9,367.44 479.5,360.14 480.1,353.04 480.7,347.21 481.3,343.7 481.9,343.18 482.5,345.74 483.1,350.9 483.7,357.7 484.3,365.05 484.9,371.96 485.5,377.77 486.1,382.21 486.7,385.3 487.3,387.29 487.9,388.47 488.5,389.11 489.1,389.44 489.7,389.59 490.3,389.66 490.9,389.68 491.5,389.69 492.1,389.7 492.7,389.7 493.3,389.7 493.9,389.7 494.5,389.7 495.1,389.7 495.7,389.7 496.3,389.7" stroke="#ff1010" stroke-width="0.9" fill="none" stroke-linejoin="round"/>
<line x1="446.41" y1="389.7" x2="496.71" y2="389.7" stroke="#333" stroke-width="0.5"/>
<line x1="124" y1="407.3" x2="132" y2="407.3" stroke="#222" stroke-width="1.1"/>
<text x="133.5" y="410.2" font-size="9.1" text-anchor="start" fill="#231f20" stroke="#231f20">Isotype</text>
<line x1="182.8" y1="407.3" x2="191.3" y2="407.3" stroke="#ff1a1a" stroke-width="1.1"/>
<text x="193.8" y="410.2" font-size="9.1" text-anchor="start" fill="#231f20" stroke="#231f20">anti-DKK1/anti-HLA-A2/anti-DKK1-A2 antibody</text>
<text x="568.3" y="201.8" font-size="9.1" text-anchor="middle" fill="#231f20" stroke="#231f20">JeKo-1</text>
<text x="638.8" y="201.8" font-size="9.1" text-anchor="middle" fill="#231f20" stroke="#231f20">Daudi</text>
<text x="566.5" y="288.7" font-size="9.1" text-anchor="middle" fill="#231f20" stroke="#231f20">U266</text>
<text x="639.8" y="288.7" font-size="9.1" text-anchor="middle" fill="#231f20" stroke="#231f20">CFPAC-1</text>
<rect x="534.2" y="208.1" width="65.1" height="65.3" fill="none" stroke="#8a8a8a" stroke-width="0.8"/>
<polygon points="534.16,257.34 546.42,257.34 549.16,256.68 550.8,256.24 552.45,254.82 553.54,253.18 554.64,249.89 555.73,247.15 557.37,243.32 558.47,241.13 559.56,237.85 560.44,237.63 561.75,236.75 562.85,236.53 564.16,234.02 565.59,231.5 566.68,232.37 567.78,233.25 568.87,231.83 569.96,230.4 571.39,232.37 572.7,234.56 574.34,236.75 575.99,240.04 577.3,241.68 578.72,243.32 580.37,243.87 582.01,244.42 583.65,246.61 584.75,249.89 585.84,253.18 586.94,255.91 588.03,257.01 589.67,257.34 599.31,257.34" stroke="none" stroke-width="0" fill="rgba(120,200,120,0.38)" stroke-linejoin="round"/>
<polygon points="534.16,240.91 546.42,240.91 549.71,239.82 552.99,234.56 556.28,228.54 559.02,221.42 560.66,220.33 561.75,218.36 562.52,219.02 563.4,220.33 564.49,220.88 565.59,221.97 566.68,221.64 567.78,221.42 569.42,226.9 570.51,229.31 571.61,230.73 573.25,231.83 574.89,234.02 576.53,234.34 578.18,235.11 579.82,236.21 581.46,237.85 582.56,237.3 583.65,237.63 584.75,238.94 585.84,240.04 587.48,240.69 589.13,240.91 599.31,240.91" stroke="none" stroke-width="0" fill="rgba(245,120,120,0.38)" stroke-linejoin="round"/>
<polygon points="534.16,273.43 557.37,273.1 562.85,272.67 566.13,272.01 569.42,271.24 572.7,270.91 574.89,270.15 576.53,269.05 578.18,266.32 579.27,262.48 580.37,257.56 581.46,250.99 582.56,245.51 583.32,245.29 583.87,246.06 584.75,250.99 585.29,255.37 586.06,263.03 586.94,269.6 587.81,272.34 588.58,273.1 599.31,273.43" stroke="none" stroke-width="0" fill="#bdbdbd" stroke-linejoin="round"/>
<polyline points="534.16,273.43 557.37,273.1 562.85,272.67 566.13,272.01 569.42,271.24 572.7,270.91 574.89,270.15 576.53,269.05 578.18,266.32 579.27,262.48 580.37,257.56 581.46,250.99 582.56,245.51 583.32,245.29 583.87,246.06 584.75,250.99 585.29,255.37 586.06,263.03 586.94,269.6 587.81,272.34 588.58,273.1 599.31,273.43" stroke="#111" stroke-width="1.0" fill="none" stroke-linejoin="round"/>
<polyline points="534.16,257.34 546.42,257.34 549.16,256.68 550.8,256.24 552.45,254.82 553.54,253.18 554.64,249.89 555.73,247.15 557.37,243.32 558.47,241.13 559.56,237.85 560.44,237.63 561.75,236.75 562.85,236.53 564.16,234.02 565.59,231.5 566.68,232.37 567.78,233.25 568.87,231.83 569.96,230.4 571.39,232.37 572.7,234.56 574.34,236.75 575.99,240.04 577.3,241.68 578.72,243.32 580.37,243.87 582.01,244.42 583.65,246.61 584.75,249.89 585.84,253.18 586.94,255.91 588.03,257.01 589.67,257.34 599.31,257.34" stroke="#22b022" stroke-width="1.0" fill="none" stroke-linejoin="round"/>
<polyline points="534.16,240.91 546.42,240.91 549.71,239.82 552.99,234.56 556.28,228.54 559.02,221.42 560.66,220.33 561.75,218.36 562.52,219.02 563.4,220.33 564.49,220.88 565.59,221.97 566.68,221.64 567.78,221.42 569.42,226.9 570.51,229.31 571.61,230.73 573.25,231.83 574.89,234.02 576.53,234.34 578.18,235.11 579.82,236.21 581.46,237.85 582.56,237.3 583.65,237.63 584.75,238.94 585.84,240.04 587.48,240.69 589.13,240.91 599.31,240.91" stroke="#ff2020" stroke-width="1.0" fill="none" stroke-linejoin="round"/>
<line x1="534.2" y1="273.4" x2="599.3" y2="273.4" stroke="#222" stroke-width="0.9"/>
<line x1="538.2" y1="273.4" x2="538.2" y2="275.2" stroke="#333" stroke-width="0.5"/>
<line x1="547.5" y1="273.4" x2="547.5" y2="275.2" stroke="#333" stroke-width="0.5"/>
<line x1="559.6" y1="273.4" x2="559.6" y2="275.2" stroke="#333" stroke-width="0.5"/>
<line x1="577.6" y1="273.4" x2="577.6" y2="275.2" stroke="#333" stroke-width="0.5"/>
<line x1="593.5" y1="273.4" x2="593.5" y2="275.2" stroke="#333" stroke-width="0.5"/>
<text x="539.9" y="278.6" font-size="3.2" text-anchor="middle" fill="#555" stroke="#555" style="stroke-width:0.05px">-10<tspan dy="-1" font-size="2.2">3</tspan></text>
<text x="549.7" y="278.6" font-size="3.2" text-anchor="middle" fill="#555" stroke="#555" style="stroke-width:0.05px">0</text>
<text x="561.8" y="278.6" font-size="3.2" text-anchor="middle" fill="#555" stroke="#555" style="stroke-width:0.05px">10<tspan dy="-1" font-size="2.2">3</tspan></text>
<text x="578.7" y="278.6" font-size="3.2" text-anchor="middle" fill="#555" stroke="#555" style="stroke-width:0.05px">10<tspan dy="-1" font-size="2.2">4</tspan></text>
<text x="594.6" y="278.6" font-size="3.2" text-anchor="middle" fill="#555" stroke="#555" style="stroke-width:0.05px">10<tspan dy="-1" font-size="2.2">5</tspan></text>
<rect x="607.4" y="208.1" width="65.3" height="65.3" fill="none" stroke="#8a8a8a" stroke-width="0.8"/>
<polygon points="607.38,257.34 621.61,257.34 623.26,256.9 624.9,255.91 626.21,253.72 627.64,250.99 629.28,247.7 630.92,244.96 632.34,242.78 633.66,241.13 634.75,237.85 635.85,236.21 636.94,234.56 638.26,233.25 639.68,231.83 641.1,231.06 642.42,230.73 643.29,232.92 644.06,237.3 644.83,235.11 645.7,233.47 646.8,235.11 647.89,237.3 648.99,238.72 650.08,240.04 651.18,241.35 652.27,242.23 653.15,239.82 653.91,239.49 655.01,240.26 655.89,239.16 656.65,238.4 657.2,240.59 657.75,243.32 658.62,247.7 659.39,250.99 660.16,254.27 661.03,256.46 662.67,257.34 672.75,257.34" stroke="none" stroke-width="0" fill="rgba(120,200,120,0.38)" stroke-linejoin="round"/>
<polygon points="607.38,240.91 627.09,240.91 630.37,240.59 633.66,240.26 636.94,239.82 640.23,239.49 643.51,238.94 646.8,238.4 648.99,237.85 650.63,236.97 651.72,235.66 652.6,232.92 653.37,229.09 654.24,223.61 655.01,218.14 655.89,213.21 656.65,211.02 657.2,211.35 657.75,212.66 658.29,215.95 658.84,221.42 659.72,229.09 660.48,235.66 661.25,238.94 662.13,240.26 664.32,240.91 672.75,240.91" stroke="none" stroke-width="0" fill="rgba(245,120,120,0.38)" stroke-linejoin="round"/>
<polygon points="607.38,273.43 635.85,273.1 641.32,272.89 646.8,272.34 650.08,271.24 651.72,269.6 652.82,267.41 653.91,263.03 655.01,255.37 655.89,248.8 656.65,245.73 657.42,245.73 658.08,248.25 658.84,254.27 659.61,263.03 660.48,269.6 661.25,272.34 662.13,273.1 672.75,273.43" stroke="none" stroke-width="0" fill="#bdbdbd" stroke-linejoin="round"/>
<polyline points="607.38,273.43 635.85,273.1 641.32,272.89 646.8,272.34 650.08,271.24 651.72,269.6 652.82,267.41 653.91,263.03 655.01,255.37 655.89,248.8 656.65,245.73 657.42,245.73 658.08,248.25 658.84,254.27 659.61,263.03 660.48,269.6 661.25,272.34 662.13,273.1 672.75,273.43" stroke="#111" stroke-width="1.0" fill="none" stroke-linejoin="round"/>
<polyline points="607.38,257.34 621.61,257.34 623.26,256.9 624.9,255.91 626.21,253.72 627.64,250.99 629.28,247.7 630.92,244.96 632.34,242.78 633.66,241.13 634.75,237.85 635.85,236.21 636.94,234.56 638.26,233.25 639.68,231.83 641.1,231.06 642.42,230.73 643.29,232.92 644.06,237.3 644.83,235.11 645.7,233.47 646.8,235.11 647.89,237.3 648.99,238.72 650.08,240.04 651.18,241.35 652.27,242.23 653.15,239.82 653.91,239.49 655.01,240.26 655.89,239.16 656.65,238.4 657.2,240.59 657.75,243.32 658.62,247.7 659.39,250.99 660.16,254.27 661.03,256.46 662.67,257.34 672.75,257.34" stroke="#22b022" stroke-width="1.0" fill="none" stroke-linejoin="round"/>
<polyline points="607.38,240.91 627.09,240.91 630.37,240.59 633.66,240.26 636.94,239.82 640.23,239.49 643.51,238.94 646.8,238.4 648.99,237.85 650.63,236.97 651.72,235.66 652.6,232.92 653.37,229.09 654.24,223.61 655.01,218.14 655.89,213.21 656.65,211.02 657.2,211.35 657.75,212.66 658.29,215.95 658.84,221.42 659.72,229.09 660.48,235.66 661.25,238.94 662.13,240.26 664.32,240.91 672.75,240.91" stroke="#ff2020" stroke-width="1.0" fill="none" stroke-linejoin="round"/>
<line x1="607.4" y1="273.4" x2="672.7" y2="273.4" stroke="#222" stroke-width="0.9"/>
<line x1="611.4" y1="273.4" x2="611.4" y2="275.2" stroke="#333" stroke-width="0.5"/>
<line x1="620.7" y1="273.4" x2="620.7" y2="275.2" stroke="#333" stroke-width="0.5"/>
<line x1="632.8" y1="273.4" x2="632.8" y2="275.2" stroke="#333" stroke-width="0.5"/>
<line x1="650.8" y1="273.4" x2="650.8" y2="275.2" stroke="#333" stroke-width="0.5"/>
<line x1="666.7" y1="273.4" x2="666.7" y2="275.2" stroke="#333" stroke-width="0.5"/>
<text x="613.1" y="278.6" font-size="3.2" text-anchor="middle" fill="#555" stroke="#555" style="stroke-width:0.05px">-10<tspan dy="-1" font-size="2.2">3</tspan></text>
<text x="622.9" y="278.6" font-size="3.2" text-anchor="middle" fill="#555" stroke="#555" style="stroke-width:0.05px">0</text>
<text x="635" y="278.6" font-size="3.2" text-anchor="middle" fill="#555" stroke="#555" style="stroke-width:0.05px">10<tspan dy="-1" font-size="2.2">3</tspan></text>
<text x="651.9" y="278.6" font-size="3.2" text-anchor="middle" fill="#555" stroke="#555" style="stroke-width:0.05px">10<tspan dy="-1" font-size="2.2">4</tspan></text>
<text x="667.8" y="278.6" font-size="3.2" text-anchor="middle" fill="#555" stroke="#555" style="stroke-width:0.05px">10<tspan dy="-1" font-size="2.2">5</tspan></text>
<rect x="534.2" y="292.4" width="65.1" height="65.3" fill="none" stroke="#8a8a8a" stroke-width="0.8"/>
<polygon points="534.16,341.65 549.71,341.65 551.35,341.1 552.99,340.56 554.64,339.9 556.28,339.46 557.92,339.24 559.56,339.24 561.21,339.13 562.85,338.91 565.04,338.37 567.23,337.82 569.42,337.05 571.61,336.18 573.25,335.3 574.34,333.99 575.77,331.25 577.08,328.51 578.18,325.78 578.94,323.04 579.6,318.66 580.37,313.73 580.91,314.28 581.46,315.92 582.34,319.21 583.1,323.04 583.87,327.42 584.75,331.8 585.62,336.18 586.39,339.46 587.48,341.65 599.31,341.65" stroke="none" stroke-width="0" fill="rgba(120,200,120,0.38)" stroke-linejoin="round"/>
<polygon points="534.16,325.45 548.61,325.45 549.71,325.01 550.8,324.13 552.12,321.94 553.54,319.75 554.31,317.02 555.18,315.37 556.83,313.4 557.92,310.99 558.69,308.26 559.56,307.71 560.66,307.16 561.75,305.74 562.85,304.42 563.94,304.42 564.82,304.75 565.59,305.74 566.13,306.61 567.23,307.16 568.32,307.71 569.2,309.9 569.96,310.99 570.73,311.21 571.61,312.09 572.48,313.73 573.25,315.37 574.02,317.02 574.89,318.66 575.99,319.53 577.08,319.75 578.18,319.21 578.72,318.66 579.82,319.53 580.91,320.85 582.34,321.72 583.65,322.49 584.97,323.59 586.39,324.68 588.03,325.45 599.31,325.45" stroke="none" stroke-width="0" fill="rgba(245,120,120,0.38)" stroke-linejoin="round"/>
<polygon points="534.16,357.75 562.85,357.53 567.23,356.98 569.42,356.65 571.61,356.1 573.25,355.67 574.89,355.01 576.21,353.91 577.08,352.6 578.18,350.19 579.27,347.13 580.37,341.65 581.46,336.18 582.34,332.34 582.78,331.25 583.43,332.34 584.2,335.08 584.97,341.65 585.84,349.32 586.72,354.79 587.48,356.98 589.13,357.75 599.31,357.75" stroke="none" stroke-width="0" fill="#bdbdbd" stroke-linejoin="round"/>
<polyline points="534.16,357.75 562.85,357.53 567.23,356.98 569.42,356.65 571.61,356.1 573.25,355.67 574.89,355.01 576.21,353.91 577.08,352.6 578.18,350.19 579.27,347.13 580.37,341.65 581.46,336.18 582.34,332.34 582.78,331.25 583.43,332.34 584.2,335.08 584.97,341.65 585.84,349.32 586.72,354.79 587.48,356.98 589.13,357.75 599.31,357.75" stroke="#111" stroke-width="1.0" fill="none" stroke-linejoin="round"/>
<polyline points="534.16,341.65 549.71,341.65 551.35,341.1 552.99,340.56 554.64,339.9 556.28,339.46 557.92,339.24 559.56,339.24 561.21,339.13 562.85,338.91 565.04,338.37 567.23,337.82 569.42,337.05 571.61,336.18 573.25,335.3 574.34,333.99 575.77,331.25 577.08,328.51 578.18,325.78 578.94,323.04 579.6,318.66 580.37,313.73 580.91,314.28 581.46,315.92 582.34,319.21 583.1,323.04 583.87,327.42 584.75,331.8 585.62,336.18 586.39,339.46 587.48,341.65 599.31,341.65" stroke="#22b022" stroke-width="1.0" fill="none" stroke-linejoin="round"/>
<polyline points="534.16,325.45 548.61,325.45 549.71,325.01 550.8,324.13 552.12,321.94 553.54,319.75 554.31,317.02 555.18,315.37 556.83,313.4 557.92,310.99 558.69,308.26 559.56,307.71 560.66,307.16 561.75,305.74 562.85,304.42 563.94,304.42 564.82,304.75 565.59,305.74 566.13,306.61 567.23,307.16 568.32,307.71 569.2,309.9 569.96,310.99 570.73,311.21 571.61,312.09 572.48,313.73 573.25,315.37 574.02,317.02 574.89,318.66 575.99,319.53 577.08,319.75 578.18,319.21 578.72,318.66 579.82,319.53 580.91,320.85 582.34,321.72 583.65,322.49 584.97,323.59 586.39,324.68 588.03,325.45 599.31,325.45" stroke="#ff2020" stroke-width="1.0" fill="none" stroke-linejoin="round"/>
<line x1="534.2" y1="357.7" x2="599.3" y2="357.7" stroke="#222" stroke-width="0.9"/>
<line x1="538.2" y1="357.7" x2="538.2" y2="359.5" stroke="#333" stroke-width="0.5"/>
<line x1="547.5" y1="357.7" x2="547.5" y2="359.5" stroke="#333" stroke-width="0.5"/>
<line x1="559.6" y1="357.7" x2="559.6" y2="359.5" stroke="#333" stroke-width="0.5"/>
<line x1="577.6" y1="357.7" x2="577.6" y2="359.5" stroke="#333" stroke-width="0.5"/>
<line x1="593.5" y1="357.7" x2="593.5" y2="359.5" stroke="#333" stroke-width="0.5"/>
<text x="539.9" y="362.9" font-size="3.2" text-anchor="middle" fill="#555" stroke="#555" style="stroke-width:0.05px">-10<tspan dy="-1" font-size="2.2">3</tspan></text>
<text x="549.7" y="362.9" font-size="3.2" text-anchor="middle" fill="#555" stroke="#555" style="stroke-width:0.05px">0</text>
<text x="561.8" y="362.9" font-size="3.2" text-anchor="middle" fill="#555" stroke="#555" style="stroke-width:0.05px">10<tspan dy="-1" font-size="2.2">3</tspan></text>
<text x="578.7" y="362.9" font-size="3.2" text-anchor="middle" fill="#555" stroke="#555" style="stroke-width:0.05px">10<tspan dy="-1" font-size="2.2">4</tspan></text>
<text x="594.6" y="362.9" font-size="3.2" text-anchor="middle" fill="#555" stroke="#555" style="stroke-width:0.05px">10<tspan dy="-1" font-size="2.2">5</tspan></text>
<rect x="607.4" y="292.4" width="65.3" height="65.3" fill="none" stroke="#8a8a8a" stroke-width="0.8"/>
<polygon points="607.38,341.65 624.9,341.43 627.09,340.99 629.28,340.34 631.47,339.79 633.66,339.46 635.85,339.13 638.04,338.91 640.23,338.59 642.42,338.15 643.73,337.05 644.61,336.18 646.25,335.63 647.89,335.08 649.21,333.44 650.08,331.8 650.96,329.61 651.72,327.42 652.6,324.13 653.37,320.85 653.91,317.02 654.46,314.28 655.12,313.51 655.56,313.73 656.1,315.37 656.65,317.56 657.42,322.49 658.29,327.42 659.06,332.34 659.94,337.27 660.81,340.34 661.58,341.65 672.75,341.65" stroke="none" stroke-width="0" fill="rgba(120,200,120,0.38)" stroke-linejoin="round"/>
<polygon points="607.38,325.45 620.52,325.45 622.16,325.01 623.8,324.13 624.9,322.16 626.54,318.66 627.96,315.37 629.28,312.09 630.59,309.35 632.02,306.07 633.11,304.97 634.21,304.2 634.97,302.45 635.85,300.92 636.72,298.95 637.49,298.4 638.26,300.04 639.13,302.23 639.9,304.42 640.78,304.97 641.54,305.74 642.42,307.16 643.29,309.02 644.06,310.99 645.15,313.18 646.25,315.37 647.56,317.56 648.99,319.75 650.3,320.85 651.72,321.94 653.15,322.6 654.46,323.26 656.1,324.13 657.75,324.68 659.39,325.23 661.03,325.45 672.75,325.45" stroke="none" stroke-width="0" fill="rgba(245,120,120,0.38)" stroke-linejoin="round"/>
<polygon points="607.38,357.75 635.85,357.2 639.13,356.98 641.32,356.76 644.06,356.21 646.8,355.67 648.11,355.01 648.99,354.24 650.08,352.6 651.18,350.41 652.27,345.48 653.37,340.56 654.24,336.18 655.01,332.89 655.78,329.83 656.32,329.39 656.98,330.7 657.75,335.08 658.62,342.75 659.39,350.41 659.94,355.34 660.81,357.2 661.58,357.75 672.75,357.75" stroke="none" stroke-width="0" fill="#bdbdbd" stroke-linejoin="round"/>
<polyline points="607.38,357.75 635.85,357.2 639.13,356.98 641.32,356.76 644.06,356.21 646.8,355.67 648.11,355.01 648.99,354.24 650.08,352.6 651.18,350.41 652.27,345.48 653.37,340.56 654.24,336.18 655.01,332.89 655.78,329.83 656.32,329.39 656.98,330.7 657.75,335.08 658.62,342.75 659.39,350.41 659.94,355.34 660.81,357.2 661.58,357.75 672.75,357.75" stroke="#111" stroke-width="1.0" fill="none" stroke-linejoin="round"/>
<polyline points="607.38,341.65 624.9,341.43 627.09,340.99 629.28,340.34 631.47,339.79 633.66,339.46 635.85,339.13 638.04,338.91 640.23,338.59 642.42,338.15 643.73,337.05 644.61,336.18 646.25,335.63 647.89,335.08 649.21,333.44 650.08,331.8 650.96,329.61 651.72,327.42 652.6,324.13 653.37,320.85 653.91,317.02 654.46,314.28 655.12,313.51 655.56,313.73 656.1,315.37 656.65,317.56 657.42,322.49 658.29,327.42 659.06,332.34 659.94,337.27 660.81,340.34 661.58,341.65 672.75,341.65" stroke="#22b022" stroke-width="1.0" fill="none" stroke-linejoin="round"/>
<polyline points="607.38,325.45 620.52,325.45 622.16,325.01 623.8,324.13 624.9,322.16 626.54,318.66 627.96,315.37 629.28,312.09 630.59,309.35 632.02,306.07 633.11,304.97 634.21,304.2 634.97,302.45 635.85,300.92 636.72,298.95 637.49,298.4 638.26,300.04 639.13,302.23 639.9,304.42 640.78,304.97 641.54,305.74 642.42,307.16 643.29,309.02 644.06,310.99 645.15,313.18 646.25,315.37 647.56,317.56 648.99,319.75 650.3,320.85 651.72,321.94 653.15,322.6 654.46,323.26 656.1,324.13 657.75,324.68 659.39,325.23 661.03,325.45 672.75,325.45" stroke="#ff2020" stroke-width="1.0" fill="none" stroke-linejoin="round"/>
<line x1="607.4" y1="357.7" x2="672.7" y2="357.7" stroke="#222" stroke-width="0.9"/>
<line x1="611.4" y1="357.7" x2="611.4" y2="359.5" stroke="#333" stroke-width="0.5"/>
<line x1="620.7" y1="357.7" x2="620.7" y2="359.5" stroke="#333" stroke-width="0.5"/>
<line x1="632.8" y1="357.7" x2="632.8" y2="359.5" stroke="#333" stroke-width="0.5"/>
<line x1="650.8" y1="357.7" x2="650.8" y2="359.5" stroke="#333" stroke-width="0.5"/>
<line x1="666.7" y1="357.7" x2="666.7" y2="359.5" stroke="#333" stroke-width="0.5"/>
<text x="613.1" y="362.9" font-size="3.2" text-anchor="middle" fill="#555" stroke="#555" style="stroke-width:0.05px">-10<tspan dy="-1" font-size="2.2">3</tspan></text>
<text x="622.9" y="362.9" font-size="3.2" text-anchor="middle" fill="#555" stroke="#555" style="stroke-width:0.05px">0</text>
<text x="635" y="362.9" font-size="3.2" text-anchor="middle" fill="#555" stroke="#555" style="stroke-width:0.05px">10<tspan dy="-1" font-size="2.2">3</tspan></text>
<text x="651.9" y="362.9" font-size="3.2" text-anchor="middle" fill="#555" stroke="#555" style="stroke-width:0.05px">10<tspan dy="-1" font-size="2.2">4</tspan></text>
<text x="667.8" y="362.9" font-size="3.2" text-anchor="middle" fill="#555" stroke="#555" style="stroke-width:0.05px">10<tspan dy="-1" font-size="2.2">5</tspan></text>
<line x1="539.4" y1="368.5" x2="592" y2="368.5" stroke="#333" stroke-width="1.1"/>
<path d="M591,365.8 L598.5,368.5 L591,371.2 Z" fill="#333"/>
<text x="605.8" y="371.6" font-size="9.1" text-anchor="start" fill="#231f20" stroke="#231f20">Celltrace Violet</text>
<line x1="566.7" y1="381.2" x2="575.1" y2="381.2" stroke="#111" stroke-width="1.2"/>
<text x="579.5" y="384.4" font-size="9.1" text-anchor="start" fill="#231f20" stroke="#231f20">Ctrl</text>
<line x1="566.7" y1="390.9" x2="575.1" y2="390.9" stroke="#1fa463" stroke-width="1.2"/>
<text x="579.5" y="394.1" font-size="9.1" text-anchor="start" fill="#231f20" stroke="#231f20">CD19 CAR-T</text>
<line x1="566.7" y1="400.6" x2="575.1" y2="400.6" stroke="#ff2020" stroke-width="1.2"/>
<text x="579.5" y="403.8" font-size="9.1" text-anchor="start" fill="#231f20" stroke="#231f20">mC2 CAR-T</text>
<text x="71.9" y="457.2" font-size="9.1" text-anchor="middle" fill="#231f20" stroke="#231f20">JeKo-1-Luc</text>
<line x1="41.3" y1="463.2" x2="41.3" y2="523.7" stroke="#1a1a1a" stroke-width="1"/>
<line x1="38.9" y1="523.2" x2="101.9" y2="523.2" stroke="#1a1a1a" stroke-width="1"/>
<line x1="38.9" y1="523.2" x2="41.3" y2="523.2" stroke="#1a1a1a" stroke-width="1"/>
<text x="38.1" y="526.4" font-size="8.8" text-anchor="end" fill="#231f20" stroke="#231f20">0</text>
<line x1="38.9" y1="508.23" x2="41.3" y2="508.23" stroke="#1a1a1a" stroke-width="1"/>
<text x="38.1" y="511.43" font-size="8.8" text-anchor="end" fill="#231f20" stroke="#231f20">25</text>
<line x1="38.9" y1="493.25" x2="41.3" y2="493.25" stroke="#1a1a1a" stroke-width="1"/>
<text x="38.1" y="496.45" font-size="8.8" text-anchor="end" fill="#231f20" stroke="#231f20">50</text>
<line x1="38.9" y1="478.28" x2="41.3" y2="478.28" stroke="#1a1a1a" stroke-width="1"/>
<text x="38.1" y="481.48" font-size="8.8" text-anchor="end" fill="#231f20" stroke="#231f20">75</text>
<line x1="38.9" y1="463.3" x2="41.3" y2="463.3" stroke="#1a1a1a" stroke-width="1"/>
<text x="38.1" y="466.5" font-size="8.8" text-anchor="end" fill="#231f20" stroke="#231f20">100</text>
<text transform="translate(21.7,497.4) rotate(-90)" font-size="9.2" text-anchor="middle" fill="#231f20" stroke="#231f20">Cytotoxicity (%)</text>
<line x1="47.7" y1="523.2" x2="47.7" y2="525.6" stroke="#1a1a1a" stroke-width="1"/>
<text transform="translate(52.5,532.1) rotate(-45)" font-size="8.7" text-anchor="end" fill="#231f20" stroke="#231f20">1.25:1</text>
<line x1="59.7" y1="523.2" x2="59.7" y2="525.6" stroke="#1a1a1a" stroke-width="1"/>
<text transform="translate(64.5,532.1) rotate(-45)" font-size="8.7" text-anchor="end" fill="#231f20" stroke="#231f20">2.5:1</text>
<line x1="71.7" y1="523.2" x2="71.7" y2="525.6" stroke="#1a1a1a" stroke-width="1"/>
<text transform="translate(76.5,532.1) rotate(-45)" font-size="8.7" text-anchor="end" fill="#231f20" stroke="#231f20">5:1</text>
<line x1="83.7" y1="523.2" x2="83.7" y2="525.6" stroke="#1a1a1a" stroke-width="1"/>
<text transform="translate(88.5,532.1) rotate(-45)" font-size="8.7" text-anchor="end" fill="#231f20" stroke="#231f20">10:1</text>
<line x1="95.7" y1="523.2" x2="95.7" y2="525.6" stroke="#1a1a1a" stroke-width="1"/>
<text transform="translate(100.5,532.1) rotate(-45)" font-size="8.7" text-anchor="end" fill="#231f20" stroke="#231f20">20:1</text>
<polyline points="47.7,520.21 59.7,523.5 71.7,521.1 83.7,520.8 95.7,519.31" stroke="#1a1a1a" stroke-width="1.1" fill="none" stroke-linejoin="round"/>
<line x1="47.7" y1="517.21" x2="47.7" y2="523.2" stroke="#1a1a1a" stroke-width="0.9"/>
<line x1="45.9" y1="517.21" x2="49.5" y2="517.21" stroke="#1a1a1a" stroke-width="1.0"/>
<line x1="45.9" y1="523.2" x2="49.5" y2="523.2" stroke="#1a1a1a" stroke-width="1.0"/>
<rect x="46.75" y="519.25" width="1.9" height="1.9" fill="#1a1a1a"/>
<line x1="59.7" y1="522.9" x2="59.7" y2="524.1" stroke="#1a1a1a" stroke-width="0.9"/>
<line x1="57.9" y1="522.9" x2="61.5" y2="522.9" stroke="#1a1a1a" stroke-width="1.0"/>
<line x1="57.9" y1="524.1" x2="61.5" y2="524.1" stroke="#1a1a1a" stroke-width="1.0"/>
<rect x="58.75" y="522.55" width="1.9" height="1.9" fill="#1a1a1a"/>
<line x1="71.7" y1="519.91" x2="71.7" y2="522.3" stroke="#1a1a1a" stroke-width="0.9"/>
<line x1="69.9" y1="519.91" x2="73.5" y2="519.91" stroke="#1a1a1a" stroke-width="1.0"/>
<line x1="69.9" y1="522.3" x2="73.5" y2="522.3" stroke="#1a1a1a" stroke-width="1.0"/>
<rect x="70.75" y="520.15" width="1.9" height="1.9" fill="#1a1a1a"/>
<line x1="83.7" y1="519.61" x2="83.7" y2="522" stroke="#1a1a1a" stroke-width="0.9"/>
<line x1="81.9" y1="519.61" x2="85.5" y2="519.61" stroke="#1a1a1a" stroke-width="1.0"/>
<line x1="81.9" y1="522" x2="85.5" y2="522" stroke="#1a1a1a" stroke-width="1.0"/>
<rect x="82.75" y="519.85" width="1.9" height="1.9" fill="#1a1a1a"/>
<line x1="95.7" y1="518.11" x2="95.7" y2="520.5" stroke="#1a1a1a" stroke-width="0.9"/>
<line x1="93.9" y1="518.11" x2="97.5" y2="518.11" stroke="#1a1a1a" stroke-width="1.0"/>
<line x1="93.9" y1="520.5" x2="97.5" y2="520.5" stroke="#1a1a1a" stroke-width="1.0"/>
<rect x="94.75" y="518.36" width="1.9" height="1.9" fill="#1a1a1a"/>
<polyline points="47.7,520.21 59.7,518.41 71.7,508.23 83.7,498.94 95.7,485.76" stroke="#1b9463" stroke-width="1.1" fill="none" stroke-linejoin="round"/>
<line x1="47.7" y1="519.61" x2="47.7" y2="520.8" stroke="#1b9463" stroke-width="0.9"/>
<line x1="45.9" y1="519.61" x2="49.5" y2="519.61" stroke="#1b9463" stroke-width="1.0"/>
<line x1="45.9" y1="520.8" x2="49.5" y2="520.8" stroke="#1b9463" stroke-width="1.0"/>
<rect x="46.75" y="519.25" width="1.9" height="1.9" fill="#1b9463"/>
<line x1="59.7" y1="517.21" x2="59.7" y2="519.61" stroke="#1b9463" stroke-width="0.9"/>
<line x1="57.9" y1="517.21" x2="61.5" y2="517.21" stroke="#1b9463" stroke-width="1.0"/>
<line x1="57.9" y1="519.61" x2="61.5" y2="519.61" stroke="#1b9463" stroke-width="1.0"/>
<rect x="58.75" y="517.46" width="1.9" height="1.9" fill="#1b9463"/>
<line x1="71.7" y1="507.03" x2="71.7" y2="509.42" stroke="#1b9463" stroke-width="0.9"/>
<line x1="69.9" y1="507.03" x2="73.5" y2="507.03" stroke="#1b9463" stroke-width="1.0"/>
<line x1="69.9" y1="509.42" x2="73.5" y2="509.42" stroke="#1b9463" stroke-width="1.0"/>
<rect x="70.75" y="507.28" width="1.9" height="1.9" fill="#1b9463"/>
<line x1="83.7" y1="497.74" x2="83.7" y2="500.14" stroke="#1b9463" stroke-width="0.9"/>
<line x1="81.9" y1="497.74" x2="85.5" y2="497.74" stroke="#1b9463" stroke-width="1.0"/>
<line x1="81.9" y1="500.14" x2="85.5" y2="500.14" stroke="#1b9463" stroke-width="1.0"/>
<rect x="82.75" y="497.99" width="1.9" height="1.9" fill="#1b9463"/>
<line x1="95.7" y1="482.17" x2="95.7" y2="489.36" stroke="#1b9463" stroke-width="0.9"/>
<line x1="93.9" y1="482.17" x2="97.5" y2="482.17" stroke="#1b9463" stroke-width="1.0"/>
<line x1="93.9" y1="489.36" x2="97.5" y2="489.36" stroke="#1b9463" stroke-width="1.0"/>
<rect x="94.75" y="484.81" width="1.9" height="1.9" fill="#1b9463"/>
<polyline points="47.7,520.8 59.7,515.71 71.7,502.24 83.7,485.76 95.7,474.38" stroke="#ff3218" stroke-width="1.1" fill="none" stroke-linejoin="round"/>
<line x1="47.7" y1="520.21" x2="47.7" y2="521.4" stroke="#ff3218" stroke-width="0.9"/>
<line x1="45.9" y1="520.21" x2="49.5" y2="520.21" stroke="#ff3218" stroke-width="1.0"/>
<line x1="45.9" y1="521.4" x2="49.5" y2="521.4" stroke="#ff3218" stroke-width="1.0"/>
<rect x="46.75" y="519.85" width="1.9" height="1.9" fill="#ff3218"/>
<line x1="59.7" y1="514.81" x2="59.7" y2="516.61" stroke="#ff3218" stroke-width="0.9"/>
<line x1="57.9" y1="514.81" x2="61.5" y2="514.81" stroke="#ff3218" stroke-width="1.0"/>
<line x1="57.9" y1="516.61" x2="61.5" y2="516.61" stroke="#ff3218" stroke-width="1.0"/>
<rect x="58.75" y="514.76" width="1.9" height="1.9" fill="#ff3218"/>
<line x1="71.7" y1="501.04" x2="71.7" y2="503.43" stroke="#ff3218" stroke-width="0.9"/>
<line x1="69.9" y1="501.04" x2="73.5" y2="501.04" stroke="#ff3218" stroke-width="1.0"/>
<line x1="69.9" y1="503.43" x2="73.5" y2="503.43" stroke="#ff3218" stroke-width="1.0"/>
<rect x="70.75" y="501.29" width="1.9" height="1.9" fill="#ff3218"/>
<line x1="83.7" y1="485.16" x2="83.7" y2="486.36" stroke="#ff3218" stroke-width="0.9"/>
<line x1="81.9" y1="485.16" x2="85.5" y2="485.16" stroke="#ff3218" stroke-width="1.0"/>
<line x1="81.9" y1="486.36" x2="85.5" y2="486.36" stroke="#ff3218" stroke-width="1.0"/>
<rect x="82.75" y="484.81" width="1.9" height="1.9" fill="#ff3218"/>
<line x1="95.7" y1="472.88" x2="95.7" y2="475.88" stroke="#ff3218" stroke-width="0.9"/>
<line x1="93.9" y1="472.88" x2="97.5" y2="472.88" stroke="#ff3218" stroke-width="1.0"/>
<line x1="93.9" y1="475.88" x2="97.5" y2="475.88" stroke="#ff3218" stroke-width="1.0"/>
<rect x="94.75" y="473.43" width="1.9" height="1.9" fill="#ff3218"/>
<text x="166.6" y="457.2" font-size="9.1" text-anchor="middle" fill="#231f20" stroke="#231f20">Daudi-Luc</text>
<line x1="137.3" y1="463.2" x2="137.3" y2="523.7" stroke="#1a1a1a" stroke-width="1"/>
<line x1="134.9" y1="523.2" x2="197.9" y2="523.2" stroke="#1a1a1a" stroke-width="1"/>
<line x1="134.9" y1="523.2" x2="137.3" y2="523.2" stroke="#1a1a1a" stroke-width="1"/>
<text x="134.1" y="526.4" font-size="8.8" text-anchor="end" fill="#231f20" stroke="#231f20">0</text>
<line x1="134.9" y1="508.23" x2="137.3" y2="508.23" stroke="#1a1a1a" stroke-width="1"/>
<text x="134.1" y="511.43" font-size="8.8" text-anchor="end" fill="#231f20" stroke="#231f20">25</text>
<line x1="134.9" y1="493.25" x2="137.3" y2="493.25" stroke="#1a1a1a" stroke-width="1"/>
<text x="134.1" y="496.45" font-size="8.8" text-anchor="end" fill="#231f20" stroke="#231f20">50</text>
<line x1="134.9" y1="478.28" x2="137.3" y2="478.28" stroke="#1a1a1a" stroke-width="1"/>
<text x="134.1" y="481.48" font-size="8.8" text-anchor="end" fill="#231f20" stroke="#231f20">75</text>
<line x1="134.9" y1="463.3" x2="137.3" y2="463.3" stroke="#1a1a1a" stroke-width="1"/>
<text x="134.1" y="466.5" font-size="8.8" text-anchor="end" fill="#231f20" stroke="#231f20">100</text>
<text transform="translate(117.7,497.4) rotate(-90)" font-size="9.2" text-anchor="middle" fill="#231f20" stroke="#231f20">Cytotoxicity (%)</text>
<line x1="143.7" y1="523.2" x2="143.7" y2="525.6" stroke="#1a1a1a" stroke-width="1"/>
<text transform="translate(148.5,532.1) rotate(-45)" font-size="8.7" text-anchor="end" fill="#231f20" stroke="#231f20">1.25:1</text>
<line x1="155.7" y1="523.2" x2="155.7" y2="525.6" stroke="#1a1a1a" stroke-width="1"/>
<text transform="translate(160.5,532.1) rotate(-45)" font-size="8.7" text-anchor="end" fill="#231f20" stroke="#231f20">2.5:1</text>
<line x1="167.7" y1="523.2" x2="167.7" y2="525.6" stroke="#1a1a1a" stroke-width="1"/>
<text transform="translate(172.5,532.1) rotate(-45)" font-size="8.7" text-anchor="end" fill="#231f20" stroke="#231f20">5:1</text>
<line x1="179.7" y1="523.2" x2="179.7" y2="525.6" stroke="#1a1a1a" stroke-width="1"/>
<text transform="translate(184.5,532.1) rotate(-45)" font-size="8.7" text-anchor="end" fill="#231f20" stroke="#231f20">10:1</text>
<line x1="191.7" y1="523.2" x2="191.7" y2="525.6" stroke="#1a1a1a" stroke-width="1"/>
<text transform="translate(196.5,532.1) rotate(-45)" font-size="8.7" text-anchor="end" fill="#231f20" stroke="#231f20">20:1</text>
<polyline points="143.7,517.81 155.7,522 167.7,520.21 179.7,519.01 191.7,521.4" stroke="#1a1a1a" stroke-width="1.1" fill="none" stroke-linejoin="round"/>
<line x1="143.7" y1="516.61" x2="143.7" y2="519.01" stroke="#1a1a1a" stroke-width="0.9"/>
<line x1="141.9" y1="516.61" x2="145.5" y2="516.61" stroke="#1a1a1a" stroke-width="1.0"/>
<line x1="141.9" y1="519.01" x2="145.5" y2="519.01" stroke="#1a1a1a" stroke-width="1.0"/>
<rect x="142.75" y="516.86" width="1.9" height="1.9" fill="#1a1a1a"/>
<line x1="155.7" y1="521.4" x2="155.7" y2="522.6" stroke="#1a1a1a" stroke-width="0.9"/>
<line x1="153.9" y1="521.4" x2="157.5" y2="521.4" stroke="#1a1a1a" stroke-width="1.0"/>
<line x1="153.9" y1="522.6" x2="157.5" y2="522.6" stroke="#1a1a1a" stroke-width="1.0"/>
<rect x="154.75" y="521.05" width="1.9" height="1.9" fill="#1a1a1a"/>
<line x1="167.7" y1="518.41" x2="167.7" y2="522" stroke="#1a1a1a" stroke-width="0.9"/>
<line x1="165.9" y1="518.41" x2="169.5" y2="518.41" stroke="#1a1a1a" stroke-width="1.0"/>
<line x1="165.9" y1="522" x2="169.5" y2="522" stroke="#1a1a1a" stroke-width="1.0"/>
<rect x="166.75" y="519.25" width="1.9" height="1.9" fill="#1a1a1a"/>
<line x1="179.7" y1="517.21" x2="179.7" y2="520.8" stroke="#1a1a1a" stroke-width="0.9"/>
<line x1="177.9" y1="517.21" x2="181.5" y2="517.21" stroke="#1a1a1a" stroke-width="1.0"/>
<line x1="177.9" y1="520.8" x2="181.5" y2="520.8" stroke="#1a1a1a" stroke-width="1.0"/>
<rect x="178.75" y="518.06" width="1.9" height="1.9" fill="#1a1a1a"/>
<line x1="191.7" y1="520.21" x2="191.7" y2="522.6" stroke="#1a1a1a" stroke-width="0.9"/>
<line x1="189.9" y1="520.21" x2="193.5" y2="520.21" stroke="#1a1a1a" stroke-width="1.0"/>
<line x1="189.9" y1="522.6" x2="193.5" y2="522.6" stroke="#1a1a1a" stroke-width="1.0"/>
<rect x="190.75" y="520.45" width="1.9" height="1.9" fill="#1a1a1a"/>
<polyline points="143.7,514.22 155.7,507.03 167.7,501.04 179.7,492.05 191.7,480.97" stroke="#1b9463" stroke-width="1.1" fill="none" stroke-linejoin="round"/>
<line x1="143.7" y1="513.02" x2="143.7" y2="515.41" stroke="#1b9463" stroke-width="0.9"/>
<line x1="141.9" y1="513.02" x2="145.5" y2="513.02" stroke="#1b9463" stroke-width="1.0"/>
<line x1="141.9" y1="515.41" x2="145.5" y2="515.41" stroke="#1b9463" stroke-width="1.0"/>
<rect x="142.75" y="513.26" width="1.9" height="1.9" fill="#1b9463"/>
<line x1="155.7" y1="506.43" x2="155.7" y2="507.63" stroke="#1b9463" stroke-width="0.9"/>
<line x1="153.9" y1="506.43" x2="157.5" y2="506.43" stroke="#1b9463" stroke-width="1.0"/>
<line x1="153.9" y1="507.63" x2="157.5" y2="507.63" stroke="#1b9463" stroke-width="1.0"/>
<rect x="154.75" y="506.08" width="1.9" height="1.9" fill="#1b9463"/>
<line x1="167.7" y1="500.44" x2="167.7" y2="501.64" stroke="#1b9463" stroke-width="0.9"/>
<line x1="165.9" y1="500.44" x2="169.5" y2="500.44" stroke="#1b9463" stroke-width="1.0"/>
<line x1="165.9" y1="501.64" x2="169.5" y2="501.64" stroke="#1b9463" stroke-width="1.0"/>
<rect x="166.75" y="500.09" width="1.9" height="1.9" fill="#1b9463"/>
<line x1="179.7" y1="490.85" x2="179.7" y2="493.25" stroke="#1b9463" stroke-width="0.9"/>
<line x1="177.9" y1="490.85" x2="181.5" y2="490.85" stroke="#1b9463" stroke-width="1.0"/>
<line x1="177.9" y1="493.25" x2="181.5" y2="493.25" stroke="#1b9463" stroke-width="1.0"/>
<rect x="178.75" y="491.1" width="1.9" height="1.9" fill="#1b9463"/>
<line x1="191.7" y1="479.17" x2="191.7" y2="482.77" stroke="#1b9463" stroke-width="0.9"/>
<line x1="189.9" y1="479.17" x2="193.5" y2="479.17" stroke="#1b9463" stroke-width="1.0"/>
<line x1="189.9" y1="482.77" x2="193.5" y2="482.77" stroke="#1b9463" stroke-width="1.0"/>
<rect x="190.75" y="480.02" width="1.9" height="1.9" fill="#1b9463"/>
<polyline points="143.7,520.21 155.7,517.21 167.7,518.41 179.7,517.21 191.7,516.91" stroke="#ff3218" stroke-width="1.1" fill="none" stroke-linejoin="round"/>
<line x1="143.7" y1="518.41" x2="143.7" y2="522" stroke="#ff3218" stroke-width="0.9"/>
<line x1="141.9" y1="518.41" x2="145.5" y2="518.41" stroke="#ff3218" stroke-width="1.0"/>
<line x1="141.9" y1="522" x2="145.5" y2="522" stroke="#ff3218" stroke-width="1.0"/>
<rect x="142.75" y="519.25" width="1.9" height="1.9" fill="#ff3218"/>
<line x1="155.7" y1="516.01" x2="155.7" y2="518.41" stroke="#ff3218" stroke-width="0.9"/>
<line x1="153.9" y1="516.01" x2="157.5" y2="516.01" stroke="#ff3218" stroke-width="1.0"/>
<line x1="153.9" y1="518.41" x2="157.5" y2="518.41" stroke="#ff3218" stroke-width="1.0"/>
<rect x="154.75" y="516.26" width="1.9" height="1.9" fill="#ff3218"/>
<line x1="167.7" y1="517.21" x2="167.7" y2="519.61" stroke="#ff3218" stroke-width="0.9"/>
<line x1="165.9" y1="517.21" x2="169.5" y2="517.21" stroke="#ff3218" stroke-width="1.0"/>
<line x1="165.9" y1="519.61" x2="169.5" y2="519.61" stroke="#ff3218" stroke-width="1.0"/>
<rect x="166.75" y="517.46" width="1.9" height="1.9" fill="#ff3218"/>
<line x1="179.7" y1="516.01" x2="179.7" y2="518.41" stroke="#ff3218" stroke-width="0.9"/>
<line x1="177.9" y1="516.01" x2="181.5" y2="516.01" stroke="#ff3218" stroke-width="1.0"/>
<line x1="177.9" y1="518.41" x2="181.5" y2="518.41" stroke="#ff3218" stroke-width="1.0"/>
<rect x="178.75" y="516.26" width="1.9" height="1.9" fill="#ff3218"/>
<line x1="191.7" y1="516.31" x2="191.7" y2="517.51" stroke="#ff3218" stroke-width="0.9"/>
<line x1="189.9" y1="516.31" x2="193.5" y2="516.31" stroke="#ff3218" stroke-width="1.0"/>
<line x1="189.9" y1="517.51" x2="193.5" y2="517.51" stroke="#ff3218" stroke-width="1.0"/>
<rect x="190.75" y="515.96" width="1.9" height="1.9" fill="#ff3218"/>
<text x="262.5" y="457.2" font-size="9.1" text-anchor="middle" fill="#231f20" stroke="#231f20">U266-Luc</text>
<line x1="233.3" y1="463.2" x2="233.3" y2="523.7" stroke="#1a1a1a" stroke-width="1"/>
<line x1="230.9" y1="523.2" x2="293.9" y2="523.2" stroke="#1a1a1a" stroke-width="1"/>
<line x1="230.9" y1="523.2" x2="233.3" y2="523.2" stroke="#1a1a1a" stroke-width="1"/>
<text x="230.1" y="526.4" font-size="8.8" text-anchor="end" fill="#231f20" stroke="#231f20">0</text>
<line x1="230.9" y1="508.23" x2="233.3" y2="508.23" stroke="#1a1a1a" stroke-width="1"/>
<text x="230.1" y="511.43" font-size="8.8" text-anchor="end" fill="#231f20" stroke="#231f20">25</text>
<line x1="230.9" y1="493.25" x2="233.3" y2="493.25" stroke="#1a1a1a" stroke-width="1"/>
<text x="230.1" y="496.45" font-size="8.8" text-anchor="end" fill="#231f20" stroke="#231f20">50</text>
<line x1="230.9" y1="478.28" x2="233.3" y2="478.28" stroke="#1a1a1a" stroke-width="1"/>
<text x="230.1" y="481.48" font-size="8.8" text-anchor="end" fill="#231f20" stroke="#231f20">75</text>
<line x1="230.9" y1="463.3" x2="233.3" y2="463.3" stroke="#1a1a1a" stroke-width="1"/>
<text x="230.1" y="466.5" font-size="8.8" text-anchor="end" fill="#231f20" stroke="#231f20">100</text>
<text transform="translate(213.7,497.4) rotate(-90)" font-size="9.2" text-anchor="middle" fill="#231f20" stroke="#231f20">Cytotoxicity (%)</text>
<line x1="239.7" y1="523.2" x2="239.7" y2="525.6" stroke="#1a1a1a" stroke-width="1"/>
<text transform="translate(244.5,532.1) rotate(-45)" font-size="8.7" text-anchor="end" fill="#231f20" stroke="#231f20">1.25:1</text>
<line x1="251.7" y1="523.2" x2="251.7" y2="525.6" stroke="#1a1a1a" stroke-width="1"/>
<text transform="translate(256.5,532.1) rotate(-45)" font-size="8.7" text-anchor="end" fill="#231f20" stroke="#231f20">2.5:1</text>
<line x1="263.7" y1="523.2" x2="263.7" y2="525.6" stroke="#1a1a1a" stroke-width="1"/>
<text transform="translate(268.5,532.1) rotate(-45)" font-size="8.7" text-anchor="end" fill="#231f20" stroke="#231f20">5:1</text>
<line x1="275.7" y1="523.2" x2="275.7" y2="525.6" stroke="#1a1a1a" stroke-width="1"/>
<text transform="translate(280.5,532.1) rotate(-45)" font-size="8.7" text-anchor="end" fill="#231f20" stroke="#231f20">10:1</text>
<line x1="287.7" y1="523.2" x2="287.7" y2="525.6" stroke="#1a1a1a" stroke-width="1"/>
<text transform="translate(292.5,532.1) rotate(-45)" font-size="8.7" text-anchor="end" fill="#231f20" stroke="#231f20">20:1</text>
<polyline points="239.7,519.01 251.7,517.21 263.7,519.01 275.7,517.21 287.7,516.01" stroke="#1a1a1a" stroke-width="1.1" fill="none" stroke-linejoin="round"/>
<line x1="239.7" y1="517.21" x2="239.7" y2="520.8" stroke="#1a1a1a" stroke-width="0.9"/>
<line x1="237.9" y1="517.21" x2="241.5" y2="517.21" stroke="#1a1a1a" stroke-width="1.0"/>
<line x1="237.9" y1="520.8" x2="241.5" y2="520.8" stroke="#1a1a1a" stroke-width="1.0"/>
<rect x="238.75" y="518.06" width="1.9" height="1.9" fill="#1a1a1a"/>
<line x1="251.7" y1="516.61" x2="251.7" y2="517.81" stroke="#1a1a1a" stroke-width="0.9"/>
<line x1="249.9" y1="516.61" x2="253.5" y2="516.61" stroke="#1a1a1a" stroke-width="1.0"/>
<line x1="249.9" y1="517.81" x2="253.5" y2="517.81" stroke="#1a1a1a" stroke-width="1.0"/>
<rect x="250.75" y="516.26" width="1.9" height="1.9" fill="#1a1a1a"/>
<line x1="263.7" y1="517.21" x2="263.7" y2="520.8" stroke="#1a1a1a" stroke-width="0.9"/>
<line x1="261.9" y1="517.21" x2="265.5" y2="517.21" stroke="#1a1a1a" stroke-width="1.0"/>
<line x1="261.9" y1="520.8" x2="265.5" y2="520.8" stroke="#1a1a1a" stroke-width="1.0"/>
<rect x="262.75" y="518.06" width="1.9" height="1.9" fill="#1a1a1a"/>
<line x1="275.7" y1="516.61" x2="275.7" y2="517.81" stroke="#1a1a1a" stroke-width="0.9"/>
<line x1="273.9" y1="516.61" x2="277.5" y2="516.61" stroke="#1a1a1a" stroke-width="1.0"/>
<line x1="273.9" y1="517.81" x2="277.5" y2="517.81" stroke="#1a1a1a" stroke-width="1.0"/>
<rect x="274.75" y="516.26" width="1.9" height="1.9" fill="#1a1a1a"/>
<line x1="287.7" y1="514.81" x2="287.7" y2="517.21" stroke="#1a1a1a" stroke-width="0.9"/>
<line x1="285.9" y1="514.81" x2="289.5" y2="514.81" stroke="#1a1a1a" stroke-width="1.0"/>
<line x1="285.9" y1="517.21" x2="289.5" y2="517.21" stroke="#1a1a1a" stroke-width="1.0"/>
<rect x="286.75" y="515.06" width="1.9" height="1.9" fill="#1a1a1a"/>
<polyline points="239.7,516.01 251.7,516.61 263.7,516.61 275.7,518.41 287.7,516.01" stroke="#1b9463" stroke-width="1.1" fill="none" stroke-linejoin="round"/>
<line x1="239.7" y1="515.41" x2="239.7" y2="516.61" stroke="#1b9463" stroke-width="0.9"/>
<line x1="237.9" y1="515.41" x2="241.5" y2="515.41" stroke="#1b9463" stroke-width="1.0"/>
<line x1="237.9" y1="516.61" x2="241.5" y2="516.61" stroke="#1b9463" stroke-width="1.0"/>
<rect x="238.75" y="515.06" width="1.9" height="1.9" fill="#1b9463"/>
<line x1="251.7" y1="516.01" x2="251.7" y2="517.21" stroke="#1b9463" stroke-width="0.9"/>
<line x1="249.9" y1="516.01" x2="253.5" y2="516.01" stroke="#1b9463" stroke-width="1.0"/>
<line x1="249.9" y1="517.21" x2="253.5" y2="517.21" stroke="#1b9463" stroke-width="1.0"/>
<rect x="250.75" y="515.66" width="1.9" height="1.9" fill="#1b9463"/>
<line x1="263.7" y1="516.01" x2="263.7" y2="517.21" stroke="#1b9463" stroke-width="0.9"/>
<line x1="261.9" y1="516.01" x2="265.5" y2="516.01" stroke="#1b9463" stroke-width="1.0"/>
<line x1="261.9" y1="517.21" x2="265.5" y2="517.21" stroke="#1b9463" stroke-width="1.0"/>
<rect x="262.75" y="515.66" width="1.9" height="1.9" fill="#1b9463"/>
<line x1="275.7" y1="517.81" x2="275.7" y2="519.01" stroke="#1b9463" stroke-width="0.9"/>
<line x1="273.9" y1="517.81" x2="277.5" y2="517.81" stroke="#1b9463" stroke-width="1.0"/>
<line x1="273.9" y1="519.01" x2="277.5" y2="519.01" stroke="#1b9463" stroke-width="1.0"/>
<rect x="274.75" y="517.46" width="1.9" height="1.9" fill="#1b9463"/>
<line x1="287.7" y1="515.41" x2="287.7" y2="516.61" stroke="#1b9463" stroke-width="0.9"/>
<line x1="285.9" y1="515.41" x2="289.5" y2="515.41" stroke="#1b9463" stroke-width="1.0"/>
<line x1="285.9" y1="516.61" x2="289.5" y2="516.61" stroke="#1b9463" stroke-width="1.0"/>
<rect x="286.75" y="515.06" width="1.9" height="1.9" fill="#1b9463"/>
<polyline points="239.7,517.21 251.7,511.22 263.7,497.44 275.7,488.16 287.7,480.67" stroke="#ff3218" stroke-width="1.1" fill="none" stroke-linejoin="round"/>
<line x1="239.7" y1="516.61" x2="239.7" y2="517.81" stroke="#ff3218" stroke-width="0.9"/>
<line x1="237.9" y1="516.61" x2="241.5" y2="516.61" stroke="#ff3218" stroke-width="1.0"/>
<line x1="237.9" y1="517.81" x2="241.5" y2="517.81" stroke="#ff3218" stroke-width="1.0"/>
<rect x="238.75" y="516.26" width="1.9" height="1.9" fill="#ff3218"/>
<line x1="251.7" y1="509.42" x2="251.7" y2="513.02" stroke="#ff3218" stroke-width="0.9"/>
<line x1="249.9" y1="509.42" x2="253.5" y2="509.42" stroke="#ff3218" stroke-width="1.0"/>
<line x1="249.9" y1="513.02" x2="253.5" y2="513.02" stroke="#ff3218" stroke-width="1.0"/>
<rect x="250.75" y="510.27" width="1.9" height="1.9" fill="#ff3218"/>
<line x1="263.7" y1="496.25" x2="263.7" y2="498.64" stroke="#ff3218" stroke-width="0.9"/>
<line x1="261.9" y1="496.25" x2="265.5" y2="496.25" stroke="#ff3218" stroke-width="1.0"/>
<line x1="261.9" y1="498.64" x2="265.5" y2="498.64" stroke="#ff3218" stroke-width="1.0"/>
<rect x="262.75" y="496.49" width="1.9" height="1.9" fill="#ff3218"/>
<line x1="275.7" y1="486.96" x2="275.7" y2="489.36" stroke="#ff3218" stroke-width="0.9"/>
<line x1="273.9" y1="486.96" x2="277.5" y2="486.96" stroke="#ff3218" stroke-width="1.0"/>
<line x1="273.9" y1="489.36" x2="277.5" y2="489.36" stroke="#ff3218" stroke-width="1.0"/>
<rect x="274.75" y="487.21" width="1.9" height="1.9" fill="#ff3218"/>
<line x1="287.7" y1="478.87" x2="287.7" y2="482.47" stroke="#ff3218" stroke-width="0.9"/>
<line x1="285.9" y1="478.87" x2="289.5" y2="478.87" stroke="#ff3218" stroke-width="1.0"/>
<line x1="285.9" y1="482.47" x2="289.5" y2="482.47" stroke="#ff3218" stroke-width="1.0"/>
<rect x="286.75" y="479.72" width="1.9" height="1.9" fill="#ff3218"/>
<text x="357.8" y="457.2" font-size="9.1" text-anchor="middle" fill="#231f20" stroke="#231f20">KMS-26-Luc</text>
<line x1="329.3" y1="463.2" x2="329.3" y2="523.7" stroke="#1a1a1a" stroke-width="1"/>
<line x1="326.9" y1="523.2" x2="389.9" y2="523.2" stroke="#1a1a1a" stroke-width="1"/>
<line x1="326.9" y1="523.2" x2="329.3" y2="523.2" stroke="#1a1a1a" stroke-width="1"/>
<text x="326.1" y="526.4" font-size="8.8" text-anchor="end" fill="#231f20" stroke="#231f20">0</text>
<line x1="326.9" y1="508.23" x2="329.3" y2="508.23" stroke="#1a1a1a" stroke-width="1"/>
<text x="326.1" y="511.43" font-size="8.8" text-anchor="end" fill="#231f20" stroke="#231f20">25</text>
<line x1="326.9" y1="493.25" x2="329.3" y2="493.25" stroke="#1a1a1a" stroke-width="1"/>
<text x="326.1" y="496.45" font-size="8.8" text-anchor="end" fill="#231f20" stroke="#231f20">50</text>
<line x1="326.9" y1="478.28" x2="329.3" y2="478.28" stroke="#1a1a1a" stroke-width="1"/>
<text x="326.1" y="481.48" font-size="8.8" text-anchor="end" fill="#231f20" stroke="#231f20">75</text>
<line x1="326.9" y1="463.3" x2="329.3" y2="463.3" stroke="#1a1a1a" stroke-width="1"/>
<text x="326.1" y="466.5" font-size="8.8" text-anchor="end" fill="#231f20" stroke="#231f20">100</text>
<text transform="translate(309.7,497.4) rotate(-90)" font-size="9.2" text-anchor="middle" fill="#231f20" stroke="#231f20">Cytotoxicity (%)</text>
<line x1="335.7" y1="523.2" x2="335.7" y2="525.6" stroke="#1a1a1a" stroke-width="1"/>
<text transform="translate(340.5,532.1) rotate(-45)" font-size="8.7" text-anchor="end" fill="#231f20" stroke="#231f20">1.25:1</text>
<line x1="347.7" y1="523.2" x2="347.7" y2="525.6" stroke="#1a1a1a" stroke-width="1"/>
<text transform="translate(352.5,532.1) rotate(-45)" font-size="8.7" text-anchor="end" fill="#231f20" stroke="#231f20">2.5:1</text>
<line x1="359.7" y1="523.2" x2="359.7" y2="525.6" stroke="#1a1a1a" stroke-width="1"/>
<text transform="translate(364.5,532.1) rotate(-45)" font-size="8.7" text-anchor="end" fill="#231f20" stroke="#231f20">5:1</text>
<line x1="371.7" y1="523.2" x2="371.7" y2="525.6" stroke="#1a1a1a" stroke-width="1"/>
<text transform="translate(376.5,532.1) rotate(-45)" font-size="8.7" text-anchor="end" fill="#231f20" stroke="#231f20">10:1</text>
<line x1="383.7" y1="523.2" x2="383.7" y2="525.6" stroke="#1a1a1a" stroke-width="1"/>
<text transform="translate(388.5,532.1) rotate(-45)" font-size="8.7" text-anchor="end" fill="#231f20" stroke="#231f20">20:1</text>
<polyline points="335.7,521.4 347.7,522 359.7,519.01 371.7,520.21 383.7,517.81" stroke="#1a1a1a" stroke-width="1.1" fill="none" stroke-linejoin="round"/>
<line x1="335.7" y1="520.21" x2="335.7" y2="522.6" stroke="#1a1a1a" stroke-width="0.9"/>
<line x1="333.9" y1="520.21" x2="337.5" y2="520.21" stroke="#1a1a1a" stroke-width="1.0"/>
<line x1="333.9" y1="522.6" x2="337.5" y2="522.6" stroke="#1a1a1a" stroke-width="1.0"/>
<rect x="334.75" y="520.45" width="1.9" height="1.9" fill="#1a1a1a"/>
<line x1="347.7" y1="520.8" x2="347.7" y2="523.2" stroke="#1a1a1a" stroke-width="0.9"/>
<line x1="345.9" y1="520.8" x2="349.5" y2="520.8" stroke="#1a1a1a" stroke-width="1.0"/>
<line x1="345.9" y1="523.2" x2="349.5" y2="523.2" stroke="#1a1a1a" stroke-width="1.0"/>
<rect x="346.75" y="521.05" width="1.9" height="1.9" fill="#1a1a1a"/>
<line x1="359.7" y1="517.81" x2="359.7" y2="520.21" stroke="#1a1a1a" stroke-width="0.9"/>
<line x1="357.9" y1="517.81" x2="361.5" y2="517.81" stroke="#1a1a1a" stroke-width="1.0"/>
<line x1="357.9" y1="520.21" x2="361.5" y2="520.21" stroke="#1a1a1a" stroke-width="1.0"/>
<rect x="358.75" y="518.06" width="1.9" height="1.9" fill="#1a1a1a"/>
<line x1="371.7" y1="519.01" x2="371.7" y2="521.4" stroke="#1a1a1a" stroke-width="0.9"/>
<line x1="369.9" y1="519.01" x2="373.5" y2="519.01" stroke="#1a1a1a" stroke-width="1.0"/>
<line x1="369.9" y1="521.4" x2="373.5" y2="521.4" stroke="#1a1a1a" stroke-width="1.0"/>
<rect x="370.75" y="519.25" width="1.9" height="1.9" fill="#1a1a1a"/>
<line x1="383.7" y1="516.61" x2="383.7" y2="519.01" stroke="#1a1a1a" stroke-width="0.9"/>
<line x1="381.9" y1="516.61" x2="385.5" y2="516.61" stroke="#1a1a1a" stroke-width="1.0"/>
<line x1="381.9" y1="519.01" x2="385.5" y2="519.01" stroke="#1a1a1a" stroke-width="1.0"/>
<rect x="382.75" y="516.86" width="1.9" height="1.9" fill="#1a1a1a"/>
<polyline points="335.7,517.21 347.7,518.41 359.7,518.41 371.7,519.01 383.7,516.01" stroke="#1b9463" stroke-width="1.1" fill="none" stroke-linejoin="round"/>
<line x1="335.7" y1="516.61" x2="335.7" y2="517.81" stroke="#1b9463" stroke-width="0.9"/>
<line x1="333.9" y1="516.61" x2="337.5" y2="516.61" stroke="#1b9463" stroke-width="1.0"/>
<line x1="333.9" y1="517.81" x2="337.5" y2="517.81" stroke="#1b9463" stroke-width="1.0"/>
<rect x="334.75" y="516.26" width="1.9" height="1.9" fill="#1b9463"/>
<line x1="347.7" y1="517.81" x2="347.7" y2="519.01" stroke="#1b9463" stroke-width="0.9"/>
<line x1="345.9" y1="517.81" x2="349.5" y2="517.81" stroke="#1b9463" stroke-width="1.0"/>
<line x1="345.9" y1="519.01" x2="349.5" y2="519.01" stroke="#1b9463" stroke-width="1.0"/>
<rect x="346.75" y="517.46" width="1.9" height="1.9" fill="#1b9463"/>
<line x1="359.7" y1="516.61" x2="359.7" y2="520.21" stroke="#1b9463" stroke-width="0.9"/>
<line x1="357.9" y1="516.61" x2="361.5" y2="516.61" stroke="#1b9463" stroke-width="1.0"/>
<line x1="357.9" y1="520.21" x2="361.5" y2="520.21" stroke="#1b9463" stroke-width="1.0"/>
<rect x="358.75" y="517.46" width="1.9" height="1.9" fill="#1b9463"/>
<line x1="371.7" y1="518.41" x2="371.7" y2="519.61" stroke="#1b9463" stroke-width="0.9"/>
<line x1="369.9" y1="518.41" x2="373.5" y2="518.41" stroke="#1b9463" stroke-width="1.0"/>
<line x1="369.9" y1="519.61" x2="373.5" y2="519.61" stroke="#1b9463" stroke-width="1.0"/>
<rect x="370.75" y="518.06" width="1.9" height="1.9" fill="#1b9463"/>
<line x1="383.7" y1="515.41" x2="383.7" y2="516.61" stroke="#1b9463" stroke-width="0.9"/>
<line x1="381.9" y1="515.41" x2="385.5" y2="515.41" stroke="#1b9463" stroke-width="1.0"/>
<line x1="381.9" y1="516.61" x2="385.5" y2="516.61" stroke="#1b9463" stroke-width="1.0"/>
<rect x="382.75" y="515.06" width="1.9" height="1.9" fill="#1b9463"/>
<polyline points="335.7,510.02 347.7,495.65 359.7,489.06 371.7,480.67 383.7,475.28" stroke="#ff3218" stroke-width="1.1" fill="none" stroke-linejoin="round"/>
<line x1="335.7" y1="509.42" x2="335.7" y2="510.62" stroke="#ff3218" stroke-width="0.9"/>
<line x1="333.9" y1="509.42" x2="337.5" y2="509.42" stroke="#ff3218" stroke-width="1.0"/>
<line x1="333.9" y1="510.62" x2="337.5" y2="510.62" stroke="#ff3218" stroke-width="1.0"/>
<rect x="334.75" y="509.07" width="1.9" height="1.9" fill="#ff3218"/>
<line x1="347.7" y1="495.05" x2="347.7" y2="496.25" stroke="#ff3218" stroke-width="0.9"/>
<line x1="345.9" y1="495.05" x2="349.5" y2="495.05" stroke="#ff3218" stroke-width="1.0"/>
<line x1="345.9" y1="496.25" x2="349.5" y2="496.25" stroke="#ff3218" stroke-width="1.0"/>
<rect x="346.75" y="494.7" width="1.9" height="1.9" fill="#ff3218"/>
<line x1="359.7" y1="488.46" x2="359.7" y2="489.66" stroke="#ff3218" stroke-width="0.9"/>
<line x1="357.9" y1="488.46" x2="361.5" y2="488.46" stroke="#ff3218" stroke-width="1.0"/>
<line x1="357.9" y1="489.66" x2="361.5" y2="489.66" stroke="#ff3218" stroke-width="1.0"/>
<rect x="358.75" y="488.11" width="1.9" height="1.9" fill="#ff3218"/>
<line x1="371.7" y1="479.47" x2="371.7" y2="481.87" stroke="#ff3218" stroke-width="0.9"/>
<line x1="369.9" y1="479.47" x2="373.5" y2="479.47" stroke="#ff3218" stroke-width="1.0"/>
<line x1="369.9" y1="481.87" x2="373.5" y2="481.87" stroke="#ff3218" stroke-width="1.0"/>
<rect x="370.75" y="479.72" width="1.9" height="1.9" fill="#ff3218"/>
<line x1="383.7" y1="474.68" x2="383.7" y2="475.88" stroke="#ff3218" stroke-width="0.9"/>
<line x1="381.9" y1="474.68" x2="385.5" y2="474.68" stroke="#ff3218" stroke-width="1.0"/>
<line x1="381.9" y1="475.88" x2="385.5" y2="475.88" stroke="#ff3218" stroke-width="1.0"/>
<rect x="382.75" y="474.33" width="1.9" height="1.9" fill="#ff3218"/>
<text x="73.4" y="574.7" font-size="9.1" text-anchor="middle" fill="#231f20" stroke="#231f20">CFPAC-1-Luc</text>
<line x1="41.3" y1="581.4" x2="41.3" y2="641.9" stroke="#1a1a1a" stroke-width="1"/>
<line x1="38.9" y1="641.4" x2="101.9" y2="641.4" stroke="#1a1a1a" stroke-width="1"/>
<line x1="38.9" y1="641.4" x2="41.3" y2="641.4" stroke="#1a1a1a" stroke-width="1"/>
<text x="38.1" y="644.6" font-size="8.8" text-anchor="end" fill="#231f20" stroke="#231f20">0</text>
<line x1="38.9" y1="626.42" x2="41.3" y2="626.42" stroke="#1a1a1a" stroke-width="1"/>
<text x="38.1" y="629.62" font-size="8.8" text-anchor="end" fill="#231f20" stroke="#231f20">25</text>
<line x1="38.9" y1="611.45" x2="41.3" y2="611.45" stroke="#1a1a1a" stroke-width="1"/>
<text x="38.1" y="614.65" font-size="8.8" text-anchor="end" fill="#231f20" stroke="#231f20">50</text>
<line x1="38.9" y1="596.48" x2="41.3" y2="596.48" stroke="#1a1a1a" stroke-width="1"/>
<text x="38.1" y="599.68" font-size="8.8" text-anchor="end" fill="#231f20" stroke="#231f20">75</text>
<line x1="38.9" y1="581.5" x2="41.3" y2="581.5" stroke="#1a1a1a" stroke-width="1"/>
<text x="38.1" y="584.7" font-size="8.8" text-anchor="end" fill="#231f20" stroke="#231f20">100</text>
<text transform="translate(21.7,615.6) rotate(-90)" font-size="9.2" text-anchor="middle" fill="#231f20" stroke="#231f20">Cytotoxicity (%)</text>
<line x1="47.7" y1="641.4" x2="47.7" y2="643.8" stroke="#1a1a1a" stroke-width="1"/>
<text transform="translate(52.5,650.3) rotate(-45)" font-size="8.7" text-anchor="end" fill="#231f20" stroke="#231f20">1.25:1</text>
<line x1="59.7" y1="641.4" x2="59.7" y2="643.8" stroke="#1a1a1a" stroke-width="1"/>
<text transform="translate(64.5,650.3) rotate(-45)" font-size="8.7" text-anchor="end" fill="#231f20" stroke="#231f20">2.5:1</text>
<line x1="71.7" y1="641.4" x2="71.7" y2="643.8" stroke="#1a1a1a" stroke-width="1"/>
<text transform="translate(76.5,650.3) rotate(-45)" font-size="8.7" text-anchor="end" fill="#231f20" stroke="#231f20">5:1</text>
<line x1="83.7" y1="641.4" x2="83.7" y2="643.8" stroke="#1a1a1a" stroke-width="1"/>
<text transform="translate(88.5,650.3) rotate(-45)" font-size="8.7" text-anchor="end" fill="#231f20" stroke="#231f20">10:1</text>
<line x1="95.7" y1="641.4" x2="95.7" y2="643.8" stroke="#1a1a1a" stroke-width="1"/>
<text transform="translate(100.5,650.3) rotate(-45)" font-size="8.7" text-anchor="end" fill="#231f20" stroke="#231f20">20:1</text>
<polyline points="47.7,633.61 59.7,631.82 71.7,630.02 83.7,634.21 95.7,635.41" stroke="#1a1a1a" stroke-width="1.1" fill="none" stroke-linejoin="round"/>
<line x1="47.7" y1="631.82" x2="47.7" y2="635.41" stroke="#1a1a1a" stroke-width="0.9"/>
<line x1="45.9" y1="631.82" x2="49.5" y2="631.82" stroke="#1a1a1a" stroke-width="1.0"/>
<line x1="45.9" y1="635.41" x2="49.5" y2="635.41" stroke="#1a1a1a" stroke-width="1.0"/>
<rect x="46.75" y="632.66" width="1.9" height="1.9" fill="#1a1a1a"/>
<line x1="59.7" y1="630.62" x2="59.7" y2="633.01" stroke="#1a1a1a" stroke-width="0.9"/>
<line x1="57.9" y1="630.62" x2="61.5" y2="630.62" stroke="#1a1a1a" stroke-width="1.0"/>
<line x1="57.9" y1="633.01" x2="61.5" y2="633.01" stroke="#1a1a1a" stroke-width="1.0"/>
<rect x="58.75" y="630.87" width="1.9" height="1.9" fill="#1a1a1a"/>
<line x1="71.7" y1="629.42" x2="71.7" y2="630.62" stroke="#1a1a1a" stroke-width="0.9"/>
<line x1="69.9" y1="629.42" x2="73.5" y2="629.42" stroke="#1a1a1a" stroke-width="1.0"/>
<line x1="69.9" y1="630.62" x2="73.5" y2="630.62" stroke="#1a1a1a" stroke-width="1.0"/>
<rect x="70.75" y="629.07" width="1.9" height="1.9" fill="#1a1a1a"/>
<line x1="83.7" y1="632.41" x2="83.7" y2="636.01" stroke="#1a1a1a" stroke-width="0.9"/>
<line x1="81.9" y1="632.41" x2="85.5" y2="632.41" stroke="#1a1a1a" stroke-width="1.0"/>
<line x1="81.9" y1="636.01" x2="85.5" y2="636.01" stroke="#1a1a1a" stroke-width="1.0"/>
<rect x="82.75" y="633.26" width="1.9" height="1.9" fill="#1a1a1a"/>
<line x1="95.7" y1="633.01" x2="95.7" y2="637.81" stroke="#1a1a1a" stroke-width="0.9"/>
<line x1="93.9" y1="633.01" x2="97.5" y2="633.01" stroke="#1a1a1a" stroke-width="1.0"/>
<line x1="93.9" y1="637.81" x2="97.5" y2="637.81" stroke="#1a1a1a" stroke-width="1.0"/>
<rect x="94.75" y="634.46" width="1.9" height="1.9" fill="#1a1a1a"/>
<polyline points="47.7,631.22 59.7,633.61 71.7,632.41 83.7,631.82 95.7,633.61" stroke="#1b9463" stroke-width="1.1" fill="none" stroke-linejoin="round"/>
<line x1="47.7" y1="628.82" x2="47.7" y2="633.61" stroke="#1b9463" stroke-width="0.9"/>
<line x1="45.9" y1="628.82" x2="49.5" y2="628.82" stroke="#1b9463" stroke-width="1.0"/>
<line x1="45.9" y1="633.61" x2="49.5" y2="633.61" stroke="#1b9463" stroke-width="1.0"/>
<rect x="46.75" y="630.27" width="1.9" height="1.9" fill="#1b9463"/>
<line x1="59.7" y1="632.41" x2="59.7" y2="634.81" stroke="#1b9463" stroke-width="0.9"/>
<line x1="57.9" y1="632.41" x2="61.5" y2="632.41" stroke="#1b9463" stroke-width="1.0"/>
<line x1="57.9" y1="634.81" x2="61.5" y2="634.81" stroke="#1b9463" stroke-width="1.0"/>
<rect x="58.75" y="632.66" width="1.9" height="1.9" fill="#1b9463"/>
<line x1="71.7" y1="630.02" x2="71.7" y2="634.81" stroke="#1b9463" stroke-width="0.9"/>
<line x1="69.9" y1="630.02" x2="73.5" y2="630.02" stroke="#1b9463" stroke-width="1.0"/>
<line x1="69.9" y1="634.81" x2="73.5" y2="634.81" stroke="#1b9463" stroke-width="1.0"/>
<rect x="70.75" y="631.46" width="1.9" height="1.9" fill="#1b9463"/>
<line x1="83.7" y1="629.42" x2="83.7" y2="634.21" stroke="#1b9463" stroke-width="0.9"/>
<line x1="81.9" y1="629.42" x2="85.5" y2="629.42" stroke="#1b9463" stroke-width="1.0"/>
<line x1="81.9" y1="634.21" x2="85.5" y2="634.21" stroke="#1b9463" stroke-width="1.0"/>
<rect x="82.75" y="630.87" width="1.9" height="1.9" fill="#1b9463"/>
<line x1="95.7" y1="632.41" x2="95.7" y2="634.81" stroke="#1b9463" stroke-width="0.9"/>
<line x1="93.9" y1="632.41" x2="97.5" y2="632.41" stroke="#1b9463" stroke-width="1.0"/>
<line x1="93.9" y1="634.81" x2="97.5" y2="634.81" stroke="#1b9463" stroke-width="1.0"/>
<rect x="94.75" y="632.66" width="1.9" height="1.9" fill="#1b9463"/>
<polyline points="47.7,625.53 59.7,616.84 71.7,610.85 83.7,603.06 95.7,594.08" stroke="#ff3218" stroke-width="1.1" fill="none" stroke-linejoin="round"/>
<line x1="47.7" y1="624.93" x2="47.7" y2="626.13" stroke="#ff3218" stroke-width="0.9"/>
<line x1="45.9" y1="624.93" x2="49.5" y2="624.93" stroke="#ff3218" stroke-width="1.0"/>
<line x1="45.9" y1="626.13" x2="49.5" y2="626.13" stroke="#ff3218" stroke-width="1.0"/>
<rect x="46.75" y="624.58" width="1.9" height="1.9" fill="#ff3218"/>
<line x1="59.7" y1="615.64" x2="59.7" y2="618.04" stroke="#ff3218" stroke-width="0.9"/>
<line x1="57.9" y1="615.64" x2="61.5" y2="615.64" stroke="#ff3218" stroke-width="1.0"/>
<line x1="57.9" y1="618.04" x2="61.5" y2="618.04" stroke="#ff3218" stroke-width="1.0"/>
<rect x="58.75" y="615.89" width="1.9" height="1.9" fill="#ff3218"/>
<line x1="71.7" y1="609.65" x2="71.7" y2="612.05" stroke="#ff3218" stroke-width="0.9"/>
<line x1="69.9" y1="609.65" x2="73.5" y2="609.65" stroke="#ff3218" stroke-width="1.0"/>
<line x1="69.9" y1="612.05" x2="73.5" y2="612.05" stroke="#ff3218" stroke-width="1.0"/>
<rect x="70.75" y="609.9" width="1.9" height="1.9" fill="#ff3218"/>
<line x1="83.7" y1="602.46" x2="83.7" y2="603.66" stroke="#ff3218" stroke-width="0.9"/>
<line x1="81.9" y1="602.46" x2="85.5" y2="602.46" stroke="#ff3218" stroke-width="1.0"/>
<line x1="81.9" y1="603.66" x2="85.5" y2="603.66" stroke="#ff3218" stroke-width="1.0"/>
<rect x="82.75" y="602.11" width="1.9" height="1.9" fill="#ff3218"/>
<line x1="95.7" y1="592.28" x2="95.7" y2="595.88" stroke="#ff3218" stroke-width="0.9"/>
<line x1="93.9" y1="592.28" x2="97.5" y2="592.28" stroke="#ff3218" stroke-width="1.0"/>
<line x1="93.9" y1="595.88" x2="97.5" y2="595.88" stroke="#ff3218" stroke-width="1.0"/>
<rect x="94.75" y="593.13" width="1.9" height="1.9" fill="#ff3218"/>
<text x="167.7" y="574.7" font-size="9.1" text-anchor="middle" fill="#231f20" stroke="#231f20">PANC-1-Luc</text>
<line x1="137.3" y1="581.4" x2="137.3" y2="641.9" stroke="#1a1a1a" stroke-width="1"/>
<line x1="134.9" y1="641.4" x2="197.9" y2="641.4" stroke="#1a1a1a" stroke-width="1"/>
<line x1="134.9" y1="641.4" x2="137.3" y2="641.4" stroke="#1a1a1a" stroke-width="1"/>
<text x="134.1" y="644.6" font-size="8.8" text-anchor="end" fill="#231f20" stroke="#231f20">0</text>
<line x1="134.9" y1="626.42" x2="137.3" y2="626.42" stroke="#1a1a1a" stroke-width="1"/>
<text x="134.1" y="629.62" font-size="8.8" text-anchor="end" fill="#231f20" stroke="#231f20">25</text>
<line x1="134.9" y1="611.45" x2="137.3" y2="611.45" stroke="#1a1a1a" stroke-width="1"/>
<text x="134.1" y="614.65" font-size="8.8" text-anchor="end" fill="#231f20" stroke="#231f20">50</text>
<line x1="134.9" y1="596.48" x2="137.3" y2="596.48" stroke="#1a1a1a" stroke-width="1"/>
<text x="134.1" y="599.68" font-size="8.8" text-anchor="end" fill="#231f20" stroke="#231f20">75</text>
<line x1="134.9" y1="581.5" x2="137.3" y2="581.5" stroke="#1a1a1a" stroke-width="1"/>
<text x="134.1" y="584.7" font-size="8.8" text-anchor="end" fill="#231f20" stroke="#231f20">100</text>
<text transform="translate(117.7,615.6) rotate(-90)" font-size="9.2" text-anchor="middle" fill="#231f20" stroke="#231f20">Cytotoxicity (%)</text>
<line x1="143.7" y1="641.4" x2="143.7" y2="643.8" stroke="#1a1a1a" stroke-width="1"/>
<text transform="translate(148.5,650.3) rotate(-45)" font-size="8.7" text-anchor="end" fill="#231f20" stroke="#231f20">1.25:1</text>
<line x1="155.7" y1="641.4" x2="155.7" y2="643.8" stroke="#1a1a1a" stroke-width="1"/>
<text transform="translate(160.5,650.3) rotate(-45)" font-size="8.7" text-anchor="end" fill="#231f20" stroke="#231f20">2.5:1</text>
<line x1="167.7" y1="641.4" x2="167.7" y2="643.8" stroke="#1a1a1a" stroke-width="1"/>
<text transform="translate(172.5,650.3) rotate(-45)" font-size="8.7" text-anchor="end" fill="#231f20" stroke="#231f20">5:1</text>
<line x1="179.7" y1="641.4" x2="179.7" y2="643.8" stroke="#1a1a1a" stroke-width="1"/>
<text transform="translate(184.5,650.3) rotate(-45)" font-size="8.7" text-anchor="end" fill="#231f20" stroke="#231f20">10:1</text>
<line x1="191.7" y1="641.4" x2="191.7" y2="643.8" stroke="#1a1a1a" stroke-width="1"/>
<text transform="translate(196.5,650.3) rotate(-45)" font-size="8.7" text-anchor="end" fill="#231f20" stroke="#231f20">20:1</text>
<polyline points="143.7,638.4 155.7,640.8 167.7,635.41 179.7,639.6 191.7,640.2" stroke="#1a1a1a" stroke-width="1.1" fill="none" stroke-linejoin="round"/>
<line x1="143.7" y1="637.81" x2="143.7" y2="639" stroke="#1a1a1a" stroke-width="0.9"/>
<line x1="141.9" y1="637.81" x2="145.5" y2="637.81" stroke="#1a1a1a" stroke-width="1.0"/>
<line x1="141.9" y1="639" x2="145.5" y2="639" stroke="#1a1a1a" stroke-width="1.0"/>
<rect x="142.75" y="637.45" width="1.9" height="1.9" fill="#1a1a1a"/>
<line x1="155.7" y1="640.2" x2="155.7" y2="641.4" stroke="#1a1a1a" stroke-width="0.9"/>
<line x1="153.9" y1="640.2" x2="157.5" y2="640.2" stroke="#1a1a1a" stroke-width="1.0"/>
<line x1="153.9" y1="641.4" x2="157.5" y2="641.4" stroke="#1a1a1a" stroke-width="1.0"/>
<rect x="154.75" y="639.85" width="1.9" height="1.9" fill="#1a1a1a"/>
<line x1="167.7" y1="634.21" x2="167.7" y2="636.61" stroke="#1a1a1a" stroke-width="0.9"/>
<line x1="165.9" y1="634.21" x2="169.5" y2="634.21" stroke="#1a1a1a" stroke-width="1.0"/>
<line x1="165.9" y1="636.61" x2="169.5" y2="636.61" stroke="#1a1a1a" stroke-width="1.0"/>
<rect x="166.75" y="634.46" width="1.9" height="1.9" fill="#1a1a1a"/>
<line x1="179.7" y1="639" x2="179.7" y2="640.2" stroke="#1a1a1a" stroke-width="0.9"/>
<line x1="177.9" y1="639" x2="181.5" y2="639" stroke="#1a1a1a" stroke-width="1.0"/>
<line x1="177.9" y1="640.2" x2="181.5" y2="640.2" stroke="#1a1a1a" stroke-width="1.0"/>
<rect x="178.75" y="638.65" width="1.9" height="1.9" fill="#1a1a1a"/>
<line x1="191.7" y1="639.6" x2="191.7" y2="640.8" stroke="#1a1a1a" stroke-width="0.9"/>
<line x1="189.9" y1="639.6" x2="193.5" y2="639.6" stroke="#1a1a1a" stroke-width="1.0"/>
<line x1="189.9" y1="640.8" x2="193.5" y2="640.8" stroke="#1a1a1a" stroke-width="1.0"/>
<rect x="190.75" y="639.25" width="1.9" height="1.9" fill="#1a1a1a"/>
<polyline points="143.7,639 155.7,639 167.7,640.8 179.7,640.2 191.7,638.4" stroke="#1b9463" stroke-width="1.1" fill="none" stroke-linejoin="round"/>
<line x1="143.7" y1="638.4" x2="143.7" y2="639.6" stroke="#1b9463" stroke-width="0.9"/>
<line x1="141.9" y1="638.4" x2="145.5" y2="638.4" stroke="#1b9463" stroke-width="1.0"/>
<line x1="141.9" y1="639.6" x2="145.5" y2="639.6" stroke="#1b9463" stroke-width="1.0"/>
<rect x="142.75" y="638.05" width="1.9" height="1.9" fill="#1b9463"/>
<line x1="155.7" y1="637.81" x2="155.7" y2="640.2" stroke="#1b9463" stroke-width="0.9"/>
<line x1="153.9" y1="637.81" x2="157.5" y2="637.81" stroke="#1b9463" stroke-width="1.0"/>
<line x1="153.9" y1="640.2" x2="157.5" y2="640.2" stroke="#1b9463" stroke-width="1.0"/>
<rect x="154.75" y="638.05" width="1.9" height="1.9" fill="#1b9463"/>
<line x1="167.7" y1="640.2" x2="167.7" y2="641.4" stroke="#1b9463" stroke-width="0.9"/>
<line x1="165.9" y1="640.2" x2="169.5" y2="640.2" stroke="#1b9463" stroke-width="1.0"/>
<line x1="165.9" y1="641.4" x2="169.5" y2="641.4" stroke="#1b9463" stroke-width="1.0"/>
<rect x="166.75" y="639.85" width="1.9" height="1.9" fill="#1b9463"/>
<line x1="179.7" y1="639.6" x2="179.7" y2="640.8" stroke="#1b9463" stroke-width="0.9"/>
<line x1="177.9" y1="639.6" x2="181.5" y2="639.6" stroke="#1b9463" stroke-width="1.0"/>
<line x1="177.9" y1="640.8" x2="181.5" y2="640.8" stroke="#1b9463" stroke-width="1.0"/>
<rect x="178.75" y="639.25" width="1.9" height="1.9" fill="#1b9463"/>
<line x1="191.7" y1="636.61" x2="191.7" y2="640.2" stroke="#1b9463" stroke-width="0.9"/>
<line x1="189.9" y1="636.61" x2="193.5" y2="636.61" stroke="#1b9463" stroke-width="1.0"/>
<line x1="189.9" y1="640.2" x2="193.5" y2="640.2" stroke="#1b9463" stroke-width="1.0"/>
<rect x="190.75" y="637.45" width="1.9" height="1.9" fill="#1b9463"/>
<polyline points="143.7,618.64 155.7,607.26 167.7,595.88 179.7,590.19 191.7,587.49" stroke="#ff3218" stroke-width="1.1" fill="none" stroke-linejoin="round"/>
<line x1="143.7" y1="617.44" x2="143.7" y2="619.84" stroke="#ff3218" stroke-width="0.9"/>
<line x1="141.9" y1="617.44" x2="145.5" y2="617.44" stroke="#ff3218" stroke-width="1.0"/>
<line x1="141.9" y1="619.84" x2="145.5" y2="619.84" stroke="#ff3218" stroke-width="1.0"/>
<rect x="142.75" y="617.69" width="1.9" height="1.9" fill="#ff3218"/>
<line x1="155.7" y1="606.06" x2="155.7" y2="608.45" stroke="#ff3218" stroke-width="0.9"/>
<line x1="153.9" y1="606.06" x2="157.5" y2="606.06" stroke="#ff3218" stroke-width="1.0"/>
<line x1="153.9" y1="608.45" x2="157.5" y2="608.45" stroke="#ff3218" stroke-width="1.0"/>
<rect x="154.75" y="606.31" width="1.9" height="1.9" fill="#ff3218"/>
<line x1="167.7" y1="595.28" x2="167.7" y2="596.48" stroke="#ff3218" stroke-width="0.9"/>
<line x1="165.9" y1="595.28" x2="169.5" y2="595.28" stroke="#ff3218" stroke-width="1.0"/>
<line x1="165.9" y1="596.48" x2="169.5" y2="596.48" stroke="#ff3218" stroke-width="1.0"/>
<rect x="166.75" y="594.93" width="1.9" height="1.9" fill="#ff3218"/>
<line x1="179.7" y1="588.99" x2="179.7" y2="591.38" stroke="#ff3218" stroke-width="0.9"/>
<line x1="177.9" y1="588.99" x2="181.5" y2="588.99" stroke="#ff3218" stroke-width="1.0"/>
<line x1="177.9" y1="591.38" x2="181.5" y2="591.38" stroke="#ff3218" stroke-width="1.0"/>
<rect x="178.75" y="589.24" width="1.9" height="1.9" fill="#ff3218"/>
<line x1="191.7" y1="586.89" x2="191.7" y2="588.09" stroke="#ff3218" stroke-width="0.9"/>
<line x1="189.9" y1="586.89" x2="193.5" y2="586.89" stroke="#ff3218" stroke-width="1.0"/>
<line x1="189.9" y1="588.09" x2="193.5" y2="588.09" stroke="#ff3218" stroke-width="1.0"/>
<rect x="190.75" y="586.54" width="1.9" height="1.9" fill="#ff3218"/>
<text x="261" y="574.7" font-size="9.1" text-anchor="middle" fill="#231f20" stroke="#231f20">H441-Luc</text>
<line x1="233.3" y1="581.4" x2="233.3" y2="641.9" stroke="#1a1a1a" stroke-width="1"/>
<line x1="230.9" y1="641.4" x2="293.9" y2="641.4" stroke="#1a1a1a" stroke-width="1"/>
<line x1="230.9" y1="641.4" x2="233.3" y2="641.4" stroke="#1a1a1a" stroke-width="1"/>
<text x="230.1" y="644.6" font-size="8.8" text-anchor="end" fill="#231f20" stroke="#231f20">0</text>
<line x1="230.9" y1="626.42" x2="233.3" y2="626.42" stroke="#1a1a1a" stroke-width="1"/>
<text x="230.1" y="629.62" font-size="8.8" text-anchor="end" fill="#231f20" stroke="#231f20">25</text>
<line x1="230.9" y1="611.45" x2="233.3" y2="611.45" stroke="#1a1a1a" stroke-width="1"/>
<text x="230.1" y="614.65" font-size="8.8" text-anchor="end" fill="#231f20" stroke="#231f20">50</text>
<line x1="230.9" y1="596.48" x2="233.3" y2="596.48" stroke="#1a1a1a" stroke-width="1"/>
<text x="230.1" y="599.68" font-size="8.8" text-anchor="end" fill="#231f20" stroke="#231f20">75</text>
<line x1="230.9" y1="581.5" x2="233.3" y2="581.5" stroke="#1a1a1a" stroke-width="1"/>
<text x="230.1" y="584.7" font-size="8.8" text-anchor="end" fill="#231f20" stroke="#231f20">100</text>
<text transform="translate(213.7,615.6) rotate(-90)" font-size="9.2" text-anchor="middle" fill="#231f20" stroke="#231f20">Cytotoxicity (%)</text>
<line x1="239.7" y1="641.4" x2="239.7" y2="643.8" stroke="#1a1a1a" stroke-width="1"/>
<text transform="translate(244.5,650.3) rotate(-45)" font-size="8.7" text-anchor="end" fill="#231f20" stroke="#231f20">1.25:1</text>
<line x1="251.7" y1="641.4" x2="251.7" y2="643.8" stroke="#1a1a1a" stroke-width="1"/>
<text transform="translate(256.5,650.3) rotate(-45)" font-size="8.7" text-anchor="end" fill="#231f20" stroke="#231f20">2.5:1</text>
<line x1="263.7" y1="641.4" x2="263.7" y2="643.8" stroke="#1a1a1a" stroke-width="1"/>
<text transform="translate(268.5,650.3) rotate(-45)" font-size="8.7" text-anchor="end" fill="#231f20" stroke="#231f20">5:1</text>
<line x1="275.7" y1="641.4" x2="275.7" y2="643.8" stroke="#1a1a1a" stroke-width="1"/>
<text transform="translate(280.5,650.3) rotate(-45)" font-size="8.7" text-anchor="end" fill="#231f20" stroke="#231f20">10:1</text>
<line x1="287.7" y1="641.4" x2="287.7" y2="643.8" stroke="#1a1a1a" stroke-width="1"/>
<text transform="translate(292.5,650.3) rotate(-45)" font-size="8.7" text-anchor="end" fill="#231f20" stroke="#231f20">20:1</text>
<polyline points="239.7,635.41 251.7,636.61 263.7,637.21 275.7,637.21 287.7,638.4" stroke="#1a1a1a" stroke-width="1.1" fill="none" stroke-linejoin="round"/>
<line x1="239.7" y1="634.21" x2="239.7" y2="636.61" stroke="#1a1a1a" stroke-width="0.9"/>
<line x1="237.9" y1="634.21" x2="241.5" y2="634.21" stroke="#1a1a1a" stroke-width="1.0"/>
<line x1="237.9" y1="636.61" x2="241.5" y2="636.61" stroke="#1a1a1a" stroke-width="1.0"/>
<rect x="238.75" y="634.46" width="1.9" height="1.9" fill="#1a1a1a"/>
<line x1="251.7" y1="635.41" x2="251.7" y2="637.81" stroke="#1a1a1a" stroke-width="0.9"/>
<line x1="249.9" y1="635.41" x2="253.5" y2="635.41" stroke="#1a1a1a" stroke-width="1.0"/>
<line x1="249.9" y1="637.81" x2="253.5" y2="637.81" stroke="#1a1a1a" stroke-width="1.0"/>
<rect x="250.75" y="635.66" width="1.9" height="1.9" fill="#1a1a1a"/>
<line x1="263.7" y1="636.01" x2="263.7" y2="638.4" stroke="#1a1a1a" stroke-width="0.9"/>
<line x1="261.9" y1="636.01" x2="265.5" y2="636.01" stroke="#1a1a1a" stroke-width="1.0"/>
<line x1="261.9" y1="638.4" x2="265.5" y2="638.4" stroke="#1a1a1a" stroke-width="1.0"/>
<rect x="262.75" y="636.26" width="1.9" height="1.9" fill="#1a1a1a"/>
<line x1="275.7" y1="636.01" x2="275.7" y2="638.4" stroke="#1a1a1a" stroke-width="0.9"/>
<line x1="273.9" y1="636.01" x2="277.5" y2="636.01" stroke="#1a1a1a" stroke-width="1.0"/>
<line x1="273.9" y1="638.4" x2="277.5" y2="638.4" stroke="#1a1a1a" stroke-width="1.0"/>
<rect x="274.75" y="636.26" width="1.9" height="1.9" fill="#1a1a1a"/>
<line x1="287.7" y1="637.81" x2="287.7" y2="639" stroke="#1a1a1a" stroke-width="0.9"/>
<line x1="285.9" y1="637.81" x2="289.5" y2="637.81" stroke="#1a1a1a" stroke-width="1.0"/>
<line x1="285.9" y1="639" x2="289.5" y2="639" stroke="#1a1a1a" stroke-width="1.0"/>
<rect x="286.75" y="637.45" width="1.9" height="1.9" fill="#1a1a1a"/>
<polyline points="239.7,634.21 251.7,638.4 263.7,637.21 275.7,638.4 287.7,636.61" stroke="#1b9463" stroke-width="1.1" fill="none" stroke-linejoin="round"/>
<line x1="239.7" y1="633.01" x2="239.7" y2="635.41" stroke="#1b9463" stroke-width="0.9"/>
<line x1="237.9" y1="633.01" x2="241.5" y2="633.01" stroke="#1b9463" stroke-width="1.0"/>
<line x1="237.9" y1="635.41" x2="241.5" y2="635.41" stroke="#1b9463" stroke-width="1.0"/>
<rect x="238.75" y="633.26" width="1.9" height="1.9" fill="#1b9463"/>
<line x1="251.7" y1="637.81" x2="251.7" y2="639" stroke="#1b9463" stroke-width="0.9"/>
<line x1="249.9" y1="637.81" x2="253.5" y2="637.81" stroke="#1b9463" stroke-width="1.0"/>
<line x1="249.9" y1="639" x2="253.5" y2="639" stroke="#1b9463" stroke-width="1.0"/>
<rect x="250.75" y="637.45" width="1.9" height="1.9" fill="#1b9463"/>
<line x1="263.7" y1="636.61" x2="263.7" y2="637.81" stroke="#1b9463" stroke-width="0.9"/>
<line x1="261.9" y1="636.61" x2="265.5" y2="636.61" stroke="#1b9463" stroke-width="1.0"/>
<line x1="261.9" y1="637.81" x2="265.5" y2="637.81" stroke="#1b9463" stroke-width="1.0"/>
<rect x="262.75" y="636.26" width="1.9" height="1.9" fill="#1b9463"/>
<line x1="275.7" y1="637.81" x2="275.7" y2="639" stroke="#1b9463" stroke-width="0.9"/>
<line x1="273.9" y1="637.81" x2="277.5" y2="637.81" stroke="#1b9463" stroke-width="1.0"/>
<line x1="273.9" y1="639" x2="277.5" y2="639" stroke="#1b9463" stroke-width="1.0"/>
<rect x="274.75" y="637.45" width="1.9" height="1.9" fill="#1b9463"/>
<line x1="287.7" y1="634.81" x2="287.7" y2="638.4" stroke="#1b9463" stroke-width="0.9"/>
<line x1="285.9" y1="634.81" x2="289.5" y2="634.81" stroke="#1b9463" stroke-width="1.0"/>
<line x1="285.9" y1="638.4" x2="289.5" y2="638.4" stroke="#1b9463" stroke-width="1.0"/>
<rect x="286.75" y="635.66" width="1.9" height="1.9" fill="#1b9463"/>
<polyline points="239.7,625.83 251.7,622.23 263.7,613.85 275.7,608.16 287.7,600.07" stroke="#ff3218" stroke-width="1.1" fill="none" stroke-linejoin="round"/>
<line x1="239.7" y1="624.03" x2="239.7" y2="627.62" stroke="#ff3218" stroke-width="0.9"/>
<line x1="237.9" y1="624.03" x2="241.5" y2="624.03" stroke="#ff3218" stroke-width="1.0"/>
<line x1="237.9" y1="627.62" x2="241.5" y2="627.62" stroke="#ff3218" stroke-width="1.0"/>
<rect x="238.75" y="624.88" width="1.9" height="1.9" fill="#ff3218"/>
<line x1="251.7" y1="621.03" x2="251.7" y2="623.43" stroke="#ff3218" stroke-width="0.9"/>
<line x1="249.9" y1="621.03" x2="253.5" y2="621.03" stroke="#ff3218" stroke-width="1.0"/>
<line x1="249.9" y1="623.43" x2="253.5" y2="623.43" stroke="#ff3218" stroke-width="1.0"/>
<rect x="250.75" y="621.28" width="1.9" height="1.9" fill="#ff3218"/>
<line x1="263.7" y1="613.25" x2="263.7" y2="614.45" stroke="#ff3218" stroke-width="0.9"/>
<line x1="261.9" y1="613.25" x2="265.5" y2="613.25" stroke="#ff3218" stroke-width="1.0"/>
<line x1="261.9" y1="614.45" x2="265.5" y2="614.45" stroke="#ff3218" stroke-width="1.0"/>
<rect x="262.75" y="612.9" width="1.9" height="1.9" fill="#ff3218"/>
<line x1="275.7" y1="607.56" x2="275.7" y2="608.75" stroke="#ff3218" stroke-width="0.9"/>
<line x1="273.9" y1="607.56" x2="277.5" y2="607.56" stroke="#ff3218" stroke-width="1.0"/>
<line x1="273.9" y1="608.75" x2="277.5" y2="608.75" stroke="#ff3218" stroke-width="1.0"/>
<rect x="274.75" y="607.21" width="1.9" height="1.9" fill="#ff3218"/>
<line x1="287.7" y1="599.47" x2="287.7" y2="600.67" stroke="#ff3218" stroke-width="0.9"/>
<line x1="285.9" y1="599.47" x2="289.5" y2="599.47" stroke="#ff3218" stroke-width="1.0"/>
<line x1="285.9" y1="600.67" x2="289.5" y2="600.67" stroke="#ff3218" stroke-width="1.0"/>
<rect x="286.75" y="599.12" width="1.9" height="1.9" fill="#ff3218"/>
<text x="358.8" y="574.7" font-size="9.1" text-anchor="middle" fill="#231f20" stroke="#231f20">MB-231-Luc</text>
<line x1="329.3" y1="581.4" x2="329.3" y2="641.9" stroke="#1a1a1a" stroke-width="1"/>
<line x1="326.9" y1="641.4" x2="389.9" y2="641.4" stroke="#1a1a1a" stroke-width="1"/>
<line x1="326.9" y1="641.4" x2="329.3" y2="641.4" stroke="#1a1a1a" stroke-width="1"/>
<text x="326.1" y="644.6" font-size="8.8" text-anchor="end" fill="#231f20" stroke="#231f20">0</text>
<line x1="326.9" y1="626.42" x2="329.3" y2="626.42" stroke="#1a1a1a" stroke-width="1"/>
<text x="326.1" y="629.62" font-size="8.8" text-anchor="end" fill="#231f20" stroke="#231f20">25</text>
<line x1="326.9" y1="611.45" x2="329.3" y2="611.45" stroke="#1a1a1a" stroke-width="1"/>
<text x="326.1" y="614.65" font-size="8.8" text-anchor="end" fill="#231f20" stroke="#231f20">50</text>
<line x1="326.9" y1="596.48" x2="329.3" y2="596.48" stroke="#1a1a1a" stroke-width="1"/>
<text x="326.1" y="599.68" font-size="8.8" text-anchor="end" fill="#231f20" stroke="#231f20">75</text>
<line x1="326.9" y1="581.5" x2="329.3" y2="581.5" stroke="#1a1a1a" stroke-width="1"/>
<text x="326.1" y="584.7" font-size="8.8" text-anchor="end" fill="#231f20" stroke="#231f20">100</text>
<text transform="translate(309.7,615.6) rotate(-90)" font-size="9.2" text-anchor="middle" fill="#231f20" stroke="#231f20">Cytotoxicity (%)</text>
<line x1="335.7" y1="641.4" x2="335.7" y2="643.8" stroke="#1a1a1a" stroke-width="1"/>
<text transform="translate(340.5,650.3) rotate(-45)" font-size="8.7" text-anchor="end" fill="#231f20" stroke="#231f20">1.25:1</text>
<line x1="347.7" y1="641.4" x2="347.7" y2="643.8" stroke="#1a1a1a" stroke-width="1"/>
<text transform="translate(352.5,650.3) rotate(-45)" font-size="8.7" text-anchor="end" fill="#231f20" stroke="#231f20">2.5:1</text>
<line x1="359.7" y1="641.4" x2="359.7" y2="643.8" stroke="#1a1a1a" stroke-width="1"/>
<text transform="translate(364.5,650.3) rotate(-45)" font-size="8.7" text-anchor="end" fill="#231f20" stroke="#231f20">5:1</text>
<line x1="371.7" y1="641.4" x2="371.7" y2="643.8" stroke="#1a1a1a" stroke-width="1"/>
<text transform="translate(376.5,650.3) rotate(-45)" font-size="8.7" text-anchor="end" fill="#231f20" stroke="#231f20">10:1</text>
<line x1="383.7" y1="641.4" x2="383.7" y2="643.8" stroke="#1a1a1a" stroke-width="1"/>
<text transform="translate(388.5,650.3) rotate(-45)" font-size="8.7" text-anchor="end" fill="#231f20" stroke="#231f20">20:1</text>
<polyline points="335.7,635.41 347.7,634.21 359.7,636.01 371.7,635.41 383.7,635.41" stroke="#1a1a1a" stroke-width="1.1" fill="none" stroke-linejoin="round"/>
<line x1="335.7" y1="634.21" x2="335.7" y2="636.61" stroke="#1a1a1a" stroke-width="0.9"/>
<line x1="333.9" y1="634.21" x2="337.5" y2="634.21" stroke="#1a1a1a" stroke-width="1.0"/>
<line x1="333.9" y1="636.61" x2="337.5" y2="636.61" stroke="#1a1a1a" stroke-width="1.0"/>
<rect x="334.75" y="634.46" width="1.9" height="1.9" fill="#1a1a1a"/>
<line x1="347.7" y1="632.41" x2="347.7" y2="636.01" stroke="#1a1a1a" stroke-width="0.9"/>
<line x1="345.9" y1="632.41" x2="349.5" y2="632.41" stroke="#1a1a1a" stroke-width="1.0"/>
<line x1="345.9" y1="636.01" x2="349.5" y2="636.01" stroke="#1a1a1a" stroke-width="1.0"/>
<rect x="346.75" y="633.26" width="1.9" height="1.9" fill="#1a1a1a"/>
<line x1="359.7" y1="634.81" x2="359.7" y2="637.21" stroke="#1a1a1a" stroke-width="0.9"/>
<line x1="357.9" y1="634.81" x2="361.5" y2="634.81" stroke="#1a1a1a" stroke-width="1.0"/>
<line x1="357.9" y1="637.21" x2="361.5" y2="637.21" stroke="#1a1a1a" stroke-width="1.0"/>
<rect x="358.75" y="635.06" width="1.9" height="1.9" fill="#1a1a1a"/>
<line x1="371.7" y1="634.81" x2="371.7" y2="636.01" stroke="#1a1a1a" stroke-width="0.9"/>
<line x1="369.9" y1="634.81" x2="373.5" y2="634.81" stroke="#1a1a1a" stroke-width="1.0"/>
<line x1="369.9" y1="636.01" x2="373.5" y2="636.01" stroke="#1a1a1a" stroke-width="1.0"/>
<rect x="370.75" y="634.46" width="1.9" height="1.9" fill="#1a1a1a"/>
<line x1="383.7" y1="634.21" x2="383.7" y2="636.61" stroke="#1a1a1a" stroke-width="0.9"/>
<line x1="381.9" y1="634.21" x2="385.5" y2="634.21" stroke="#1a1a1a" stroke-width="1.0"/>
<line x1="381.9" y1="636.61" x2="385.5" y2="636.61" stroke="#1a1a1a" stroke-width="1.0"/>
<rect x="382.75" y="634.46" width="1.9" height="1.9" fill="#1a1a1a"/>
<polyline points="335.7,635.41 347.7,635.41 359.7,634.21 371.7,636.01 383.7,635.41" stroke="#1b9463" stroke-width="1.1" fill="none" stroke-linejoin="round"/>
<line x1="335.7" y1="634.81" x2="335.7" y2="636.01" stroke="#1b9463" stroke-width="0.9"/>
<line x1="333.9" y1="634.81" x2="337.5" y2="634.81" stroke="#1b9463" stroke-width="1.0"/>
<line x1="333.9" y1="636.01" x2="337.5" y2="636.01" stroke="#1b9463" stroke-width="1.0"/>
<rect x="334.75" y="634.46" width="1.9" height="1.9" fill="#1b9463"/>
<line x1="347.7" y1="634.81" x2="347.7" y2="636.01" stroke="#1b9463" stroke-width="0.9"/>
<line x1="345.9" y1="634.81" x2="349.5" y2="634.81" stroke="#1b9463" stroke-width="1.0"/>
<line x1="345.9" y1="636.01" x2="349.5" y2="636.01" stroke="#1b9463" stroke-width="1.0"/>
<rect x="346.75" y="634.46" width="1.9" height="1.9" fill="#1b9463"/>
<line x1="359.7" y1="632.41" x2="359.7" y2="636.01" stroke="#1b9463" stroke-width="0.9"/>
<line x1="357.9" y1="632.41" x2="361.5" y2="632.41" stroke="#1b9463" stroke-width="1.0"/>
<line x1="357.9" y1="636.01" x2="361.5" y2="636.01" stroke="#1b9463" stroke-width="1.0"/>
<rect x="358.75" y="633.26" width="1.9" height="1.9" fill="#1b9463"/>
<line x1="371.7" y1="635.41" x2="371.7" y2="636.61" stroke="#1b9463" stroke-width="0.9"/>
<line x1="369.9" y1="635.41" x2="373.5" y2="635.41" stroke="#1b9463" stroke-width="1.0"/>
<line x1="369.9" y1="636.61" x2="373.5" y2="636.61" stroke="#1b9463" stroke-width="1.0"/>
<rect x="370.75" y="635.06" width="1.9" height="1.9" fill="#1b9463"/>
<line x1="383.7" y1="634.81" x2="383.7" y2="636.01" stroke="#1b9463" stroke-width="0.9"/>
<line x1="381.9" y1="634.81" x2="385.5" y2="634.81" stroke="#1b9463" stroke-width="1.0"/>
<line x1="381.9" y1="636.01" x2="385.5" y2="636.01" stroke="#1b9463" stroke-width="1.0"/>
<rect x="382.75" y="634.46" width="1.9" height="1.9" fill="#1b9463"/>
<polyline points="335.7,622.23 347.7,606.66 359.7,597.07 371.7,592.28 383.7,588.69" stroke="#ff3218" stroke-width="1.1" fill="none" stroke-linejoin="round"/>
<line x1="335.7" y1="621.03" x2="335.7" y2="623.43" stroke="#ff3218" stroke-width="0.9"/>
<line x1="333.9" y1="621.03" x2="337.5" y2="621.03" stroke="#ff3218" stroke-width="1.0"/>
<line x1="333.9" y1="623.43" x2="337.5" y2="623.43" stroke="#ff3218" stroke-width="1.0"/>
<rect x="334.75" y="621.28" width="1.9" height="1.9" fill="#ff3218"/>
<line x1="347.7" y1="606.06" x2="347.7" y2="607.26" stroke="#ff3218" stroke-width="0.9"/>
<line x1="345.9" y1="606.06" x2="349.5" y2="606.06" stroke="#ff3218" stroke-width="1.0"/>
<line x1="345.9" y1="607.26" x2="349.5" y2="607.26" stroke="#ff3218" stroke-width="1.0"/>
<rect x="346.75" y="605.71" width="1.9" height="1.9" fill="#ff3218"/>
<line x1="359.7" y1="596.47" x2="359.7" y2="597.67" stroke="#ff3218" stroke-width="0.9"/>
<line x1="357.9" y1="596.47" x2="361.5" y2="596.47" stroke="#ff3218" stroke-width="1.0"/>
<line x1="357.9" y1="597.67" x2="361.5" y2="597.67" stroke="#ff3218" stroke-width="1.0"/>
<rect x="358.75" y="596.12" width="1.9" height="1.9" fill="#ff3218"/>
<line x1="371.7" y1="591.08" x2="371.7" y2="593.48" stroke="#ff3218" stroke-width="0.9"/>
<line x1="369.9" y1="591.08" x2="373.5" y2="591.08" stroke="#ff3218" stroke-width="1.0"/>
<line x1="369.9" y1="593.48" x2="373.5" y2="593.48" stroke="#ff3218" stroke-width="1.0"/>
<rect x="370.75" y="591.33" width="1.9" height="1.9" fill="#ff3218"/>
<line x1="383.7" y1="588.09" x2="383.7" y2="589.29" stroke="#ff3218" stroke-width="0.9"/>
<line x1="381.9" y1="588.09" x2="385.5" y2="588.09" stroke="#ff3218" stroke-width="1.0"/>
<line x1="381.9" y1="589.29" x2="385.5" y2="589.29" stroke="#ff3218" stroke-width="1.0"/>
<rect x="382.75" y="587.74" width="1.9" height="1.9" fill="#ff3218"/>
<line x1="120.7" y1="679.4" x2="129.9" y2="679.4" stroke="#1a1a1a" stroke-width="1.1"/>
<text x="134.5" y="682.6" font-size="9.1" text-anchor="start" fill="#231f20" stroke="#231f20">Ctrl</text>
<line x1="162.1" y1="679.4" x2="171.3" y2="679.4" stroke="#1b9463" stroke-width="1.1"/>
<text x="175.9" y="682.6" font-size="9.1" text-anchor="start" fill="#231f20" stroke="#231f20">CD19 CAR-T</text>
<line x1="242.4" y1="679.4" x2="252.5" y2="679.4" stroke="#ff3218" stroke-width="1.1"/>
<text x="256.5" y="682.6" font-size="9.1" text-anchor="start" fill="#231f20" stroke="#231f20">mC2 CAR-T</text>
<text x="495.8" y="432.9" font-size="9.1" text-anchor="middle" fill="#231f20" stroke="#231f20">CD4+ CAR-T</text>
<text transform="translate(427.6,473.75) rotate(-90)" font-size="9" text-anchor="middle" fill="#231f20" stroke="#231f20">IFN-&#947; (%)</text>
<text x="438" y="442.5" font-size="8.8" text-anchor="end" fill="#231f20" stroke="#231f20">4</text>
<text x="438" y="459.7" font-size="8.8" text-anchor="end" fill="#231f20" stroke="#231f20">3</text>
<text x="438" y="477" font-size="8.8" text-anchor="end" fill="#231f20" stroke="#231f20">2</text>
<text x="438" y="494.2" font-size="8.8" text-anchor="end" fill="#231f20" stroke="#231f20">1</text>
<text x="438" y="511.4" font-size="8.8" text-anchor="end" fill="#231f20" stroke="#231f20">0</text>
<line x1="440.2" y1="439.3" x2="443.2" y2="439.3" stroke="#231f20" stroke-width="1"/>
<line x1="440.2" y1="462.3" x2="443.2" y2="462.3" stroke="#231f20" stroke-width="1"/>
<line x1="440.2" y1="485.3" x2="443.2" y2="485.3" stroke="#231f20" stroke-width="1"/>
<line x1="440.2" y1="508.2" x2="443.2" y2="508.2" stroke="#231f20" stroke-width="1"/>
<line x1="443.2" y1="439" x2="443.2" y2="508.7" stroke="#555" stroke-width="1.1"/>
<rect x="448.05" y="505.6" width="8.9" height="2.6" fill="#ff2a00" stroke="#111" stroke-width="0.9"/>
<line x1="452.5" y1="504.33" x2="452.5" y2="506.87" stroke="#111" stroke-width="0.9"/>
<line x1="450.5" y1="504.33" x2="454.5" y2="504.33" stroke="#111" stroke-width="0.9"/>
<circle cx="449.96" cy="505.48" r="2" fill="#fff" stroke="#111" stroke-width="0.8"/>
<circle cx="452.53" cy="503.07" r="2" fill="#fff" stroke="#111" stroke-width="0.8"/>
<circle cx="455.26" cy="505" r="2" fill="#fff" stroke="#111" stroke-width="0.8"/>
<line x1="452.5" y1="508.2" x2="452.5" y2="510.6" stroke="#231f20" stroke-width="1"/>
<text transform="translate(456.8,517.7) rotate(-45)" font-size="9" text-anchor="end" fill="#231f20" stroke="#231f20">Ctrl</text>
<rect x="462.1" y="481.4" width="8.9" height="26.8" fill="#ff2a00" stroke="#111" stroke-width="0.9"/>
<line x1="466.55" y1="475.85" x2="466.55" y2="486.95" stroke="#111" stroke-width="0.9"/>
<line x1="464.55" y1="475.85" x2="468.55" y2="475.85" stroke="#111" stroke-width="0.9"/>
<circle cx="463.77" cy="476.09" r="2" fill="#fff" stroke="#111" stroke-width="0.8"/>
<circle cx="469.23" cy="479.78" r="2" fill="#fff" stroke="#111" stroke-width="0.8"/>
<circle cx="466.5" cy="487.01" r="2" fill="#fff" stroke="#111" stroke-width="0.8"/>
<line x1="466.55" y1="508.2" x2="466.55" y2="510.6" stroke="#231f20" stroke-width="1"/>
<text transform="translate(470.85,517.7) rotate(-45)" font-size="9" text-anchor="end" fill="#231f20" stroke="#231f20">JeKo-1</text>
<rect x="476.15" y="505.6" width="8.9" height="2.6" fill="#ff2a00" stroke="#111" stroke-width="0.9"/>
<line x1="480.6" y1="504.51" x2="480.6" y2="506.69" stroke="#111" stroke-width="0.9"/>
<line x1="478.6" y1="504.51" x2="482.6" y2="504.51" stroke="#111" stroke-width="0.9"/>
<circle cx="478.06" cy="505.16" r="2" fill="#fff" stroke="#111" stroke-width="0.8"/>
<circle cx="480.63" cy="503.07" r="2" fill="#fff" stroke="#111" stroke-width="0.8"/>
<circle cx="483.36" cy="504.67" r="2" fill="#fff" stroke="#111" stroke-width="0.8"/>
<line x1="480.6" y1="508.2" x2="480.6" y2="510.6" stroke="#231f20" stroke-width="1"/>
<text transform="translate(484.9,517.7) rotate(-45)" font-size="9" text-anchor="end" fill="#231f20" stroke="#231f20">Daudi</text>
<rect x="490.2" y="451.4" width="8.9" height="56.8" fill="#ff2a00" stroke="#111" stroke-width="0.9"/>
<line x1="494.65" y1="445.69" x2="494.65" y2="457.11" stroke="#111" stroke-width="0.9"/>
<line x1="492.65" y1="445.69" x2="496.65" y2="445.69" stroke="#111" stroke-width="0.9"/>
<circle cx="494.6" cy="444.45" r="2" fill="#fff" stroke="#111" stroke-width="0.8"/>
<circle cx="492.19" cy="454.57" r="2" fill="#fff" stroke="#111" stroke-width="0.8"/>
<circle cx="497.01" cy="454.09" r="2" fill="#fff" stroke="#111" stroke-width="0.8"/>
<line x1="494.65" y1="508.2" x2="494.65" y2="510.6" stroke="#231f20" stroke-width="1"/>
<text transform="translate(498.95,517.7) rotate(-45)" font-size="9" text-anchor="end" fill="#231f20" stroke="#231f20">MM.1S-A2</text>
<rect x="504.25" y="466.1" width="8.9" height="42.1" fill="#ff2a00" stroke="#111" stroke-width="0.9"/>
<line x1="508.7" y1="465.17" x2="508.7" y2="467.03" stroke="#111" stroke-width="0.9"/>
<line x1="506.7" y1="465.17" x2="510.7" y2="465.17" stroke="#111" stroke-width="0.9"/>
<circle cx="506.16" cy="466.61" r="2" fill="#fff" stroke="#111" stroke-width="0.8"/>
<circle cx="508.73" cy="465.01" r="2" fill="#fff" stroke="#111" stroke-width="0.8"/>
<circle cx="511.46" cy="465.01" r="2" fill="#fff" stroke="#111" stroke-width="0.8"/>
<line x1="508.7" y1="508.2" x2="508.7" y2="510.6" stroke="#231f20" stroke-width="1"/>
<text transform="translate(513,517.7) rotate(-45)" font-size="9" text-anchor="end" fill="#231f20" stroke="#231f20">KMS-12-BM-A2</text>
<rect x="518.3" y="493.9" width="8.9" height="14.3" fill="#ff2a00" stroke="#111" stroke-width="0.9"/>
<line x1="522.75" y1="490.29" x2="522.75" y2="497.51" stroke="#111" stroke-width="0.9"/>
<line x1="520.75" y1="490.29" x2="524.75" y2="490.29" stroke="#111" stroke-width="0.9"/>
<circle cx="520.3" cy="491.35" r="2" fill="#fff" stroke="#111" stroke-width="0.8"/>
<circle cx="525.11" cy="492.95" r="2" fill="#fff" stroke="#111" stroke-width="0.8"/>
<circle cx="522.7" cy="498.25" r="2" fill="#fff" stroke="#111" stroke-width="0.8"/>
<line x1="522.75" y1="508.2" x2="522.75" y2="510.6" stroke="#231f20" stroke-width="1"/>
<text transform="translate(527.05,517.7) rotate(-45)" font-size="9" text-anchor="end" fill="#231f20" stroke="#231f20">CFPAC-1</text>
<rect x="532.35" y="486.5" width="8.9" height="21.7" fill="#ff2a00" stroke="#111" stroke-width="0.9"/>
<line x1="536.8" y1="481.22" x2="536.8" y2="491.78" stroke="#111" stroke-width="0.9"/>
<line x1="534.8" y1="481.22" x2="538.8" y2="481.22" stroke="#111" stroke-width="0.9"/>
<circle cx="536.68" cy="480.26" r="2" fill="#fff" stroke="#111" stroke-width="0.8"/>
<circle cx="534.43" cy="489.42" r="2" fill="#fff" stroke="#111" stroke-width="0.8"/>
<circle cx="539.25" cy="489.42" r="2" fill="#fff" stroke="#111" stroke-width="0.8"/>
<line x1="536.8" y1="508.2" x2="536.8" y2="510.6" stroke="#231f20" stroke-width="1"/>
<text transform="translate(541.1,517.7) rotate(-45)" font-size="9" text-anchor="end" fill="#231f20" stroke="#231f20">PANC-1</text>
<line x1="440.2" y1="508.2" x2="546" y2="508.2" stroke="#231f20" stroke-width="1"/>
<text x="637.4" y="432.9" font-size="9.1" text-anchor="middle" fill="#231f20" stroke="#231f20">CD8+ CAR-T</text>
<text transform="translate(564.2,473.75) rotate(-90)" font-size="9" text-anchor="middle" fill="#231f20" stroke="#231f20">IFN-&#947; (%)</text>
<text x="576.5" y="442.5" font-size="8.8" text-anchor="end" fill="#231f20" stroke="#231f20">10</text>
<text x="576.5" y="456.3" font-size="8.8" text-anchor="end" fill="#231f20" stroke="#231f20">8</text>
<text x="576.5" y="470.1" font-size="8.8" text-anchor="end" fill="#231f20" stroke="#231f20">6</text>
<text x="576.5" y="483.8" font-size="8.8" text-anchor="end" fill="#231f20" stroke="#231f20">4</text>
<text x="576.5" y="497.6" font-size="8.8" text-anchor="end" fill="#231f20" stroke="#231f20">2</text>
<text x="576.5" y="511.4" font-size="8.8" text-anchor="end" fill="#231f20" stroke="#231f20">0</text>
<line x1="578.7" y1="439.3" x2="581.7" y2="439.3" stroke="#231f20" stroke-width="1"/>
<line x1="578.7" y1="453.1" x2="581.7" y2="453.1" stroke="#231f20" stroke-width="1"/>
<line x1="578.7" y1="466.9" x2="581.7" y2="466.9" stroke="#231f20" stroke-width="1"/>
<line x1="578.7" y1="480.6" x2="581.7" y2="480.6" stroke="#231f20" stroke-width="1"/>
<line x1="578.7" y1="494.4" x2="581.7" y2="494.4" stroke="#231f20" stroke-width="1"/>
<line x1="578.7" y1="508.2" x2="581.7" y2="508.2" stroke="#231f20" stroke-width="1"/>
<line x1="581.7" y1="439" x2="581.7" y2="508.7" stroke="#555" stroke-width="1.1"/>
<rect x="586.25" y="507.2" width="8.9" height="1" fill="#ff2a00" stroke="#111" stroke-width="0.9"/>
<circle cx="588.17" cy="507.4" r="2" fill="#fff" stroke="#111" stroke-width="0.8"/>
<circle cx="590.74" cy="506.76" r="2" fill="#fff" stroke="#111" stroke-width="0.8"/>
<circle cx="593.47" cy="507.08" r="2" fill="#fff" stroke="#111" stroke-width="0.8"/>
<line x1="590.7" y1="508.2" x2="590.7" y2="510.6" stroke="#231f20" stroke-width="1"/>
<text transform="translate(595,517.7) rotate(-45)" font-size="9" text-anchor="end" fill="#231f20" stroke="#231f20">Ctrl</text>
<rect x="600.3" y="460.5" width="8.9" height="47.7" fill="#ff2a00" stroke="#111" stroke-width="0.9"/>
<line x1="604.75" y1="458.38" x2="604.75" y2="462.62" stroke="#111" stroke-width="0.9"/>
<line x1="602.75" y1="458.38" x2="606.75" y2="458.38" stroke="#111" stroke-width="0.9"/>
<circle cx="602.3" cy="458.1" r="2" fill="#fff" stroke="#111" stroke-width="0.8"/>
<circle cx="602.62" cy="462.12" r="2" fill="#fff" stroke="#111" stroke-width="0.8"/>
<circle cx="607.12" cy="461.32" r="2" fill="#fff" stroke="#111" stroke-width="0.8"/>
<line x1="604.75" y1="508.2" x2="604.75" y2="510.6" stroke="#231f20" stroke-width="1"/>
<text transform="translate(609.05,517.7) rotate(-45)" font-size="9" text-anchor="end" fill="#231f20" stroke="#231f20">JeKo-1</text>
<rect x="614.35" y="507" width="8.9" height="1.2" fill="#ff2a00" stroke="#111" stroke-width="0.9"/>
<circle cx="616.75" cy="506.76" r="2" fill="#fff" stroke="#111" stroke-width="0.8"/>
<circle cx="619.16" cy="505.8" r="2" fill="#fff" stroke="#111" stroke-width="0.8"/>
<circle cx="621.57" cy="506.28" r="2" fill="#fff" stroke="#111" stroke-width="0.8"/>
<line x1="618.8" y1="508.2" x2="618.8" y2="510.6" stroke="#231f20" stroke-width="1"/>
<text transform="translate(623.1,517.7) rotate(-45)" font-size="9" text-anchor="end" fill="#231f20" stroke="#231f20">Daudi</text>
<rect x="628.4" y="459.7" width="8.9" height="48.5" fill="#ff2a00" stroke="#111" stroke-width="0.9"/>
<line x1="632.85" y1="457.68" x2="632.85" y2="461.72" stroke="#111" stroke-width="0.9"/>
<line x1="630.85" y1="457.68" x2="634.85" y2="457.68" stroke="#111" stroke-width="0.9"/>
<circle cx="630.4" cy="462.12" r="2" fill="#fff" stroke="#111" stroke-width="0.8"/>
<circle cx="633.13" cy="458.1" r="2" fill="#fff" stroke="#111" stroke-width="0.8"/>
<circle cx="635.7" cy="459.71" r="2" fill="#fff" stroke="#111" stroke-width="0.8"/>
<line x1="632.85" y1="508.2" x2="632.85" y2="510.6" stroke="#231f20" stroke-width="1"/>
<text transform="translate(637.15,517.7) rotate(-45)" font-size="9" text-anchor="end" fill="#231f20" stroke="#231f20">MM.1S-A2</text>
<rect x="642.45" y="465" width="8.9" height="43.2" fill="#ff2a00" stroke="#111" stroke-width="0.9"/>
<line x1="646.9" y1="460.32" x2="646.9" y2="469.68" stroke="#111" stroke-width="0.9"/>
<line x1="644.9" y1="460.32" x2="648.9" y2="460.32" stroke="#111" stroke-width="0.9"/>
<circle cx="644.38" cy="468.54" r="2" fill="#fff" stroke="#111" stroke-width="0.8"/>
<circle cx="646.94" cy="459.39" r="2" fill="#fff" stroke="#111" stroke-width="0.8"/>
<circle cx="649.67" cy="465.65" r="2" fill="#fff" stroke="#111" stroke-width="0.8"/>
<line x1="646.9" y1="508.2" x2="646.9" y2="510.6" stroke="#231f20" stroke-width="1"/>
<text transform="translate(651.2,517.7) rotate(-45)" font-size="9" text-anchor="end" fill="#231f20" stroke="#231f20">KMS-12-BM-A2</text>
<rect x="656.5" y="474.2" width="8.9" height="34" fill="#ff2a00" stroke="#111" stroke-width="0.9"/>
<line x1="660.95" y1="470.4" x2="660.95" y2="478" stroke="#111" stroke-width="0.9"/>
<line x1="658.95" y1="470.4" x2="662.95" y2="470.4" stroke="#111" stroke-width="0.9"/>
<circle cx="658.51" cy="473.36" r="2" fill="#fff" stroke="#111" stroke-width="0.8"/>
<circle cx="663" cy="473.68" r="2" fill="#fff" stroke="#111" stroke-width="0.8"/>
<circle cx="661.24" cy="480.1" r="2" fill="#fff" stroke="#111" stroke-width="0.8"/>
<line x1="660.95" y1="508.2" x2="660.95" y2="510.6" stroke="#231f20" stroke-width="1"/>
<text transform="translate(665.25,517.7) rotate(-45)" font-size="9" text-anchor="end" fill="#231f20" stroke="#231f20">CFPAC-1</text>
<rect x="670.55" y="459.7" width="8.9" height="48.5" fill="#ff2a00" stroke="#111" stroke-width="0.9"/>
<line x1="675" y1="456.14" x2="675" y2="463.26" stroke="#111" stroke-width="0.9"/>
<line x1="673" y1="456.14" x2="677" y2="456.14" stroke="#111" stroke-width="0.9"/>
<circle cx="672.64" cy="462.12" r="2" fill="#fff" stroke="#111" stroke-width="0.8"/>
<circle cx="675.37" cy="455.21" r="2" fill="#fff" stroke="#111" stroke-width="0.8"/>
<circle cx="677.78" cy="460.19" r="2" fill="#fff" stroke="#111" stroke-width="0.8"/>
<line x1="675" y1="508.2" x2="675" y2="510.6" stroke="#231f20" stroke-width="1"/>
<text transform="translate(679.3,517.7) rotate(-45)" font-size="9" text-anchor="end" fill="#231f20" stroke="#231f20">PANC-1</text>
<line x1="578.7" y1="508.2" x2="686" y2="508.2" stroke="#231f20" stroke-width="1"/>
<text x="495.8" y="577.6" font-size="9.1" text-anchor="middle" fill="#231f20" stroke="#231f20">CD4+ CAR-T</text>
<text transform="translate(425,614.8) rotate(-90)" font-size="9.4" text-anchor="middle" fill="#231f20" stroke="#231f20">TNF-&#945; (%)</text>
<text x="438" y="585.4" font-size="8.8" text-anchor="end" fill="#231f20" stroke="#231f20">40</text>
<text x="438" y="602.6" font-size="8.8" text-anchor="end" fill="#231f20" stroke="#231f20">30</text>
<text x="438" y="619.8" font-size="8.8" text-anchor="end" fill="#231f20" stroke="#231f20">20</text>
<text x="438" y="637" font-size="8.8" text-anchor="end" fill="#231f20" stroke="#231f20">10</text>
<text x="438" y="654.2" font-size="8.8" text-anchor="end" fill="#231f20" stroke="#231f20">0</text>
<line x1="440.2" y1="582.2" x2="443.2" y2="582.2" stroke="#231f20" stroke-width="1"/>
<line x1="440.2" y1="605.2" x2="443.2" y2="605.2" stroke="#231f20" stroke-width="1"/>
<line x1="440.2" y1="628.3" x2="443.2" y2="628.3" stroke="#231f20" stroke-width="1"/>
<line x1="440.2" y1="651" x2="443.2" y2="651" stroke="#231f20" stroke-width="1"/>
<line x1="443.2" y1="581.9" x2="443.2" y2="651.5" stroke="#555" stroke-width="1.1"/>
<rect x="448.05" y="648.9" width="8.9" height="2.1" fill="#ff2a00" stroke="#111" stroke-width="0.9"/>
<circle cx="449.96" cy="646.46" r="2" fill="#fff" stroke="#111" stroke-width="0.8"/>
<circle cx="452.53" cy="645.66" r="2" fill="#fff" stroke="#111" stroke-width="0.8"/>
<circle cx="455.26" cy="646.46" r="2" fill="#fff" stroke="#111" stroke-width="0.8"/>
<line x1="452.5" y1="651" x2="452.5" y2="653.4" stroke="#231f20" stroke-width="1"/>
<text transform="translate(456.8,660.5) rotate(-45)" font-size="9" text-anchor="end" fill="#231f20" stroke="#231f20">Ctrl</text>
<rect x="462.1" y="609.5" width="8.9" height="41.5" fill="#ff2a00" stroke="#111" stroke-width="0.9"/>
<circle cx="463.77" cy="608.72" r="2" fill="#fff" stroke="#111" stroke-width="0.8"/>
<circle cx="466.5" cy="607.92" r="2" fill="#fff" stroke="#111" stroke-width="0.8"/>
<circle cx="469.23" cy="608.72" r="2" fill="#fff" stroke="#111" stroke-width="0.8"/>
<line x1="466.55" y1="651" x2="466.55" y2="653.4" stroke="#231f20" stroke-width="1"/>
<text transform="translate(470.85,660.5) rotate(-45)" font-size="9" text-anchor="end" fill="#231f20" stroke="#231f20">JeKo-1</text>
<rect x="476.15" y="644" width="8.9" height="7" fill="#ff2a00" stroke="#111" stroke-width="0.9"/>
<line x1="480.6" y1="642.55" x2="480.6" y2="645.45" stroke="#111" stroke-width="0.9"/>
<line x1="478.6" y1="642.55" x2="482.6" y2="642.55" stroke="#111" stroke-width="0.9"/>
<circle cx="477.74" cy="643.73" r="2" fill="#fff" stroke="#111" stroke-width="0.8"/>
<circle cx="480.47" cy="640.84" r="2" fill="#fff" stroke="#111" stroke-width="0.8"/>
<circle cx="483.36" cy="642.45" r="2" fill="#fff" stroke="#111" stroke-width="0.8"/>
<line x1="480.6" y1="651" x2="480.6" y2="653.4" stroke="#231f20" stroke-width="1"/>
<text transform="translate(484.9,660.5) rotate(-45)" font-size="9" text-anchor="end" fill="#231f20" stroke="#231f20">Daudi</text>
<rect x="490.2" y="590.3" width="8.9" height="60.7" fill="#ff2a00" stroke="#111" stroke-width="0.9"/>
<circle cx="492.19" cy="589.13" r="2" fill="#fff" stroke="#111" stroke-width="0.8"/>
<circle cx="494.92" cy="588.17" r="2" fill="#fff" stroke="#111" stroke-width="0.8"/>
<circle cx="497.49" cy="589.13" r="2" fill="#fff" stroke="#111" stroke-width="0.8"/>
<line x1="494.65" y1="651" x2="494.65" y2="653.4" stroke="#231f20" stroke-width="1"/>
<text transform="translate(498.95,660.5) rotate(-45)" font-size="9" text-anchor="end" fill="#231f20" stroke="#231f20">MM.1S-A2</text>
<rect x="504.25" y="600.7" width="8.9" height="50.3" fill="#ff2a00" stroke="#111" stroke-width="0.9"/>
<line x1="508.7" y1="597.4" x2="508.7" y2="604" stroke="#111" stroke-width="0.9"/>
<line x1="506.7" y1="597.4" x2="510.7" y2="597.4" stroke="#111" stroke-width="0.9"/>
<circle cx="506.16" cy="602.62" r="2" fill="#fff" stroke="#111" stroke-width="0.8"/>
<circle cx="508.73" cy="596.2" r="2" fill="#fff" stroke="#111" stroke-width="0.8"/>
<circle cx="511.46" cy="600.69" r="2" fill="#fff" stroke="#111" stroke-width="0.8"/>
<line x1="508.7" y1="651" x2="508.7" y2="653.4" stroke="#231f20" stroke-width="1"/>
<text transform="translate(513,660.5) rotate(-45)" font-size="9" text-anchor="end" fill="#231f20" stroke="#231f20">KMS-12-BM-A2</text>
<rect x="518.3" y="629.6" width="8.9" height="21.4" fill="#ff2a00" stroke="#111" stroke-width="0.9"/>
<line x1="522.75" y1="625.73" x2="522.75" y2="633.47" stroke="#111" stroke-width="0.9"/>
<line x1="520.75" y1="625.73" x2="524.75" y2="625.73" stroke="#111" stroke-width="0.9"/>
<circle cx="519.97" cy="632.81" r="2" fill="#fff" stroke="#111" stroke-width="0.8"/>
<circle cx="522.7" cy="625.1" r="2" fill="#fff" stroke="#111" stroke-width="0.8"/>
<circle cx="525.43" cy="629.6" r="2" fill="#fff" stroke="#111" stroke-width="0.8"/>
<line x1="522.75" y1="651" x2="522.75" y2="653.4" stroke="#231f20" stroke-width="1"/>
<text transform="translate(527.05,660.5) rotate(-45)" font-size="9" text-anchor="end" fill="#231f20" stroke="#231f20">CFPAC-1</text>
<rect x="532.35" y="620.3" width="8.9" height="30.7" fill="#ff2a00" stroke="#111" stroke-width="0.9"/>
<line x1="536.8" y1="618.11" x2="536.8" y2="622.49" stroke="#111" stroke-width="0.9"/>
<line x1="534.8" y1="618.11" x2="538.8" y2="618.11" stroke="#111" stroke-width="0.9"/>
<circle cx="534.43" cy="618.04" r="2" fill="#fff" stroke="#111" stroke-width="0.8"/>
<circle cx="534.43" cy="622.37" r="2" fill="#fff" stroke="#111" stroke-width="0.8"/>
<circle cx="539.25" cy="619.64" r="2" fill="#fff" stroke="#111" stroke-width="0.8"/>
<line x1="536.8" y1="651" x2="536.8" y2="653.4" stroke="#231f20" stroke-width="1"/>
<text transform="translate(541.1,660.5) rotate(-45)" font-size="9" text-anchor="end" fill="#231f20" stroke="#231f20">PANC-1</text>
<line x1="440.2" y1="651" x2="546" y2="651" stroke="#231f20" stroke-width="1"/>
<text x="637.4" y="577.6" font-size="9.1" text-anchor="middle" fill="#231f20" stroke="#231f20">CD8+ CAR-T</text>
<text transform="translate(563,614.8) rotate(-90)" font-size="9.4" text-anchor="middle" fill="#231f20" stroke="#231f20">TNF-&#945; (%)</text>
<text x="576.5" y="585.4" font-size="8.8" text-anchor="end" fill="#231f20" stroke="#231f20">50</text>
<text x="576.5" y="599.2" font-size="8.8" text-anchor="end" fill="#231f20" stroke="#231f20">40</text>
<text x="576.5" y="612.9" font-size="8.8" text-anchor="end" fill="#231f20" stroke="#231f20">30</text>
<text x="576.5" y="626.7" font-size="8.8" text-anchor="end" fill="#231f20" stroke="#231f20">20</text>
<text x="576.5" y="640.4" font-size="8.8" text-anchor="end" fill="#231f20" stroke="#231f20">10</text>
<text x="576.5" y="654.2" font-size="8.8" text-anchor="end" fill="#231f20" stroke="#231f20">0</text>
<line x1="578.7" y1="582.2" x2="581.7" y2="582.2" stroke="#231f20" stroke-width="1"/>
<line x1="578.7" y1="596" x2="581.7" y2="596" stroke="#231f20" stroke-width="1"/>
<line x1="578.7" y1="609.7" x2="581.7" y2="609.7" stroke="#231f20" stroke-width="1"/>
<line x1="578.7" y1="623.5" x2="581.7" y2="623.5" stroke="#231f20" stroke-width="1"/>
<line x1="578.7" y1="637.2" x2="581.7" y2="637.2" stroke="#231f20" stroke-width="1"/>
<line x1="578.7" y1="651" x2="581.7" y2="651" stroke="#231f20" stroke-width="1"/>
<line x1="581.7" y1="581.9" x2="581.7" y2="651.5" stroke="#555" stroke-width="1.1"/>
<rect x="586.25" y="650" width="8.9" height="1" fill="#ff2a00" stroke="#111" stroke-width="0.9"/>
<circle cx="588.65" cy="650.16" r="2" fill="#fff" stroke="#111" stroke-width="0.8"/>
<circle cx="591.06" cy="649.19" r="2" fill="#fff" stroke="#111" stroke-width="0.8"/>
<circle cx="593.79" cy="649.84" r="2" fill="#fff" stroke="#111" stroke-width="0.8"/>
<line x1="590.7" y1="651" x2="590.7" y2="653.4" stroke="#231f20" stroke-width="1"/>
<text transform="translate(595,660.5) rotate(-45)" font-size="9" text-anchor="end" fill="#231f20" stroke="#231f20">Ctrl</text>
<rect x="600.3" y="625.1" width="8.9" height="25.9" fill="#ff2a00" stroke="#111" stroke-width="0.9"/>
<circle cx="602.3" cy="624.46" r="2" fill="#fff" stroke="#111" stroke-width="0.8"/>
<circle cx="604.87" cy="623.98" r="2" fill="#fff" stroke="#111" stroke-width="0.8"/>
<circle cx="607.44" cy="624.46" r="2" fill="#fff" stroke="#111" stroke-width="0.8"/>
<line x1="604.75" y1="651" x2="604.75" y2="653.4" stroke="#231f20" stroke-width="1"/>
<text transform="translate(609.05,660.5) rotate(-45)" font-size="9" text-anchor="end" fill="#231f20" stroke="#231f20">JeKo-1</text>
<rect x="614.35" y="650" width="8.9" height="1" fill="#ff2a00" stroke="#111" stroke-width="0.9"/>
<circle cx="616.43" cy="650.16" r="2" fill="#fff" stroke="#111" stroke-width="0.8"/>
<circle cx="618.84" cy="649.19" r="2" fill="#fff" stroke="#111" stroke-width="0.8"/>
<circle cx="621.57" cy="649.67" r="2" fill="#fff" stroke="#111" stroke-width="0.8"/>
<line x1="618.8" y1="651" x2="618.8" y2="653.4" stroke="#231f20" stroke-width="1"/>
<text transform="translate(623.1,660.5) rotate(-45)" font-size="9" text-anchor="end" fill="#231f20" stroke="#231f20">Daudi</text>
<rect x="628.4" y="598.3" width="8.9" height="52.7" fill="#ff2a00" stroke="#111" stroke-width="0.9"/>
<line x1="632.85" y1="597.5" x2="632.85" y2="599.1" stroke="#111" stroke-width="0.9"/>
<line x1="630.85" y1="597.5" x2="634.85" y2="597.5" stroke="#111" stroke-width="0.9"/>
<circle cx="630.4" cy="598.29" r="2" fill="#fff" stroke="#111" stroke-width="0.8"/>
<circle cx="632.81" cy="596.68" r="2" fill="#fff" stroke="#111" stroke-width="0.8"/>
<circle cx="635.54" cy="597.48" r="2" fill="#fff" stroke="#111" stroke-width="0.8"/>
<line x1="632.85" y1="651" x2="632.85" y2="653.4" stroke="#231f20" stroke-width="1"/>
<text transform="translate(637.15,660.5) rotate(-45)" font-size="9" text-anchor="end" fill="#231f20" stroke="#231f20">MM.1S-A2</text>
<rect x="642.45" y="603.9" width="8.9" height="47.1" fill="#ff2a00" stroke="#111" stroke-width="0.9"/>
<line x1="646.9" y1="602.92" x2="646.9" y2="604.88" stroke="#111" stroke-width="0.9"/>
<line x1="644.9" y1="602.92" x2="648.9" y2="602.92" stroke="#111" stroke-width="0.9"/>
<circle cx="644.38" cy="604.23" r="2" fill="#fff" stroke="#111" stroke-width="0.8"/>
<circle cx="646.94" cy="602.3" r="2" fill="#fff" stroke="#111" stroke-width="0.8"/>
<circle cx="649.67" cy="603.59" r="2" fill="#fff" stroke="#111" stroke-width="0.8"/>
<line x1="646.9" y1="651" x2="646.9" y2="653.4" stroke="#231f20" stroke-width="1"/>
<text transform="translate(651.2,660.5) rotate(-45)" font-size="9" text-anchor="end" fill="#231f20" stroke="#231f20">KMS-12-BM-A2</text>
<rect x="656.5" y="628.8" width="8.9" height="22.2" fill="#ff2a00" stroke="#111" stroke-width="0.9"/>
<line x1="660.95" y1="625.99" x2="660.95" y2="631.61" stroke="#111" stroke-width="0.9"/>
<line x1="658.95" y1="625.99" x2="662.95" y2="625.99" stroke="#111" stroke-width="0.9"/>
<circle cx="658.51" cy="626.39" r="2" fill="#fff" stroke="#111" stroke-width="0.8"/>
<circle cx="658.51" cy="632.01" r="2" fill="#fff" stroke="#111" stroke-width="0.8"/>
<circle cx="663.33" cy="629.28" r="2" fill="#fff" stroke="#111" stroke-width="0.8"/>
<line x1="660.95" y1="651" x2="660.95" y2="653.4" stroke="#231f20" stroke-width="1"/>
<text transform="translate(665.25,660.5) rotate(-45)" font-size="9" text-anchor="end" fill="#231f20" stroke="#231f20">CFPAC-1</text>
<rect x="670.55" y="624" width="8.9" height="27" fill="#ff2a00" stroke="#111" stroke-width="0.9"/>
<circle cx="672.96" cy="623.18" r="2" fill="#fff" stroke="#111" stroke-width="0.8"/>
<circle cx="675.37" cy="622.05" r="2" fill="#fff" stroke="#111" stroke-width="0.8"/>
<circle cx="677.78" cy="623.18" r="2" fill="#fff" stroke="#111" stroke-width="0.8"/>
<line x1="675" y1="651" x2="675" y2="653.4" stroke="#231f20" stroke-width="1"/>
<text transform="translate(679.3,660.5) rotate(-45)" font-size="9" text-anchor="end" fill="#231f20" stroke="#231f20">PANC-1</text>
<line x1="578.7" y1="651" x2="686" y2="651" stroke="#231f20" stroke-width="1"/>
</svg>
</body></html>
